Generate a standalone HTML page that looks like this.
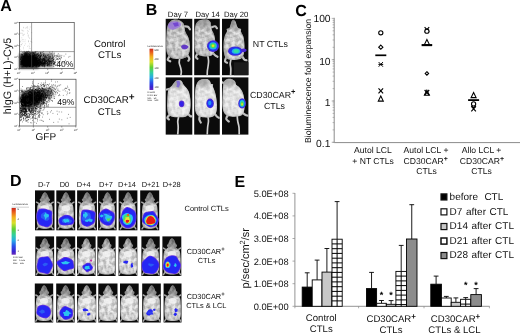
<!DOCTYPE html>
<html><head><meta charset="utf-8"><title>Figure</title>
<style>
html,body{margin:0;padding:0;background:#fff;}
body{width:520px;height:333px;overflow:hidden;}
svg{display:block;will-change:transform;}
text{font-family:"Liberation Sans", Arial, sans-serif;fill:#111;text-rendering:geometricPrecision;}
.b{font-weight:bold;fill:#000;}
</style></head><body>
<svg width="520" height="333" viewBox="0 0 520 333">
<defs>
<filter id="bl" x="-10%" y="-10%" width="120%" height="120%"><feGaussianBlur stdDeviation="0.55"/></filter>
<filter id="bl2" x="-20%" y="-20%" width="140%" height="140%"><feGaussianBlur stdDeviation="0.9"/></filter>
<filter id="tb" x="-5%" y="-5%" width="110%" height="110%"><feGaussianBlur stdDeviation="0.25"/></filter>
<linearGradient id="cbar" x1="0" y1="0" x2="0" y2="1">
<stop offset="0" stop-color="#c8281e"/><stop offset="0.08" stop-color="#e85a1c"/><stop offset="0.2" stop-color="#f2b01e"/>
<stop offset="0.32" stop-color="#d8e02a"/><stop offset="0.45" stop-color="#5fd035"/><stop offset="0.58" stop-color="#2fd0a0"/>
<stop offset="0.7" stop-color="#28a8e8"/><stop offset="0.82" stop-color="#2a50e8"/><stop offset="0.93" stop-color="#3a22d0"/><stop offset="1" stop-color="#6a2ab8"/>
</linearGradient>
<radialGradient id="body" cx="0.5" cy="0.5" r="0.6"><stop offset="0" stop-color="#f4f4f4"/><stop offset="0.7" stop-color="#d8d8d8"/><stop offset="1" stop-color="#a8a8a8"/></radialGradient>
<radialGradient id="hot" cx="0.5" cy="0.5" r="0.5"><stop offset="0" stop-color="#e8e020"/><stop offset="0.3" stop-color="#40d850"/><stop offset="0.55" stop-color="#20b8e8"/><stop offset="0.8" stop-color="#2030f0"/><stop offset="1" stop-color="#3a20c8"/></radialGradient>
<radialGradient id="hot2" cx="0.5" cy="0.5" r="0.5"><stop offset="0" stop-color="#40e0c0"/><stop offset="0.45" stop-color="#20a0f0"/><stop offset="0.8" stop-color="#2030f0"/><stop offset="1" stop-color="#5028d0"/></radialGradient>
<radialGradient id="hotr" cx="0.5" cy="0.5" r="0.5"><stop offset="0" stop-color="#e01010"/><stop offset="0.5" stop-color="#e81818"/><stop offset="0.62" stop-color="#f0d020"/><stop offset="0.72" stop-color="#40d850"/><stop offset="0.82" stop-color="#20b0f0"/><stop offset="0.92" stop-color="#2030f0"/><stop offset="1" stop-color="#4020c8"/></radialGradient>
</defs>
<rect width="520" height="333" fill="#fff"/>

<text x="0.3" y="11.2" font-size="16" text-anchor="start" class="b" >A</text>
<text transform="translate(11.2,114.2) rotate(-90)" font-size="10.8">hIgG (H+L)-Cy5</text>
<text x="35.6" y="140.2" font-size="10" text-anchor="start"  >GFP</text>
<rect x="19.6" y="52.8" width="34" height="14.799999999999997" fill="#111" opacity=".45" filter="url(#bl2)"/>
<rect x="19.6" y="54.5" width="19" height="14.099999999999994" fill="#000" opacity=".75" filter="url(#bl2)"/>
<path d="M28.9 48.2h.7M24.2 45.4h.7M24.9 52.2h.7M29.0 38.4h.7M28.1 41.8h.7M27.0 26.8h.7M22.3 33.3h.7M28.0 50.4h.7M27.1 46.3h.7M27.2 30.4h.7M22.7 41.7h.7M28.6 37.5h.7M27.9 35.3h.7M23.4 31.0h.7M24.6 41.7h.7M20.9 50.8h.7M23.8 51.0h.7M23.0 27.3h.7M27.9 36.4h.7M29.4 43.9h.7M24.9 43.8h.7M27.8 35.1h.7M21.9 43.6h.7M26.4 27.8h.7M21.5 37.8h.7M20.7 40.2h.7M24.3 34.3h.7M28.6 45.8h.7M20.4 42.1h.7M31.5 42.4h.7M31.4 32.6h.7M22.3 35.1h.7M22.4 30.8h.7M22.7 39.6h.7M29.3 46.7h.7M20.1 46.5h.7M27.3 33.5h.7M21.2 33.2h.7M23.2 47.3h.7M30.9 50.4h.7M29.8 48.6h.7M25.3 28.1h.7M22.4 30.3h.7M21.0 30.1h.7M23.4 27.9h.7M23.1 48.8h.7M22.5 39.8h.7M29.8 27.0h.7M28.3 40.7h.7M20.0 49.8h.7M29.1 29.2h.7M31.1 41.6h.7M27.2 32.1h.7M20.0 44.9h.7M28.2 31.3h.7M20.0 41.5h.7M23.3 35.6h.7M30.0 41.3h.7M21.0 44.8h.7M28.2 41.4h.7M31.0 39.0h.7M27.4 28.1h.7M23.2 34.4h.7M24.8 39.9h.7M21.0 44.6h.7M20.3 33.2h.7M26.6 27.2h.7" stroke="#888" stroke-width=".7" fill="none" opacity="0.5"/>
<path d="M27.7 58.5h.7M29.8 63.0h.7M32.5 63.5h.7M38.3 55.9h.7M25.7 65.9h.7M29.4 61.5h.7M33.7 64.5h.7M36.2 64.0h.7M28.7 56.8h.7M47.0 62.6h.7M29.5 65.0h.7M28.8 62.9h.7M35.5 59.3h.7M53.9 63.6h.7M29.0 65.5h.7M27.1 63.1h.7M26.3 53.0h.7M32.8 62.2h.7M44.7 64.4h.7M29.0 65.4h.7M23.8 57.0h.7M33.5 61.1h.7M25.7 64.9h.7M24.8 64.2h.7M28.2 63.7h.7M25.1 55.5h.7M34.7 63.5h.7M26.7 62.7h.7M29.0 66.0h.7M46.3 61.7h.7M34.5 54.0h.7M28.2 66.4h.7M26.1 56.9h.7M28.1 56.6h.7M37.6 58.3h.7M55.1 65.0h.7M28.6 61.6h.7M35.2 52.0h.7M24.7 57.2h.7M42.9 62.3h.7M21.1 60.2h.7M29.2 64.3h.7M39.0 57.5h.7M30.5 64.0h.7M36.8 65.0h.7M40.3 57.0h.7M24.3 64.0h.7M30.2 64.6h.7M41.8 52.2h.7M35.3 63.0h.7M49.4 52.2h.7M27.9 64.3h.7M43.6 62.1h.7M30.0 59.5h.7M23.8 56.1h.7M23.8 63.9h.7M24.3 62.3h.7M28.8 60.1h.7M24.7 53.1h.7M29.8 58.0h.7M25.6 64.6h.7M50.9 61.4h.7M28.1 60.3h.7M29.2 62.7h.7M21.0 64.5h.7M33.9 61.8h.7M26.5 63.7h.7M30.2 61.4h.7M24.3 62.3h.7M53.7 59.0h.7M36.1 64.1h.7M29.4 65.8h.7M28.8 62.0h.7M34.9 51.9h.7M31.3 65.1h.7M22.1 66.7h.7M23.3 65.9h.7M45.8 58.8h.7M33.5 61.1h.7M25.5 63.2h.7M55.3 60.8h.7M49.8 59.2h.7M26.3 63.2h.7M45.4 60.7h.7M25.9 62.4h.7M34.1 55.4h.7M30.3 64.3h.7M34.5 62.3h.7M23.3 62.4h.7M25.3 56.2h.7M32.4 66.0h.7M32.9 64.3h.7M31.6 59.1h.7M33.0 52.8h.7M26.0 65.9h.7M22.5 64.8h.7M29.3 54.6h.7M25.3 63.2h.7M40.8 58.3h.7M21.3 61.3h.7M26.5 65.0h.7M28.9 52.9h.7M25.2 58.5h.7M40.0 61.4h.7M29.8 57.4h.7M34.8 63.8h.7M28.4 59.6h.7M33.2 66.3h.7M23.2 64.1h.7M24.8 64.1h.7M46.6 63.5h.7M26.8 51.9h.7M31.3 59.8h.7M28.2 54.5h.7M28.4 61.9h.7M54.9 62.6h.7M25.3 58.4h.7M42.4 61.6h.7M25.4 62.0h.7M33.6 65.3h.7M26.1 58.2h.7M35.8 57.5h.7M26.0 63.4h.7M47.6 61.9h.7M32.8 59.9h.7M36.2 59.2h.7M22.4 63.0h.7M28.2 63.5h.7M28.3 60.6h.7M25.6 58.4h.7M33.5 60.9h.7M26.3 63.6h.7M33.7 52.2h.7M34.9 57.4h.7M33.7 65.4h.7M23.8 63.0h.7M24.1 54.7h.7M51.0 61.3h.7M34.4 65.3h.7M47.6 63.4h.7M34.7 63.6h.7M36.5 60.9h.7M22.8 59.0h.7M36.4 66.1h.7M33.9 58.1h.7M28.9 63.7h.7M29.0 59.3h.7M30.4 60.7h.7M36.9 60.3h.7M34.7 59.0h.7M37.0 60.6h.7M53.0 61.2h.7M24.0 51.6h.7M30.5 63.7h.7M39.8 64.2h.7M24.0 63.1h.7M32.1 60.5h.7M25.7 61.0h.7M26.9 61.2h.7M35.4 53.4h.7M46.8 63.3h.7M25.5 55.8h.7M30.0 56.0h.7M27.4 62.0h.7M30.5 62.8h.7M47.3 65.4h.7M57.9 53.7h.7M42.2 59.8h.7M39.0 60.4h.7M30.7 62.7h.7M22.9 53.3h.7M25.3 59.4h.7M33.8 59.8h.7M27.5 62.0h.7M36.5 64.5h.7M38.0 63.1h.7M25.2 63.0h.7M24.2 65.7h.7M32.5 60.8h.7M55.3 65.4h.7M44.5 63.8h.7M44.3 59.6h.7M28.7 53.6h.7M22.4 60.4h.7M34.9 52.6h.7M23.8 61.9h.7M31.1 58.6h.7M34.6 63.6h.7M33.6 63.6h.7M26.5 55.7h.7M39.7 52.3h.7M22.9 64.6h.7M39.5 65.3h.7M23.7 64.1h.7M26.5 61.5h.7M23.6 62.7h.7M26.0 58.9h.7M31.0 61.4h.7M43.9 58.6h.7M25.0 64.5h.7M34.3 61.5h.7M27.1 59.4h.7M28.7 61.8h.7M36.0 60.9h.7M49.4 65.9h.7M30.9 59.3h.7M23.8 58.0h.7M33.3 61.9h.7M34.4 60.2h.7M44.2 61.8h.7M40.3 56.0h.7M27.1 65.9h.7M31.0 66.0h.7M28.3 56.9h.7M31.7 61.0h.7M26.5 55.3h.7M31.4 53.4h.7M21.8 61.7h.7M24.2 61.1h.7M35.1 63.2h.7M32.5 62.6h.7M37.3 62.3h.7M22.6 60.4h.7M37.1 56.6h.7M22.5 61.2h.7M27.0 64.6h.7M27.1 58.2h.7M43.1 59.1h.7M30.2 62.4h.7M39.6 63.0h.7M34.9 62.4h.7M34.1 58.5h.7M29.3 55.2h.7M28.0 63.3h.7M28.2 64.7h.7M25.9 62.6h.7M26.2 62.9h.7M26.0 54.4h.7M22.4 64.6h.7M23.1 56.5h.7M32.8 61.7h.7M25.2 59.9h.7M34.6 61.0h.7M34.2 59.3h.7M40.6 62.1h.7M30.3 59.5h.7M30.8 57.3h.7M25.0 58.2h.7M33.5 58.1h.7M28.5 62.3h.7M32.1 59.7h.7M29.3 64.8h.7M22.1 59.3h.7M25.8 61.9h.7M33.0 56.6h.7M35.2 57.6h.7M31.3 64.2h.7M39.2 65.1h.7M20.9 61.3h.7M31.1 63.4h.7M44.2 57.4h.7M26.1 58.5h.7M29.1 61.7h.7M41.3 63.7h.7M31.3 61.7h.7M31.1 57.0h.7M48.7 60.9h.7M28.1 63.3h.7M22.7 56.8h.7M24.8 57.5h.7M36.0 61.8h.7M28.1 58.7h.7M51.7 58.6h.7M25.1 60.1h.7M28.2 56.9h.7M24.6 56.2h.7M38.0 62.6h.7M37.3 64.5h.7M27.0 57.0h.7M26.1 55.6h.7M31.0 64.5h.7M59.3 58.8h.7M40.8 59.5h.7M21.0 64.4h.7M59.9 57.0h.7M33.7 61.1h.7M37.3 62.6h.7M35.1 56.6h.7M32.0 62.9h.7M39.3 59.9h.7M27.4 58.3h.7M27.5 66.3h.7M25.3 62.3h.7M26.9 55.6h.7M32.1 57.1h.7M33.6 65.1h.7M37.6 63.1h.7M31.0 57.4h.7M41.2 59.6h.7M44.5 57.8h.7M63.9 62.7h.7M36.4 61.3h.7M41.3 55.2h.7M23.9 58.1h.7M25.4 60.6h.7M41.4 60.5h.7M32.9 57.0h.7M48.1 61.4h.7M35.2 63.7h.7M35.1 62.9h.7M63.7 56.1h.7M28.2 62.0h.7M38.1 58.8h.7M28.9 64.5h.7M29.6 63.3h.7M34.6 60.6h.7M32.0 52.1h.7M49.8 61.0h.7M21.5 62.8h.7M44.7 63.0h.7M22.1 60.7h.7M48.2 63.3h.7M36.6 54.2h.7M26.7 54.7h.7M34.5 57.1h.7M33.0 60.8h.7M27.9 61.7h.7M24.5 65.5h.7M30.9 61.9h.7M28.4 53.4h.7M37.4 56.6h.7M24.4 64.7h.7M35.6 62.5h.7M26.4 63.8h.7M28.4 61.0h.7M27.5 63.3h.7M26.5 61.6h.7M40.7 60.9h.7M26.0 62.9h.7M30.9 52.4h.7M36.2 55.1h.7M26.9 59.2h.7M27.0 58.7h.7M27.3 57.3h.7M26.8 58.6h.7M25.0 63.9h.7M54.2 53.2h.7M22.6 63.9h.7M30.7 58.7h.7M20.6 61.4h.7M40.0 60.1h.7M57.4 58.8h.7M24.6 66.1h.7M30.1 61.9h.7M20.5 59.2h.7M28.2 60.0h.7M30.1 61.5h.7M27.2 62.0h.7M34.0 59.8h.7M36.5 61.9h.7M47.3 60.5h.7M47.8 57.3h.7M36.0 53.1h.7M36.9 65.3h.7M22.3 63.2h.7M34.3 55.4h.7M34.4 57.9h.7M29.5 59.9h.7M22.7 64.4h.7M29.0 54.6h.7M39.7 61.2h.7M34.3 63.6h.7M23.8 58.3h.7M31.8 56.1h.7M27.2 52.0h.7M30.4 59.6h.7M27.2 57.8h.7M25.4 60.3h.7M45.2 57.3h.7M43.9 63.4h.7M23.8 53.0h.7M33.5 62.3h.7M43.0 58.4h.7M24.9 60.7h.7M30.3 61.1h.7M37.8 59.0h.7M44.4 63.1h.7M25.3 62.1h.7M33.8 63.5h.7M39.8 59.4h.7M26.7 59.1h.7M36.1 64.5h.7M53.3 63.6h.7M28.7 63.3h.7M40.2 61.3h.7M34.9 59.2h.7M28.9 54.5h.7M32.6 64.4h.7M22.6 60.6h.7M36.1 61.2h.7M36.9 64.0h.7M29.4 60.9h.7M24.0 57.6h.7M30.9 63.4h.7M37.8 62.2h.7M40.8 54.9h.7M32.0 60.3h.7M44.3 65.5h.7M31.0 64.9h.7M36.2 60.0h.7M24.9 61.8h.7M23.8 64.3h.7M22.3 61.4h.7M40.5 62.8h.7M26.9 61.0h.7M36.7 61.5h.7M26.4 61.6h.7M33.1 63.9h.7M31.1 64.4h.7M40.3 64.6h.7M36.4 65.2h.7M36.5 65.3h.7M23.5 64.6h.7M36.9 64.2h.7M28.6 56.5h.7M24.2 60.9h.7M32.9 63.1h.7M23.2 59.9h.7M26.5 58.2h.7M29.8 63.6h.7M27.4 63.5h.7M24.9 58.8h.7M36.8 58.1h.7M21.5 56.4h.7M43.0 60.5h.7M30.2 55.9h.7M41.0 63.1h.7M25.9 55.4h.7M47.1 65.7h.7M24.0 63.2h.7M29.9 62.3h.7M29.1 61.6h.7M32.0 63.0h.7M30.4 59.1h.7M26.9 62.1h.7M27.6 62.6h.7M28.5 62.5h.7M26.7 63.7h.7M28.1 51.6h.7M28.2 65.6h.7M48.7 58.7h.7M25.6 54.4h.7M23.4 56.5h.7M37.6 61.4h.7M37.5 62.6h.7M32.4 64.7h.7M57.1 61.9h.7M27.3 62.9h.7M29.2 64.6h.7M21.5 63.7h.7M49.9 65.6h.7M40.7 61.3h.7M44.2 60.9h.7M28.4 64.8h.7M48.3 60.0h.7M26.0 58.5h.7M24.7 65.4h.7M31.5 63.6h.7M30.9 62.1h.7M29.2 62.6h.7M24.6 61.8h.7M32.4 64.3h.7M32.0 64.9h.7M39.6 60.2h.7M29.0 63.3h.7M24.7 57.1h.7M27.1 61.8h.7M25.5 63.2h.7M32.3 56.8h.7M43.7 56.4h.7M25.7 58.3h.7M25.7 53.6h.7M27.3 62.5h.7M29.8 62.8h.7M35.0 61.3h.7M23.5 63.5h.7M38.1 55.7h.7M24.0 64.5h.7M31.1 59.3h.7M45.6 60.5h.7M25.6 64.1h.7M27.3 65.0h.7M23.8 60.9h.7M27.2 64.7h.7M24.6 63.4h.7M22.7 58.4h.7M68.4 57.1h.7M48.4 64.1h.7M30.4 53.7h.7M23.9 55.6h.7M28.7 64.0h.7M32.1 65.7h.7M22.5 61.2h.7M32.4 64.0h.7M26.4 60.4h.7M39.1 64.4h.7M54.3 62.9h.7M26.0 62.5h.7M24.9 65.3h.7M34.8 55.7h.7M34.8 59.5h.7M39.9 64.0h.7M25.7 64.9h.7M28.0 64.6h.7M50.0 57.1h.7M24.4 62.3h.7M28.6 58.7h.7M48.8 62.6h.7M34.2 65.1h.7M57.1 56.5h.7M24.5 56.1h.7M27.5 65.5h.7M35.4 58.8h.7M29.2 64.3h.7M44.5 64.6h.7M34.9 57.9h.7M37.4 63.4h.7M23.8 63.5h.7M25.8 52.9h.7M29.7 59.4h.7M24.9 60.8h.7M29.3 66.3h.7M47.7 65.9h.7M39.3 61.8h.7M40.7 61.5h.7M30.6 60.2h.7M40.6 53.5h.7M26.3 66.4h.7M25.9 64.8h.7M23.4 57.0h.7M23.6 62.0h.7M25.8 64.6h.7M26.4 56.6h.7M29.0 60.1h.7M30.0 52.3h.7M25.1 64.8h.7M26.4 61.9h.7M55.8 56.2h.7M29.3 60.3h.7M29.8 65.4h.7M48.8 62.0h.7M25.9 58.2h.7M36.9 61.3h.7M37.0 54.6h.7M23.2 60.6h.7M39.1 65.4h.7M48.2 61.5h.7M34.7 64.1h.7M41.8 54.2h.7M32.7 62.0h.7M29.2 61.9h.7M40.2 64.3h.7M30.1 60.8h.7M26.9 63.2h.7M40.3 58.7h.7M28.4 65.2h.7M29.0 66.5h.7M23.0 61.8h.7M27.2 63.1h.7M43.1 64.1h.7M30.9 59.0h.7M48.7 58.0h.7M33.2 63.2h.7M28.5 64.8h.7M33.8 64.7h.7M24.4 62.2h.7M39.2 60.2h.7M51.5 63.1h.7M39.0 65.3h.7M21.8 61.8h.7M25.8 65.4h.7M39.4 57.0h.7M42.6 63.7h.7M31.2 60.1h.7M29.9 60.0h.7M30.5 53.3h.7M23.7 63.9h.7M33.7 63.4h.7M29.9 62.4h.7M38.9 62.0h.7M30.3 62.9h.7M43.4 59.9h.7M26.6 65.5h.7M31.8 55.9h.7M43.1 62.6h.7M30.2 66.0h.7M38.9 59.0h.7M31.3 61.8h.7M29.9 64.6h.7M30.1 61.5h.7M24.6 65.6h.7M35.1 59.1h.7M29.2 59.6h.7M38.7 59.8h.7M26.9 56.2h.7M33.2 60.7h.7M33.9 63.6h.7M25.6 63.8h.7M25.7 62.6h.7M44.1 66.1h.7M31.0 60.2h.7M30.0 60.7h.7M38.2 62.1h.7M32.2 60.2h.7M29.5 61.6h.7M30.3 63.5h.7M28.3 55.5h.7M44.5 64.7h.7M33.2 64.5h.7M28.5 63.7h.7M32.5 52.8h.7M25.3 54.2h.7M53.6 56.6h.7M26.4 65.1h.7M29.7 62.2h.7M23.6 63.7h.7M54.9 62.3h.7M61.7 62.2h.7M28.4 61.3h.7M39.3 61.1h.7M58.5 57.3h.7M42.4 56.6h.7M29.3 63.4h.7M43.4 63.7h.7M27.1 53.8h.7M30.8 59.7h.7M59.4 58.5h.7M34.8 58.2h.7M24.9 60.4h.7M28.8 64.2h.7M39.9 55.9h.7M23.8 60.1h.7M26.3 52.1h.7M45.1 63.1h.7M25.4 64.2h.7M33.8 64.0h.7M34.0 60.9h.7M40.8 61.7h.7M44.1 59.3h.7M32.8 59.8h.7M43.0 54.6h.7M42.4 59.9h.7M32.8 61.9h.7M29.1 62.1h.7M35.1 60.3h.7M34.3 53.8h.7M37.3 63.9h.7M36.4 61.2h.7M36.9 61.8h.7M25.2 61.2h.7M46.7 64.3h.7M29.5 63.6h.7M23.5 62.1h.7M43.3 63.6h.7M30.6 64.6h.7M44.7 59.5h.7M38.7 61.1h.7M29.7 58.6h.7M24.5 57.8h.7M41.4 63.7h.7M37.9 53.0h.7M41.7 65.3h.7M32.0 58.6h.7M44.5 63.3h.7M24.9 53.7h.7M38.8 65.9h.7M58.1 59.3h.7M61.1 57.1h.7M29.0 63.8h.7M35.1 64.3h.7M26.6 57.2h.7M45.6 56.4h.7M30.9 64.0h.7M28.5 63.2h.7M23.3 62.3h.7M32.9 62.6h.7M53.2 57.6h.7M23.0 58.7h.7M33.2 60.3h.7M30.3 59.8h.7M25.2 63.0h.7M23.2 59.7h.7M29.0 55.3h.7M25.2 63.4h.7M31.8 59.1h.7M30.8 61.2h.7M32.2 62.1h.7M27.3 57.3h.7M44.3 63.0h.7M24.0 63.5h.7M26.9 57.3h.7M27.2 61.0h.7M29.8 61.6h.7M30.5 59.8h.7M27.9 62.2h.7M26.7 62.3h.7M49.6 62.3h.7M23.7 57.6h.7M31.4 64.3h.7M32.9 60.3h.7M31.0 62.1h.7M24.3 53.2h.7M24.1 65.5h.7M28.4 63.0h.7M28.3 55.9h.7M23.7 58.9h.7M43.1 58.6h.7M31.9 65.7h.7M24.6 58.5h.7M30.2 59.8h.7M32.9 65.7h.7M28.4 57.7h.7M22.3 62.4h.7M33.4 57.3h.7M59.7 58.6h.7M29.6 53.9h.7M32.9 64.0h.7M24.8 61.4h.7M53.5 62.3h.7M38.2 65.2h.7M51.3 63.4h.7M52.6 57.7h.7M33.1 61.8h.7M48.3 64.8h.7M27.2 61.9h.7M34.4 64.6h.7M48.1 60.2h.7M30.1 64.8h.7M20.9 54.1h.7M21.1 62.5h.7M32.7 55.2h.7M24.9 59.0h.7M47.0 65.6h.7M42.9 55.5h.7M27.1 55.9h.7M38.6 65.5h.7M31.5 63.5h.7M32.7 63.7h.7M24.1 62.0h.7M44.6 56.0h.7M23.9 62.7h.7M25.5 64.2h.7M21.5 60.9h.7M43.7 64.3h.7M25.2 56.2h.7M28.7 62.4h.7M27.3 65.4h.7M42.7 60.4h.7M28.0 61.4h.7M24.2 57.1h.7M23.3 65.8h.7M34.4 62.1h.7M35.9 59.4h.7M25.3 63.0h.7M24.0 57.1h.7M33.1 64.2h.7M35.4 60.8h.7M25.5 61.2h.7M23.6 65.3h.7M33.6 62.9h.7M25.4 64.2h.7M36.8 64.4h.7M27.5 57.5h.7M35.9 60.2h.7M23.3 64.6h.7M39.9 62.7h.7M30.0 60.0h.7M23.5 59.2h.7M23.1 56.7h.7M23.9 60.7h.7M38.1 64.5h.7M30.4 59.3h.7M33.3 58.9h.7M31.2 66.0h.7M28.9 62.8h.7M41.5 63.2h.7M24.4 58.8h.7M40.0 53.5h.7M49.5 60.5h.7M22.4 60.5h.7M38.1 60.3h.7M43.9 65.9h.7M23.7 65.8h.7M33.2 53.5h.7M35.4 60.6h.7M22.3 64.3h.7M24.6 62.5h.7M35.7 62.3h.7M31.6 60.8h.7M33.4 56.9h.7M28.9 62.0h.7M27.8 62.9h.7M33.0 60.1h.7M30.1 58.3h.7M29.9 62.7h.7M28.4 62.9h.7M47.0 55.6h.7M25.7 63.6h.7M26.7 61.9h.7M29.6 59.1h.7M38.5 66.1h.7M30.4 65.8h.7M38.3 64.4h.7M42.2 61.0h.7M24.6 59.8h.7M28.1 63.4h.7M49.6 63.6h.7M39.1 58.1h.7M26.2 62.0h.7M27.5 62.6h.7M23.5 60.8h.7M25.8 54.5h.7M33.1 63.2h.7M38.8 61.9h.7M32.7 53.1h.7M29.8 65.6h.7M21.0 60.4h.7M56.1 55.4h.7M38.0 63.2h.7M27.5 61.6h.7M24.9 52.6h.7M43.8 54.4h.7M25.4 63.3h.7M38.8 60.0h.7M42.4 58.9h.7M30.1 58.0h.7M25.3 65.1h.7M34.3 61.5h.7M28.7 51.7h.7M44.8 63.1h.7M27.6 59.1h.7M34.2 63.9h.7M30.9 60.3h.7M25.2 64.6h.7M31.4 53.9h.7M23.4 65.9h.7M57.0 55.7h.7M29.5 62.1h.7M43.6 58.7h.7M44.3 63.1h.7M31.0 61.7h.7M39.9 65.2h.7M29.6 65.2h.7M43.4 65.8h.7M30.5 59.6h.7M53.8 64.0h.7M26.0 56.9h.7M38.2 62.4h.7M41.7 52.4h.7M32.0 62.4h.7M26.6 63.2h.7M35.0 64.4h.7M35.2 63.8h.7M26.6 60.2h.7M23.6 64.5h.7M27.2 58.6h.7M37.4 60.5h.7M27.3 58.6h.7M34.3 58.9h.7M39.2 57.1h.7M26.8 61.4h.7M27.1 60.0h.7M36.4 58.1h.7M27.4 58.6h.7M31.9 57.0h.7M36.7 62.9h.7M25.6 57.2h.7M25.9 63.4h.7M34.2 65.4h.7M42.6 63.0h.7M32.1 63.4h.7M26.1 65.6h.7M54.8 55.6h.7M40.2 52.3h.7M26.4 64.8h.7M24.7 62.0h.7M43.8 61.5h.7M29.9 58.3h.7M26.6 62.7h.7M47.5 57.8h.7M59.5 63.9h.7M33.7 59.2h.7M40.0 53.1h.7M34.5 54.0h.7M33.9 58.6h.7M28.4 60.1h.7M31.0 63.6h.7M32.1 64.0h.7M44.5 59.0h.7M57.6 54.9h.7M25.2 64.4h.7M30.6 57.8h.7M33.7 61.5h.7M28.5 63.2h.7M33.8 62.8h.7M25.7 62.4h.7M25.8 60.5h.7M43.8 66.2h.7M52.1 51.9h.7M52.6 54.0h.7M31.6 56.8h.7M44.5 62.7h.7M30.9 59.7h.7M24.9 65.9h.7M40.6 55.9h.7M42.3 57.8h.7M26.3 65.3h.7M49.5 61.2h.7M47.7 59.6h.7M31.4 63.3h.7M24.1 61.5h.7M26.6 59.3h.7M30.7 66.1h.7M34.4 62.8h.7M27.5 54.0h.7M29.5 58.7h.7M25.7 61.2h.7M20.7 61.3h.7M40.8 63.2h.7M23.8 62.2h.7M29.3 59.2h.7M23.8 62.2h.7M24.8 62.0h.7M30.4 63.3h.7M30.5 55.9h.7M37.9 63.7h.7M25.1 60.9h.7M29.0 63.7h.7M34.1 61.8h.7M36.0 59.1h.7M25.7 62.8h.7M35.4 62.2h.7M27.1 65.0h.7M24.9 62.2h.7M32.9 63.6h.7M33.2 63.4h.7M45.0 62.1h.7M52.0 62.6h.7M50.5 62.0h.7M27.0 57.3h.7M27.7 60.2h.7M25.8 60.3h.7M38.7 64.1h.7M53.2 63.4h.7M39.7 62.3h.7M29.9 60.5h.7M32.3 61.0h.7M26.0 56.5h.7M31.5 63.0h.7M26.8 54.4h.7M29.5 64.1h.7M42.0 63.5h.7M49.4 56.4h.7M26.9 63.9h.7M39.0 61.1h.7M29.2 52.3h.7M32.3 64.1h.7M28.6 53.6h.7M37.9 55.9h.7M30.8 66.4h.7M24.2 59.7h.7M36.6 64.9h.7M33.1 55.3h.7M27.6 61.1h.7M31.9 64.3h.7M32.6 54.1h.7M32.9 54.9h.7M25.9 54.4h.7M24.9 66.0h.7M26.8 52.4h.7M30.5 60.9h.7M26.0 61.2h.7M33.0 58.4h.7M25.2 61.5h.7M28.6 59.4h.7M32.7 60.5h.7M26.7 59.1h.7M27.9 62.6h.7M29.8 63.0h.7M39.2 59.4h.7M47.6 64.5h.7M29.8 59.1h.7M28.9 62.7h.7M28.3 58.8h.7M27.8 56.9h.7M38.3 55.1h.7M36.0 59.6h.7M36.1 62.3h.7M43.8 62.8h.7M24.8 57.7h.7M29.4 56.3h.7M26.3 62.8h.7M31.6 63.1h.7M28.7 51.5h.7M27.2 59.6h.7M27.7 58.4h.7M29.4 62.1h.7M34.8 59.8h.7M33.7 64.3h.7M26.4 51.7h.7M38.9 62.1h.7M26.1 59.5h.7M30.3 64.7h.7M25.3 62.1h.7M26.2 61.4h.7M31.0 62.3h.7M34.7 57.5h.7M28.2 61.1h.7M51.1 53.8h.7M30.1 63.2h.7M26.5 62.3h.7M30.2 59.3h.7M24.4 64.9h.7M24.1 59.1h.7M36.3 63.5h.7M34.1 57.1h.7M28.1 63.5h.7M25.0 64.2h.7M30.0 62.6h.7M34.9 59.6h.7M28.3 64.1h.7M48.6 56.4h.7M35.2 64.7h.7M40.9 55.1h.7M26.6 55.8h.7M42.9 58.4h.7M36.9 61.7h.7M31.8 58.3h.7M29.5 61.5h.7M37.0 62.6h.7M32.5 62.5h.7M35.9 63.0h.7M39.6 63.1h.7M27.3 63.2h.7M26.3 61.1h.7M36.5 61.5h.7M36.3 61.4h.7M28.1 57.8h.7M24.8 66.1h.7M29.4 55.3h.7M28.7 60.9h.7M35.1 62.9h.7M24.6 65.4h.7M24.2 63.1h.7M20.7 64.3h.7M34.9 59.9h.7M25.6 54.6h.7M39.8 59.2h.7M47.8 65.2h.7M31.7 62.0h.7M27.3 62.7h.7M30.7 59.9h.7M37.4 57.1h.7M28.4 62.6h.7M27.4 64.3h.7M28.0 59.6h.7M36.6 58.2h.7M38.7 59.0h.7M46.4 58.7h.7M27.6 60.8h.7M40.1 58.6h.7M35.0 62.3h.7M23.1 62.9h.7M31.0 64.1h.7M28.9 63.0h.7M20.6 62.2h.7M21.8 63.3h.7M32.8 57.9h.7M29.1 66.0h.7M56.5 56.9h.7M27.1 61.7h.7M47.7 55.4h.7M40.6 61.9h.7M27.6 57.3h.7M50.1 61.9h.7M34.1 61.2h.7M42.0 61.5h.7M57.5 59.1h.7M25.5 64.7h.7M34.5 64.8h.7M53.2 64.8h.7M38.7 60.0h.7M29.8 64.4h.7M24.9 59.1h.7M28.3 52.0h.7M25.3 64.2h.7M27.4 62.5h.7M28.0 52.9h.7M44.0 61.2h.7M47.7 61.0h.7M27.6 56.8h.7M28.9 62.5h.7M46.8 54.9h.7M24.5 62.6h.7M25.7 64.3h.7M30.1 58.4h.7M30.7 63.1h.7M38.3 62.9h.7M22.9 63.1h.7M35.4 64.4h.7M44.5 57.1h.7M24.3 59.8h.7M53.9 56.2h.7M31.7 53.7h.7M47.3 60.2h.7M28.8 66.2h.7M31.9 56.6h.7M25.1 64.4h.7M27.3 64.5h.7M31.5 55.7h.7M27.9 60.8h.7M45.3 62.1h.7M30.4 64.9h.7M46.0 60.8h.7M29.9 65.0h.7M39.0 60.6h.7M31.3 57.5h.7M34.7 59.1h.7M44.5 61.0h.7M29.9 63.9h.7M43.0 53.3h.7M27.3 63.1h.7M35.4 64.0h.7M30.6 57.0h.7M29.5 53.1h.7M33.6 59.6h.7M27.6 57.2h.7M26.6 66.2h.7M24.8 52.7h.7M30.7 65.3h.7M45.6 57.0h.7M31.0 64.7h.7M25.1 65.3h.7M33.6 62.5h.7M29.1 59.0h.7M38.3 58.2h.7M48.2 64.1h.7M27.8 57.7h.7M44.5 65.7h.7M35.9 59.3h.7M24.7 58.6h.7M34.3 56.4h.7M28.9 65.9h.7M33.6 64.6h.7M40.3 57.2h.7M41.5 64.8h.7M31.6 61.2h.7M26.7 64.6h.7M24.5 56.3h.7M49.5 57.4h.7M31.5 64.0h.7M31.9 55.5h.7M27.6 66.1h.7M26.5 63.0h.7M27.6 54.8h.7M27.6 63.4h.7M31.6 61.0h.7M34.3 59.3h.7M38.3 62.8h.7M31.1 52.4h.7M24.8 59.5h.7M29.9 66.1h.7M41.3 63.3h.7M34.6 54.1h.7M39.3 62.5h.7M28.8 63.3h.7M40.1 56.5h.7M33.2 59.2h.7M40.2 60.3h.7M34.7 60.5h.7M46.2 62.2h.7M40.2 62.2h.7M39.1 57.0h.7M24.3 63.1h.7M28.9 66.3h.7M48.8 62.8h.7M22.8 66.7h.7M28.4 62.1h.7M41.0 59.0h.7M26.4 62.7h.7M24.2 58.7h.7M42.0 63.2h.7M21.9 62.9h.7M45.2 60.3h.7M45.7 64.4h.7M41.4 62.0h.7M51.2 62.5h.7M49.3 58.6h.7M27.9 62.0h.7M29.9 63.4h.7M23.6 63.8h.7M33.2 63.8h.7M36.3 56.0h.7M42.4 62.0h.7M27.6 56.2h.7M30.1 56.2h.7M25.7 60.4h.7M35.1 59.4h.7M24.0 54.0h.7M28.0 59.3h.7M31.1 56.9h.7M42.2 60.3h.7M27.8 63.0h.7M28.6 56.3h.7M36.2 64.9h.7M37.7 63.6h.7M23.8 61.3h.7M30.3 55.9h.7M34.5 64.9h.7M34.2 52.9h.7M40.4 64.8h.7M25.9 60.9h.7M27.2 62.0h.7M32.4 64.6h.7M55.7 59.2h.7M26.3 64.1h.7M43.2 63.3h.7M45.3 59.5h.7M24.3 58.8h.7M35.6 59.3h.7M31.5 52.4h.7M25.3 63.3h.7M29.3 61.7h.7M35.7 64.5h.7M25.8 57.3h.7M29.8 62.7h.7M25.3 61.2h.7M28.6 56.3h.7M49.7 61.3h.7M31.5 63.2h.7M41.7 62.3h.7M34.9 52.2h.7M46.5 63.6h.7M26.8 62.5h.7M32.1 60.8h.7M35.9 65.0h.7M34.3 60.8h.7M30.2 54.5h.7M25.0 55.1h.7M33.7 57.3h.7M28.9 62.1h.7M43.2 51.6h.7M28.8 65.8h.7M30.5 57.4h.7M24.0 65.7h.7M40.8 55.5h.7M47.9 58.9h.7M43.5 63.6h.7M27.4 59.4h.7M37.8 59.4h.7M33.9 58.5h.7M32.0 58.2h.7M32.4 63.3h.7M23.7 61.4h.7M42.6 65.1h.7M39.7 55.3h.7M24.3 63.8h.7M23.2 64.0h.7M45.1 61.6h.7M39.9 57.4h.7M32.9 62.0h.7M24.3 65.4h.7M28.3 64.2h.7M33.2 58.3h.7M25.9 51.4h.7M26.9 56.5h.7M25.4 54.3h.7M30.9 61.7h.7M33.3 63.0h.7M26.8 64.7h.7M52.1 56.2h.7M51.3 58.3h.7M24.1 63.8h.7M29.3 62.7h.7M25.6 59.3h.7M32.2 59.1h.7M38.3 62.8h.7M26.0 53.1h.7M37.0 62.3h.7M33.2 62.8h.7M33.0 59.0h.7M32.5 58.8h.7M22.1 58.4h.7M50.0 56.4h.7M24.7 52.0h.7M32.1 61.0h.7M33.6 57.9h.7M23.6 63.2h.7M25.5 62.4h.7M20.2 58.6h.7M42.7 64.4h.7M38.5 66.0h.7M25.7 64.4h.7M39.3 64.0h.7M31.5 62.3h.7M61.8 66.0h.7M32.3 60.5h.7M24.2 62.0h.7M27.9 63.8h.7M26.8 54.0h.7M28.6 63.6h.7M22.0 55.0h.7M33.5 63.3h.7M65.5 54.1h.7M31.8 57.9h.7M42.9 57.9h.7M46.9 65.3h.7M39.3 63.7h.7M21.8 62.8h.7M38.2 62.7h.7M34.6 59.7h.7M29.1 52.8h.7M48.6 64.3h.7M36.2 65.5h.7M22.3 62.7h.7M21.3 61.7h.7M22.4 60.8h.7M41.1 63.9h.7M24.4 54.5h.7M41.7 59.6h.7M23.4 61.0h.7M31.2 53.2h.7M26.8 65.4h.7M30.0 53.4h.7M29.5 62.7h.7M27.4 64.7h.7M25.7 57.3h.7M42.5 62.9h.7M21.2 57.7h.7M36.1 61.3h.7M29.0 62.2h.7M25.3 58.4h.7M23.7 53.0h.7M45.8 61.9h.7M32.7 58.2h.7M29.4 54.6h.7M34.2 52.3h.7M20.4 59.2h.7M24.6 62.3h.7M25.0 61.2h.7M24.6 61.3h.7M25.4 57.3h.7M21.5 61.8h.7M40.2 59.2h.7M49.5 62.5h.7M32.9 62.8h.7M29.7 62.1h.7M26.2 62.7h.7M26.5 64.8h.7M54.1 64.5h.7M28.9 59.5h.7M26.1 61.2h.7M49.0 61.6h.7M29.5 57.3h.7M28.0 60.5h.7M30.6 59.4h.7M35.7 51.6h.7M29.5 60.1h.7M28.6 61.9h.7M32.2 57.6h.7M24.2 63.8h.7M24.2 55.1h.7M26.8 61.0h.7M40.1 54.8h.7M31.3 64.1h.7M31.7 57.5h.7M30.1 61.8h.7M41.3 62.8h.7M35.6 57.2h.7M34.4 62.1h.7M28.1 62.9h.7M28.1 53.4h.7M34.0 60.3h.7M22.3 58.8h.7M25.0 56.6h.7M32.5 62.1h.7M33.7 63.6h.7M36.0 58.6h.7M23.2 59.6h.7M39.1 63.3h.7M27.7 54.1h.7M30.0 58.8h.7M28.6 62.9h.7M34.1 64.5h.7M27.2 59.1h.7M27.0 62.2h.7M33.8 62.9h.7M47.2 63.8h.7M31.7 66.6h.7M36.0 60.3h.7M37.9 53.2h.7M31.0 61.4h.7M33.4 56.3h.7M26.6 64.4h.7M27.2 59.1h.7M27.0 58.3h.7M32.1 62.2h.7M36.5 58.5h.7M29.3 64.9h.7M34.9 64.2h.7M42.4 65.9h.7M45.4 63.0h.7M27.4 57.9h.7M44.5 59.5h.7M22.1 52.3h.7M35.8 60.0h.7M44.2 60.6h.7M32.0 59.7h.7M32.3 59.0h.7M25.8 62.5h.7M31.2 60.9h.7M34.8 61.1h.7M23.3 52.0h.7M44.4 58.3h.7M50.5 63.7h.7M34.5 55.2h.7M34.3 64.2h.7M40.2 56.7h.7M58.9 56.6h.7M48.8 63.5h.7M32.4 56.3h.7M24.5 62.3h.7M25.1 60.4h.7M31.1 60.7h.7M22.4 59.9h.7M28.5 60.8h.7M25.4 62.8h.7M38.0 62.1h.7M36.5 63.8h.7M28.4 57.6h.7M33.7 63.8h.7M34.8 58.6h.7M30.4 63.8h.7M33.1 64.2h.7M39.0 63.4h.7M25.7 62.0h.7M27.2 57.0h.7M31.6 56.8h.7M27.3 53.6h.7M28.6 61.5h.7M29.5 57.2h.7M65.0 60.3h.7M38.2 66.1h.7M29.2 58.7h.7M31.6 64.5h.7M40.2 56.6h.7M37.3 64.9h.7M25.5 63.2h.7M23.0 59.0h.7M38.1 61.2h.7M41.4 62.8h.7M37.7 60.4h.7M26.0 64.5h.7M25.1 60.5h.7M47.5 60.2h.7M45.2 55.1h.7M26.5 59.8h.7M30.6 61.3h.7M51.0 61.3h.7M40.1 58.4h.7M52.5 60.1h.7M34.2 62.7h.7M23.9 57.5h.7M27.0 64.2h.7M22.4 56.4h.7M26.2 56.5h.7M26.8 57.9h.7M31.3 60.1h.7M25.3 62.3h.7M36.7 61.7h.7M29.2 63.0h.7M27.9 60.5h.7M26.8 65.2h.7M26.3 60.7h.7M28.6 61.1h.7M26.3 63.0h.7M31.5 63.2h.7M38.1 60.5h.7M35.0 62.3h.7M34.5 65.3h.7M28.4 56.3h.7M25.3 53.3h.7M24.5 63.8h.7M24.8 63.9h.7M46.4 61.6h.7M44.2 63.6h.7M24.4 62.2h.7M48.6 56.0h.7M33.3 59.9h.7M36.1 64.2h.7M46.0 57.1h.7M34.8 63.7h.7M26.7 63.9h.7M39.8 64.5h.7M32.3 63.2h.7M26.8 61.7h.7M43.7 60.7h.7M37.9 60.6h.7M26.8 55.6h.7M69.6 56.4h.7M29.2 62.8h.7M51.8 60.9h.7M23.8 61.6h.7M22.3 63.3h.7M47.3 62.1h.7M43.9 60.2h.7M27.3 63.7h.7M33.8 62.1h.7M28.1 63.6h.7M44.7 60.8h.7M27.2 61.7h.7M29.9 61.9h.7M21.6 55.1h.7M43.4 59.1h.7M23.2 60.4h.7M32.1 56.9h.7M25.7 61.8h.7M34.0 60.4h.7M23.3 56.4h.7M24.1 62.6h.7M27.5 61.0h.7M24.3 58.3h.7M23.9 64.3h.7M35.3 62.4h.7M42.5 65.9h.7M33.6 62.0h.7M31.2 60.0h.7M31.7 61.9h.7M33.1 52.7h.7M43.2 55.7h.7M23.4 64.9h.7M41.7 64.5h.7M43.6 55.2h.7M25.1 64.9h.7M25.8 58.5h.7M38.7 63.1h.7M37.5 53.5h.7M30.5 63.7h.7M32.7 54.4h.7M34.2 62.1h.7M22.7 60.0h.7M33.4 63.2h.7M48.9 65.0h.7M30.4 62.9h.7M31.5 61.7h.7M26.0 63.9h.7M37.5 60.0h.7M23.4 57.4h.7M27.0 60.9h.7M27.8 56.3h.7M24.6 62.9h.7M31.8 61.7h.7M41.0 60.1h.7M28.6 59.5h.7M39.8 57.9h.7M29.5 61.3h.7M25.5 61.1h.7M54.0 63.4h.7M32.5 60.9h.7M43.7 60.1h.7M51.5 60.2h.7M35.0 66.2h.7M27.6 57.6h.7M26.5 58.9h.7M24.1 63.3h.7M38.2 64.6h.7M28.8 61.6h.7M24.0 55.8h.7M29.2 66.2h.7M30.6 65.6h.7M30.9 57.8h.7M21.8 57.0h.7M27.7 62.5h.7M50.8 64.8h.7M26.6 57.3h.7M39.5 63.8h.7M24.7 63.5h.7M27.8 62.5h.7M27.8 56.5h.7M43.4 64.6h.7M51.1 63.7h.7M30.3 61.4h.7M33.4 52.7h.7M24.6 65.4h.7M31.7 61.8h.7M25.3 64.4h.7M50.2 61.6h.7M43.3 62.0h.7M59.5 55.1h.7M23.8 62.7h.7M26.3 60.3h.7M27.8 59.4h.7M44.1 65.0h.7M39.3 65.3h.7M20.2 57.2h.7M38.0 66.4h.7M35.5 65.2h.7M27.4 61.1h.7M30.6 61.8h.7M27.7 63.1h.7M35.1 62.8h.7M24.7 63.4h.7M27.3 63.1h.7M29.2 60.1h.7M45.1 64.8h.7M37.0 58.5h.7M24.8 58.6h.7M45.7 56.0h.7M27.7 51.9h.7M60.1 59.3h.7M35.4 62.3h.7M30.9 58.7h.7M38.5 60.0h.7M24.7 53.0h.7M37.9 65.4h.7M45.1 65.9h.7M35.8 55.0h.7M38.8 57.0h.7M41.1 64.2h.7M34.1 65.4h.7M23.6 55.7h.7M42.2 61.1h.7M35.4 57.3h.7M26.1 63.9h.7M37.0 59.8h.7M31.3 60.2h.7M44.5 60.5h.7M29.0 58.5h.7M28.8 64.4h.7M30.7 63.4h.7M35.6 62.8h.7M26.8 59.0h.7M26.7 55.1h.7M23.2 61.6h.7M25.1 60.5h.7M25.0 56.4h.7M26.9 63.1h.7M38.1 61.7h.7M24.0 62.9h.7M42.6 62.7h.7M53.0 60.0h.7M25.1 61.0h.7M43.1 58.4h.7M35.4 59.5h.7M24.2 57.5h.7M23.2 59.4h.7M24.3 58.7h.7M22.1 62.7h.7M33.3 60.6h.7M52.1 57.1h.7M45.9 63.5h.7M33.6 56.7h.7M27.9 63.8h.7M26.5 63.9h.7M53.4 66.5h.7M42.0 59.4h.7M29.2 58.4h.7M45.1 55.9h.7M25.6 56.8h.7M41.9 64.2h.7M52.2 58.7h.7M22.8 62.1h.7M26.4 60.2h.7M42.2 64.5h.7M39.2 64.5h.7M41.0 65.5h.7M30.4 65.4h.7M24.6 58.9h.7M39.9 62.7h.7M48.4 54.5h.7M28.0 63.8h.7M35.6 59.1h.7M20.3 64.5h.7M45.4 63.2h.7M32.1 63.8h.7M25.5 63.1h.7M32.9 61.7h.7M32.0 60.8h.7M47.8 57.1h.7M25.5 62.6h.7M35.2 60.2h.7M30.4 57.5h.7M34.0 60.7h.7M29.1 59.6h.7M33.8 53.7h.7M28.2 62.3h.7M29.3 63.7h.7M35.7 61.2h.7M44.1 66.9h.7M49.1 58.2h.7M34.9 63.5h.7M43.7 53.4h.7M43.1 56.0h.7M32.6 60.0h.7M33.7 61.7h.7M37.3 66.3h.7M25.0 61.1h.7M28.2 65.2h.7M26.8 64.5h.7M49.8 53.9h.7M64.4 61.6h.7M27.6 62.5h.7M26.5 57.0h.7M24.0 62.0h.7M27.4 54.2h.7M36.0 54.6h.7M34.9 65.9h.7M42.2 58.8h.7M28.8 64.7h.7M48.2 62.3h.7M50.3 61.7h.7M35.8 59.3h.7M37.6 63.9h.7M37.2 58.0h.7M28.2 58.8h.7M31.7 55.9h.7M25.8 61.3h.7M39.3 55.1h.7M44.2 63.3h.7M26.2 64.9h.7M28.7 61.7h.7M25.9 58.5h.7M31.3 59.1h.7M28.4 62.7h.7M25.5 62.3h.7M28.9 65.2h.7M22.9 63.2h.7M29.5 60.8h.7M45.9 60.9h.7M24.5 62.1h.7M24.1 59.3h.7M27.2 65.5h.7M32.4 63.1h.7M22.8 63.4h.7M27.5 65.2h.7M49.8 58.6h.7M33.5 62.0h.7M32.0 52.9h.7M35.1 61.6h.7M31.5 63.9h.7M27.4 59.9h.7M35.6 62.0h.7M29.8 55.7h.7M33.1 53.4h.7M42.2 65.4h.7M39.4 59.1h.7M43.1 60.1h.7M30.1 65.4h.7M32.0 63.8h.7M32.7 66.4h.7M28.4 55.0h.7M33.5 61.4h.7M24.9 59.3h.7M27.8 59.7h.7M32.3 62.0h.7M25.3 59.2h.7M28.5 64.7h.7M48.7 60.6h.7M44.3 62.6h.7M30.7 63.4h.7M40.2 65.9h.7M25.0 57.8h.7M27.8 61.4h.7M29.3 62.1h.7M27.9 63.5h.7M27.4 62.9h.7M26.5 62.7h.7M31.6 63.9h.7M50.8 59.1h.7M27.0 56.7h.7M25.4 62.3h.7M28.4 59.5h.7M53.9 62.0h.7M38.4 63.0h.7M40.5 58.7h.7M43.5 59.8h.7M36.8 60.6h.7M35.4 58.4h.7M53.4 63.5h.7M59.9 61.0h.7M43.7 64.4h.7M21.8 57.1h.7M31.7 54.8h.7M21.2 63.4h.7M21.7 59.1h.7M21.3 60.2h.7M24.9 56.9h.7M56.9 59.2h.7M28.3 60.9h.7M28.5 64.8h.7M28.3 63.0h.7M34.0 61.3h.7M28.8 57.7h.7M31.2 58.1h.7M34.9 58.5h.7M28.8 60.8h.7M39.5 66.0h.7M26.9 51.6h.7M49.7 57.4h.7M21.2 54.6h.7M33.3 62.3h.7M33.1 56.9h.7M24.6 54.1h.7M29.6 60.5h.7M44.4 58.3h.7M32.4 63.6h.7M42.1 63.8h.7M24.3 55.4h.7M33.7 60.3h.7M36.7 64.8h.7M46.6 57.9h.7M28.0 63.6h.7M43.2 66.0h.7M25.3 63.5h.7M51.8 60.8h.7M33.4 60.4h.7M34.2 54.5h.7M34.1 60.9h.7M32.8 62.5h.7M32.2 66.6h.7M29.0 56.5h.7M31.9 59.9h.7M33.4 55.4h.7M40.6 52.9h.7M39.0 65.7h.7M54.2 55.1h.7M25.0 62.7h.7M23.5 64.4h.7M32.7 63.4h.7M22.9 60.1h.7M25.5 56.6h.7M26.9 59.3h.7M40.8 63.8h.7M26.6 63.3h.7M38.6 62.8h.7M25.8 60.6h.7M30.1 58.5h.7M27.6 60.1h.7M34.8 62.4h.7M36.4 65.1h.7M61.5 55.4h.7M31.9 58.2h.7M22.6 61.7h.7M32.3 62.3h.7M34.1 60.7h.7M25.0 52.7h.7M33.0 63.1h.7M24.5 62.2h.7M51.6 63.1h.7M37.6 54.7h.7M33.4 55.3h.7M47.4 64.6h.7M34.3 63.1h.7M25.7 61.3h.7M36.3 62.0h.7M30.9 58.8h.7M26.4 60.5h.7M26.8 63.0h.7M38.5 66.2h.7M45.4 62.0h.7M36.1 66.8h.7M39.0 66.0h.7M29.2 62.6h.7M25.8 54.8h.7M27.9 60.4h.7M30.5 61.5h.7M54.5 62.8h.7M26.7 63.6h.7M31.4 56.7h.7M45.3 58.6h.7M42.9 64.7h.7M23.5 62.3h.7M25.8 63.4h.7M24.7 58.5h.7M33.1 62.2h.7M29.3 56.6h.7M23.0 58.1h.7M35.1 62.1h.7M32.4 63.8h.7M28.5 58.3h.7M24.6 62.4h.7M30.8 65.4h.7M25.9 61.6h.7M25.3 55.5h.7M29.7 64.8h.7M34.7 63.3h.7M25.3 65.1h.7M26.8 64.0h.7M42.7 65.3h.7M22.5 57.6h.7M23.7 57.7h.7M36.8 60.7h.7M33.1 61.5h.7M36.5 62.7h.7M48.9 64.4h.7M26.2 60.2h.7M31.9 63.6h.7M28.9 58.4h.7M25.6 65.6h.7M26.8 64.4h.7M32.9 66.3h.7M32.8 62.8h.7M28.8 61.0h.7M39.5 62.0h.7M38.3 63.1h.7M37.3 63.5h.7M42.9 63.3h.7M29.2 62.6h.7M37.3 54.0h.7M48.4 59.3h.7M32.7 53.3h.7M32.5 64.9h.7M25.3 54.0h.7M39.6 56.2h.7M28.3 61.8h.7M36.3 57.2h.7M41.4 65.4h.7M22.2 63.7h.7M40.4 61.8h.7M49.6 63.1h.7M53.4 61.8h.7M37.3 64.4h.7M22.8 61.0h.7M42.2 63.7h.7M53.3 59.6h.7M31.1 62.0h.7M23.8 61.2h.7M29.9 61.4h.7M39.7 59.9h.7M32.3 59.3h.7M27.3 59.3h.7M24.4 62.5h.7M42.9 63.4h.7M29.5 63.0h.7M30.9 62.8h.7M38.5 64.7h.7M27.3 63.3h.7M37.4 64.4h.7M29.8 59.3h.7M52.3 58.0h.7M32.1 58.8h.7M27.6 64.1h.7M42.3 61.2h.7M25.9 64.4h.7M36.0 61.7h.7M34.0 61.8h.7M26.7 56.7h.7M28.7 63.4h.7M27.8 61.4h.7M23.6 56.7h.7M36.9 64.2h.7M23.1 59.5h.7M38.9 62.7h.7M38.7 54.7h.7M31.1 56.9h.7M22.5 56.9h.7M26.7 66.1h.7M36.2 64.6h.7M49.6 60.0h.7M31.4 64.4h.7M23.4 63.9h.7M26.2 58.9h.7M26.1 58.3h.7M28.4 64.6h.7M25.4 55.9h.7M40.4 62.4h.7M25.9 62.2h.7M34.5 60.6h.7M20.4 63.6h.7M25.3 65.0h.7M40.1 63.2h.7M26.8 66.6h.7M29.7 56.9h.7M48.7 64.6h.7M24.3 56.1h.7M26.3 53.2h.7M24.4 63.1h.7M27.0 65.7h.7M47.1 63.0h.7M33.6 61.1h.7M31.8 62.8h.7M25.8 60.0h.7M51.4 65.4h.7M23.9 60.3h.7M40.1 62.7h.7M28.8 57.1h.7M35.0 55.6h.7M47.7 65.9h.7M33.3 63.2h.7M34.6 60.4h.7M34.1 56.1h.7M45.8 57.3h.7M26.8 63.0h.7M33.6 60.3h.7M26.8 62.8h.7M33.1 62.1h.7M23.0 59.6h.7M21.0 62.0h.7M40.6 63.9h.7M35.2 64.3h.7M27.3 60.8h.7M34.4 58.6h.7M53.0 59.7h.7M27.5 61.9h.7M31.3 57.4h.7M29.2 64.3h.7M33.1 56.7h.7M52.6 58.8h.7M38.8 64.2h.7M40.2 62.8h.7M25.0 54.8h.7M23.7 58.2h.7M27.4 63.5h.7M52.2 55.3h.7M44.6 56.1h.7M31.7 63.5h.7M31.7 53.2h.7M53.5 59.1h.7M36.2 64.4h.7M25.5 62.4h.7M39.4 60.9h.7M26.3 60.9h.7M36.8 51.8h.7M35.0 61.8h.7M29.4 54.7h.7M22.9 65.4h.7M25.6 61.6h.7M52.6 61.4h.7M26.9 64.2h.7M32.6 62.5h.7M27.1 63.3h.7M42.9 59.4h.7M40.3 61.3h.7M30.7 64.8h.7M35.6 61.4h.7M26.7 53.8h.7M36.8 59.3h.7M34.2 54.7h.7M23.3 56.2h.7M25.4 55.7h.7M22.6 64.7h.7M24.0 60.7h.7M24.6 61.9h.7M56.7 58.7h.7M35.6 60.0h.7M28.2 61.3h.7M35.7 62.9h.7M25.1 66.4h.7M30.4 59.5h.7M38.2 60.7h.7M30.8 63.1h.7M35.1 64.9h.7M33.4 65.2h.7M28.7 61.1h.7M39.4 62.2h.7M52.3 60.8h.7M31.0 59.9h.7M43.3 55.4h.7M31.3 64.9h.7M26.5 54.1h.7M25.2 60.1h.7M22.4 55.1h.7M36.1 58.0h.7M29.8 59.9h.7M26.1 55.4h.7M24.0 58.8h.7M49.5 65.8h.7M30.0 61.2h.7M34.0 63.4h.7M28.6 59.6h.7M28.3 59.8h.7M21.5 58.2h.7M46.6 60.1h.7M41.9 62.8h.7M33.2 60.7h.7M30.0 59.2h.7M30.4 60.6h.7M34.4 58.0h.7M56.4 59.3h.7M30.1 52.7h.7M39.5 59.5h.7M24.9 59.9h.7M25.8 59.7h.7M49.1 61.6h.7M42.3 59.9h.7M38.7 58.8h.7M31.6 62.8h.7M24.7 66.4h.7M20.7 63.4h.7M28.3 64.0h.7M48.6 59.2h.7M28.6 63.3h.7M40.5 64.4h.7M29.8 65.1h.7M27.0 63.9h.7M23.0 60.1h.7M30.1 65.7h.7M23.5 63.4h.7M26.3 61.9h.7M34.9 60.9h.7M34.1 60.5h.7M27.5 63.9h.7M32.7 59.9h.7M44.9 57.1h.7M26.7 52.6h.7M48.9 61.5h.7M28.7 59.4h.7M41.1 62.4h.7M26.4 58.1h.7M30.6 57.7h.7M41.5 60.8h.7M41.2 61.9h.7M29.8 59.9h.7M24.5 57.2h.7M31.8 60.0h.7M32.9 62.1h.7M23.7 54.2h.7M30.1 58.2h.7M36.9 62.7h.7M24.8 59.3h.7M33.3 61.1h.7M23.6 62.3h.7M24.2 64.6h.7M42.9 60.9h.7M38.8 60.0h.7M59.7 55.8h.7M31.4 62.5h.7M47.0 58.8h.7M24.1 61.6h.7M43.3 63.2h.7M23.8 61.8h.7M40.9 56.7h.7M26.9 56.5h.7M25.7 59.4h.7M46.5 59.5h.7M25.2 63.7h.7M35.9 66.4h.7M30.9 62.7h.7M49.6 61.5h.7M27.5 63.4h.7M30.5 57.4h.7M28.6 60.7h.7M24.7 60.1h.7M37.8 60.2h.7M32.1 52.6h.7M21.5 63.9h.7M36.6 61.3h.7M36.8 66.0h.7M24.6 53.3h.7M33.3 60.7h.7M31.4 65.5h.7M32.3 66.6h.7M31.6 66.9h.7M25.6 64.1h.7M29.7 55.7h.7M57.0 66.1h.7M27.6 64.9h.7M41.9 66.0h.7M30.9 66.6h.7M46.0 65.3h.7M24.0 56.4h.7M46.3 57.6h.7M29.8 58.9h.7M30.2 62.0h.7M29.3 64.8h.7M29.5 65.6h.7M24.1 66.1h.7M43.9 63.2h.7M30.1 62.1h.7M20.0 59.5h.7M32.6 60.3h.7M46.8 62.8h.7M31.0 56.4h.7M47.3 64.5h.7M25.5 61.7h.7M32.4 54.5h.7M23.4 63.0h.7M29.4 62.5h.7M38.4 59.2h.7M24.8 60.3h.7M24.5 61.6h.7M38.1 60.6h.7M32.5 57.9h.7M26.0 53.4h.7M36.5 64.2h.7M32.2 64.2h.7M38.4 55.5h.7M33.4 55.7h.7M32.3 58.0h.7M48.0 59.1h.7M31.2 63.7h.7M31.7 54.8h.7M26.6 60.1h.7M30.4 54.8h.7M30.2 63.0h.7M47.1 62.4h.7M25.3 63.3h.7M34.4 60.0h.7M32.7 63.2h.7M25.9 63.5h.7M29.4 60.4h.7M35.0 54.5h.7M32.3 64.0h.7M47.3 61.9h.7M28.6 61.9h.7M62.7 63.1h.7M37.9 65.1h.7M21.5 61.9h.7M54.0 62.9h.7M38.4 62.2h.7M35.5 61.0h.7M39.9 60.4h.7M23.7 60.3h.7M27.9 62.3h.7M25.4 58.3h.7M30.1 59.9h.7M58.1 56.2h.7M24.9 63.9h.7M33.6 62.0h.7M29.4 58.4h.7M44.5 56.4h.7M31.3 64.2h.7M49.7 60.8h.7M40.4 56.4h.7M43.7 59.4h.7M30.3 61.1h.7M22.5 54.2h.7M38.7 55.3h.7M49.4 63.6h.7M32.8 63.2h.7M30.5 60.9h.7M41.6 66.4h.7M28.1 64.8h.7M21.5 62.8h.7M30.6 65.6h.7M24.1 59.9h.7M46.1 61.5h.7M22.4 59.5h.7M37.4 62.2h.7M22.5 64.9h.7M25.1 62.3h.7M28.4 58.8h.7M27.0 52.3h.7M30.7 57.6h.7M23.8 65.1h.7M24.7 64.0h.7M61.0 57.9h.7M37.9 63.1h.7M32.8 62.9h.7M55.6 57.4h.7M45.2 63.3h.7M30.2 56.7h.7M47.7 59.5h.7M23.5 61.0h.7M26.2 66.9h.7M31.8 62.8h.7M25.2 62.7h.7M41.2 63.8h.7M21.2 57.2h.7M25.3 65.9h.7M30.6 60.5h.7M44.6 62.2h.7M24.4 63.5h.7M36.4 62.8h.7M23.4 61.2h.7M30.3 57.6h.7M44.0 59.6h.7M45.5 61.3h.7M35.6 58.0h.7M54.5 61.6h.7M25.2 60.9h.7M45.5 61.0h.7M22.5 58.3h.7M45.9 60.7h.7M30.3 61.5h.7M26.0 64.6h.7M34.7 55.2h.7M33.1 57.7h.7M24.4 58.4h.7M36.3 59.5h.7M23.9 59.9h.7M27.2 61.3h.7M32.4 61.9h.7M48.2 60.5h.7M41.9 62.2h.7M26.6 59.1h.7M34.1 58.4h.7M30.6 63.0h.7M29.4 60.0h.7M34.2 62.8h.7M49.7 64.1h.7M22.4 59.4h.7M40.1 64.0h.7M30.5 60.9h.7M35.8 60.6h.7M25.5 63.4h.7M32.6 57.8h.7M27.1 62.0h.7M28.2 57.8h.7M30.8 64.4h.7M24.0 60.6h.7M25.8 54.1h.7M22.0 54.6h.7M27.4 61.2h.7M26.9 64.3h.7M29.4 64.2h.7M34.5 60.7h.7M36.4 58.5h.7M44.3 62.9h.7M29.5 60.5h.7M20.1 62.3h.7M52.9 64.4h.7M29.0 57.2h.7M34.6 62.6h.7M34.8 64.8h.7M28.3 60.3h.7M43.1 64.0h.7M26.4 64.3h.7M28.4 64.9h.7M27.4 57.9h.7M42.3 63.3h.7M25.0 63.7h.7M42.1 60.5h.7M31.2 60.1h.7M39.0 61.5h.7M32.6 62.3h.7M33.1 55.6h.7M21.4 57.9h.7M40.1 63.0h.7M52.8 61.1h.7M27.9 61.1h.7M28.5 59.9h.7M28.1 64.9h.7M23.8 61.0h.7M44.7 61.4h.7M25.6 58.1h.7M44.1 62.3h.7M25.6 62.1h.7M30.7 56.2h.7M26.4 59.1h.7M30.4 65.6h.7M21.7 66.0h.7M41.5 62.4h.7M33.1 64.9h.7M39.6 63.0h.7M32.5 55.6h.7" stroke="#000" stroke-width=".7" fill="none" opacity="0.8"/>
<rect x="19.6" y="22.6" width="54.6" height="45.99999999999999" fill="none" stroke="#333" stroke-width=".65"/>
<path d="M31.6 22.6V68.6M19.6 51.6H74.2" stroke="#555" stroke-width=".55"/>
<text x="56.3" y="67" font-size="8.6" text-anchor="start"  >40%</text>
<ellipse cx="31" cy="98.5" rx="11.5" ry="8.5" fill="#000" opacity=".7" filter="url(#bl2)" transform="rotate(-12 31 98.5)"/>
<ellipse cx="45" cy="93.5" rx="9" ry="5.5" fill="#000" opacity=".45" filter="url(#bl2)" transform="rotate(-15 45 93.5)"/>
<path d="M21.7 109.9h.7M27.7 103.8h.7M45.3 93.6h.7M24.8 100.6h.7M28.7 94.0h.7M30.1 93.8h.7M21.8 106.7h.7M31.9 95.6h.7M40.4 91.9h.7M22.5 92.0h.7M52.1 87.5h.7M26.4 96.8h.7M38.4 93.9h.7M40.7 86.8h.7M38.7 98.8h.7M33.9 92.9h.7M39.9 96.8h.7M38.6 99.8h.7M27.0 107.0h.7M23.2 98.4h.7M45.4 97.6h.7M29.0 102.2h.7M43.4 100.0h.7M37.8 92.9h.7M36.2 106.2h.7M41.5 96.0h.7M33.8 103.7h.7M27.0 91.3h.7M42.0 90.8h.7M41.5 101.5h.7M31.3 95.6h.7M30.2 99.8h.7M40.2 106.7h.7M38.2 98.3h.7M23.2 99.4h.7M38.3 88.3h.7M23.9 100.6h.7M21.7 101.4h.7M38.2 111.8h.7M30.3 102.2h.7M31.9 94.7h.7M33.9 103.5h.7M21.9 92.6h.7M24.5 104.2h.7M23.2 111.2h.7M38.6 88.9h.7M20.8 94.2h.7M36.6 94.8h.7M48.3 97.2h.7M37.6 96.6h.7M40.9 83.0h.7M34.0 103.4h.7M28.0 97.5h.7M39.9 98.4h.7M39.6 106.7h.7M35.0 111.5h.7M26.6 106.3h.7M43.2 90.0h.7M41.4 91.3h.7M28.6 105.5h.7M42.6 103.0h.7M22.3 102.2h.7M34.2 94.3h.7M38.4 86.8h.7M31.2 93.4h.7M23.0 105.4h.7M30.6 89.6h.7M25.9 109.9h.7M29.5 105.0h.7M47.3 96.7h.7M46.4 85.1h.7M25.1 107.9h.7M38.8 98.8h.7M30.8 92.6h.7M37.5 100.7h.7M26.6 102.4h.7M43.8 93.0h.7M43.4 95.3h.7M33.1 106.5h.7M54.4 91.4h.7M41.5 95.7h.7M41.4 95.2h.7M31.4 90.3h.7M30.3 92.3h.7M42.8 96.1h.7M34.5 96.2h.7M35.3 89.6h.7M37.1 102.4h.7M23.8 100.5h.7M45.7 97.4h.7M50.2 89.1h.7M23.3 106.1h.7M21.1 107.7h.7M41.0 99.2h.7M32.1 93.5h.7M45.7 95.6h.7M40.0 96.1h.7M46.1 98.2h.7M34.0 94.1h.7M36.2 98.7h.7M39.5 102.6h.7M42.2 90.9h.7M48.2 98.2h.7M38.1 89.6h.7M37.6 106.4h.7M38.0 94.2h.7M29.6 96.8h.7M44.5 104.7h.7M32.8 94.5h.7M28.4 92.6h.7M49.8 93.8h.7M23.5 96.4h.7M23.7 112.5h.7M22.7 100.6h.7M21.0 101.2h.7M48.7 91.3h.7M24.9 99.6h.7M19.9 92.8h.7M28.4 106.7h.7M24.8 110.4h.7M46.4 101.6h.7M38.9 95.3h.7M27.3 103.6h.7M24.7 96.8h.7M34.1 105.3h.7M39.0 96.0h.7M34.2 86.5h.7M26.7 93.4h.7M55.4 93.1h.7M42.7 92.6h.7M24.0 103.4h.7M30.1 92.4h.7M35.6 102.0h.7M35.4 100.8h.7M40.6 99.2h.7M25.8 114.7h.7M41.6 97.4h.7M33.7 99.2h.7M26.8 106.4h.7M33.2 112.0h.7M24.5 101.1h.7M25.9 105.0h.7M42.3 104.9h.7M25.7 102.9h.7M22.3 107.5h.7M41.8 88.9h.7M38.4 92.4h.7M39.3 99.4h.7M32.0 97.6h.7M37.3 102.0h.7M34.5 100.1h.7M28.7 109.2h.7M30.6 97.4h.7M21.7 108.4h.7M39.0 100.4h.7M48.7 94.9h.7M30.1 99.3h.7M26.5 105.1h.7M27.5 98.9h.7M32.6 97.5h.7M37.7 92.0h.7M34.5 101.7h.7M40.4 98.6h.7M22.7 103.1h.7M33.4 99.5h.7M28.1 101.7h.7M33.8 90.9h.7M38.9 93.3h.7M45.3 98.0h.7M34.6 99.6h.7M37.3 98.9h.7M32.9 111.0h.7M32.7 97.6h.7M29.3 95.3h.7M26.7 102.2h.7M21.5 97.5h.7M33.7 91.1h.7M26.2 104.8h.7M49.4 95.3h.7M40.5 95.9h.7M24.7 99.2h.7M29.4 98.8h.7M24.0 102.9h.7M34.4 99.5h.7M25.3 105.4h.7M36.2 98.0h.7M31.2 100.0h.7M23.7 103.3h.7M36.3 97.9h.7M32.4 106.5h.7M25.0 91.8h.7M31.8 93.3h.7M45.0 94.9h.7M26.8 100.3h.7M38.3 92.4h.7M33.0 97.5h.7M37.3 86.8h.7M21.9 105.5h.7M35.3 98.4h.7M41.7 94.3h.7M37.2 102.5h.7M20.8 103.7h.7M24.6 108.4h.7M21.9 105.9h.7M24.5 93.9h.7M38.6 102.9h.7M32.6 94.2h.7M22.5 107.5h.7M36.3 94.8h.7M31.2 95.2h.7M38.7 90.2h.7M35.3 91.8h.7M33.4 103.9h.7M32.3 99.7h.7M40.4 89.4h.7M35.9 109.8h.7M19.9 115.8h.7M39.4 98.0h.7M28.4 87.8h.7M32.6 99.8h.7M43.8 93.6h.7M36.6 95.1h.7M28.9 111.0h.7M44.4 91.1h.7M41.4 90.9h.7M31.6 102.5h.7M24.0 103.3h.7M36.0 98.6h.7M29.3 109.7h.7M31.2 93.2h.7M27.9 94.7h.7M31.3 99.1h.7M23.8 97.2h.7M26.5 97.6h.7M41.9 99.2h.7M30.0 88.8h.7M32.9 95.6h.7M35.5 105.1h.7M22.0 90.1h.7M29.0 104.9h.7M36.8 95.3h.7M29.3 101.5h.7M37.6 85.3h.7M31.7 103.0h.7M34.2 98.4h.7M42.8 85.3h.7M35.5 97.7h.7M44.3 105.5h.7M30.5 104.5h.7M25.1 100.9h.7M43.9 99.4h.7M53.7 85.9h.7M41.3 98.8h.7M39.7 98.6h.7M22.5 108.2h.7M26.0 88.9h.7M28.2 102.4h.7M29.4 106.5h.7M23.5 102.2h.7M27.1 96.9h.7M25.3 105.9h.7M21.3 95.8h.7M21.3 98.9h.7M39.4 108.1h.7M21.7 101.6h.7M29.2 90.2h.7M33.8 98.4h.7M38.8 87.3h.7M22.5 105.0h.7M31.7 92.6h.7M39.2 97.8h.7M47.5 88.3h.7M28.9 90.8h.7M27.3 102.9h.7M31.0 93.6h.7M25.1 105.2h.7M28.9 101.5h.7M40.3 98.1h.7M33.3 99.8h.7M25.5 102.9h.7M21.1 106.5h.7M35.6 96.6h.7M23.8 99.4h.7M37.1 100.4h.7M20.8 101.5h.7M21.4 99.7h.7M43.7 103.1h.7M41.5 103.2h.7M41.0 103.7h.7M48.0 90.3h.7M51.2 95.5h.7M26.6 102.3h.7M22.6 108.9h.7M35.8 102.1h.7M35.5 101.2h.7M25.9 95.8h.7M24.0 94.1h.7M43.4 91.4h.7M22.0 91.6h.7M27.1 98.5h.7M34.0 105.3h.7M28.9 100.7h.7M22.8 95.0h.7M45.9 89.1h.7M26.8 95.4h.7M53.2 84.7h.7M45.3 94.4h.7M26.0 105.6h.7M33.6 102.5h.7M45.9 97.5h.7M27.5 100.8h.7M34.9 91.8h.7M22.2 93.9h.7M24.4 92.0h.7M40.3 104.2h.7M46.7 106.3h.7M31.0 98.7h.7M24.4 105.0h.7M22.0 96.2h.7M23.9 101.4h.7M24.9 95.8h.7M40.0 92.6h.7M32.6 101.8h.7M23.5 90.3h.7M24.7 103.2h.7M28.4 93.1h.7M25.1 109.0h.7M44.5 98.4h.7M24.3 101.6h.7M29.4 95.1h.7M38.9 96.6h.7M26.2 108.6h.7M21.7 100.2h.7M30.7 98.3h.7M35.3 96.5h.7M30.3 100.3h.7M30.8 107.6h.7M44.3 96.6h.7M36.6 101.3h.7M25.3 99.0h.7M22.6 97.6h.7M36.8 104.8h.7M33.0 91.2h.7M23.9 101.3h.7M40.6 100.7h.7M48.9 88.8h.7M30.1 96.0h.7M27.5 92.8h.7M38.6 89.3h.7M40.2 105.6h.7M33.3 97.5h.7M24.6 106.1h.7M29.3 92.2h.7M41.5 93.1h.7M35.6 89.9h.7M23.9 108.8h.7M40.8 90.7h.7M22.9 99.4h.7M45.9 95.4h.7M33.7 98.6h.7M27.6 97.8h.7M36.0 98.4h.7M22.8 101.0h.7M30.0 96.0h.7M41.7 92.9h.7M26.0 96.1h.7M32.5 97.4h.7M25.4 103.1h.7M29.5 97.9h.7M31.5 104.6h.7M40.3 104.3h.7M24.6 90.3h.7M24.9 93.2h.7M42.8 98.3h.7M44.9 103.5h.7M36.6 98.3h.7M33.3 102.2h.7M23.6 98.4h.7M29.3 94.9h.7M30.6 101.4h.7M34.3 98.0h.7M32.9 112.3h.7M28.6 105.7h.7M22.8 93.5h.7M33.2 103.8h.7M30.8 94.1h.7M35.5 102.3h.7M42.2 93.9h.7M44.2 97.3h.7M36.4 101.0h.7M32.7 95.5h.7M36.2 92.8h.7M32.4 94.9h.7M29.7 105.3h.7M41.3 95.4h.7M24.3 97.5h.7M37.0 111.3h.7M45.8 97.5h.7M20.1 113.3h.7M26.3 98.3h.7M28.9 99.7h.7M33.2 97.6h.7M38.6 96.9h.7M46.1 89.9h.7M32.9 96.6h.7M45.3 96.9h.7M30.7 104.9h.7M36.2 96.1h.7M34.0 98.2h.7M23.0 100.3h.7M24.7 112.1h.7M32.4 97.6h.7M31.1 97.5h.7M47.2 84.5h.7M30.5 106.2h.7M38.3 100.2h.7M46.3 104.2h.7M35.9 118.6h.7M22.6 104.7h.7M29.2 99.9h.7M39.4 92.1h.7M47.4 101.2h.7M28.7 100.0h.7M29.1 89.3h.7M39.1 101.7h.7M43.9 95.2h.7M36.6 98.9h.7M24.1 103.6h.7M23.4 102.3h.7M38.3 99.4h.7M26.8 101.3h.7M45.4 96.0h.7M42.4 102.3h.7M30.6 92.6h.7M25.2 100.6h.7M26.5 109.8h.7M23.0 107.5h.7M36.1 101.9h.7M33.0 99.3h.7M21.1 104.0h.7M22.9 92.2h.7M28.0 90.3h.7M24.8 106.3h.7M43.8 99.9h.7M38.7 99.6h.7M35.8 105.8h.7M24.9 96.9h.7M21.2 104.3h.7M42.8 99.5h.7M28.9 94.5h.7M35.5 102.5h.7M25.0 96.5h.7M28.9 97.1h.7M28.4 105.2h.7M30.6 94.9h.7M33.0 96.3h.7M38.9 100.0h.7M21.5 95.9h.7M48.2 88.9h.7M39.2 92.9h.7M36.5 95.5h.7M33.0 96.7h.7M34.5 99.3h.7M33.3 90.9h.7M35.7 100.9h.7M31.6 92.5h.7M22.7 100.2h.7M24.2 99.6h.7M20.5 97.5h.7M37.9 96.2h.7M30.1 102.2h.7M25.9 101.6h.7M25.6 106.9h.7M33.2 108.1h.7M23.0 99.0h.7M41.6 104.9h.7M36.8 101.1h.7M23.4 103.8h.7M34.5 93.3h.7M29.4 103.3h.7M30.0 96.6h.7M65.5 88.4h.7M33.4 101.4h.7M33.2 94.0h.7M22.3 100.0h.7M39.9 97.2h.7M37.1 98.9h.7M28.7 102.6h.7M31.2 91.3h.7M28.6 107.0h.7M35.5 97.5h.7M41.0 96.0h.7M37.9 90.1h.7M22.6 95.3h.7M25.7 98.1h.7M32.2 98.4h.7M43.9 89.3h.7M31.1 99.2h.7M29.7 96.9h.7M25.1 101.9h.7M28.4 106.3h.7M41.4 98.7h.7M31.1 106.3h.7M24.9 96.4h.7M28.0 101.4h.7M21.4 101.4h.7M28.3 98.6h.7M24.2 97.3h.7M39.3 92.5h.7M27.9 97.7h.7M36.6 89.8h.7M42.8 104.1h.7M22.8 106.2h.7M25.6 111.9h.7M24.2 111.5h.7M29.8 95.9h.7M29.3 114.7h.7M34.8 90.7h.7M43.2 90.4h.7M29.3 102.9h.7M25.0 111.0h.7M30.1 99.9h.7M21.5 102.9h.7M28.3 90.3h.7M32.7 100.8h.7M21.4 91.6h.7M22.3 107.2h.7M34.2 97.9h.7M42.7 88.6h.7M44.0 102.0h.7M32.7 91.1h.7M25.7 111.3h.7M28.9 107.7h.7M36.7 94.9h.7M22.0 91.5h.7M43.8 89.0h.7M51.1 95.6h.7M35.9 101.4h.7M31.6 100.9h.7M39.2 88.4h.7M45.4 100.2h.7M33.1 93.2h.7M27.3 99.4h.7M43.8 94.7h.7M44.2 91.3h.7M23.8 95.2h.7M28.9 96.4h.7M42.9 84.3h.7M33.2 86.2h.7M25.9 101.5h.7M36.9 100.7h.7M21.0 100.6h.7M22.1 102.1h.7M21.3 96.5h.7M31.9 103.2h.7M22.6 94.1h.7M32.9 99.6h.7M39.2 91.2h.7M21.2 103.0h.7M43.9 107.1h.7M35.8 97.5h.7M32.7 97.6h.7M37.2 100.1h.7M20.7 103.0h.7M33.1 98.3h.7M24.8 100.8h.7M26.4 102.3h.7M30.4 98.0h.7M20.9 101.8h.7M45.5 90.8h.7M42.8 101.0h.7M37.8 103.7h.7M24.4 99.6h.7M29.4 97.9h.7M42.8 101.1h.7M21.3 106.2h.7M31.5 104.8h.7M41.3 98.0h.7M34.5 107.8h.7M28.2 102.3h.7M24.5 99.5h.7M38.8 102.8h.7M36.4 106.4h.7M28.6 94.3h.7M29.4 98.6h.7M23.1 94.3h.7M28.7 106.7h.7M38.1 95.1h.7M23.7 105.6h.7M47.8 106.6h.7M35.8 92.5h.7M39.5 93.6h.7M27.7 102.2h.7M45.5 91.9h.7M24.8 108.4h.7M28.7 110.5h.7M27.9 103.6h.7M39.0 98.3h.7M25.1 101.0h.7M49.0 87.6h.7M28.3 109.8h.7M29.8 103.9h.7M29.9 97.1h.7M29.6 103.2h.7M35.4 104.0h.7M28.2 106.9h.7M23.2 100.4h.7M25.1 98.3h.7M31.1 103.8h.7M46.4 98.4h.7M42.9 103.3h.7M40.0 92.8h.7M24.6 97.5h.7M31.7 112.1h.7M29.7 98.9h.7M24.5 105.7h.7M33.5 99.1h.7M21.2 99.5h.7M37.0 104.5h.7M36.9 103.7h.7M29.9 94.7h.7M41.0 94.9h.7M47.3 102.1h.7M24.7 106.6h.7M37.0 100.6h.7M35.7 100.6h.7M31.5 99.7h.7M35.3 95.4h.7M37.1 103.1h.7M32.5 97.5h.7M29.8 106.6h.7M31.3 89.6h.7M34.4 92.4h.7M37.3 94.9h.7M38.7 93.8h.7M37.1 91.8h.7M42.8 101.9h.7M22.9 102.4h.7M45.1 92.9h.7M28.1 93.6h.7M23.3 106.2h.7M21.7 110.3h.7M26.1 105.1h.7M39.6 92.2h.7M21.9 105.5h.7M30.5 99.8h.7M43.8 96.0h.7M43.0 94.7h.7M27.3 103.6h.7M28.3 105.3h.7M31.9 98.6h.7M24.6 94.1h.7M32.9 94.9h.7M40.2 94.9h.7M24.0 103.8h.7M33.5 97.9h.7M32.0 99.8h.7M25.4 98.4h.7M37.3 101.3h.7M36.5 92.3h.7M34.4 97.5h.7M42.8 114.7h.7M32.0 95.2h.7M23.1 105.5h.7M23.1 110.9h.7M34.7 86.6h.7M26.6 106.7h.7M50.2 98.2h.7M26.2 91.7h.7M20.3 108.1h.7M36.7 90.5h.7M38.7 91.5h.7M27.3 102.7h.7M23.9 99.0h.7M31.4 90.5h.7M38.2 95.9h.7M36.3 98.5h.7M29.9 97.8h.7M43.4 102.7h.7M26.4 97.5h.7M24.1 100.9h.7M29.1 97.1h.7M29.7 104.7h.7M36.2 99.0h.7M25.9 98.7h.7M23.1 101.0h.7M39.9 108.9h.7M28.2 100.2h.7M26.7 91.2h.7M39.1 96.1h.7M25.0 96.8h.7M28.3 92.1h.7M47.0 93.0h.7M42.5 93.3h.7M24.3 105.6h.7M24.7 100.6h.7M37.5 94.3h.7M40.8 102.7h.7M36.9 108.3h.7M21.3 100.8h.7M37.0 88.1h.7M43.2 98.0h.7M23.3 100.8h.7M34.3 113.5h.7M26.7 90.5h.7M35.1 103.9h.7M43.5 96.7h.7M25.6 102.5h.7M39.8 102.4h.7M22.6 96.7h.7M23.1 100.6h.7M35.7 88.1h.7M24.1 104.3h.7M31.9 100.7h.7M20.4 101.8h.7M28.9 109.0h.7M46.2 106.2h.7M25.0 105.9h.7M24.2 105.1h.7M41.4 96.0h.7M44.9 97.0h.7M24.9 105.3h.7M32.0 103.0h.7M43.7 97.1h.7M43.0 101.6h.7M35.5 101.7h.7M29.9 104.2h.7M30.2 98.3h.7M32.4 100.4h.7M31.8 101.3h.7M26.6 93.0h.7M39.8 95.2h.7M31.4 95.6h.7M32.7 103.1h.7M33.2 100.7h.7M31.0 100.8h.7M42.0 94.9h.7M30.2 94.6h.7M40.2 89.4h.7M50.2 93.2h.7M31.5 92.8h.7M42.0 93.5h.7M21.3 110.8h.7M40.2 105.4h.7M43.2 95.4h.7M40.8 88.7h.7M33.3 98.6h.7M28.1 98.9h.7M28.8 95.8h.7M36.5 104.0h.7M20.3 107.7h.7M38.9 92.7h.7M29.1 94.7h.7M34.4 94.3h.7M39.3 90.6h.7M30.5 100.8h.7M52.1 100.8h.7M32.0 102.1h.7M31.9 96.9h.7M34.7 106.4h.7M24.2 107.6h.7M34.1 88.2h.7M25.8 109.3h.7M38.4 90.0h.7M22.3 95.6h.7M30.9 91.2h.7M30.3 98.2h.7M35.2 97.4h.7M33.2 102.7h.7M41.6 97.1h.7M25.3 101.9h.7M25.7 103.4h.7M24.2 101.0h.7M22.8 98.1h.7M38.0 107.4h.7M21.8 101.3h.7M21.3 103.4h.7M25.1 109.7h.7M43.2 97.9h.7M27.2 97.9h.7M30.9 96.1h.7M29.9 102.6h.7M21.6 105.6h.7M26.7 101.9h.7M35.2 92.4h.7M20.7 106.4h.7M30.7 101.9h.7M33.3 107.9h.7M35.1 103.7h.7M31.3 104.9h.7M38.4 91.5h.7M26.5 97.4h.7M20.7 107.9h.7M25.4 103.0h.7M36.2 93.3h.7M21.3 104.1h.7M37.8 90.8h.7M23.7 99.0h.7M38.3 98.9h.7M25.0 97.2h.7M33.0 104.1h.7M46.6 93.9h.7M22.4 105.9h.7M33.9 97.8h.7M37.8 100.3h.7M27.7 97.2h.7M24.1 103.5h.7M34.7 111.3h.7M32.9 108.8h.7M51.0 91.5h.7M41.8 94.1h.7M23.7 109.3h.7M35.4 96.1h.7M26.2 101.0h.7M21.4 102.5h.7M30.8 104.6h.7M33.0 100.4h.7M43.5 93.5h.7M42.9 104.2h.7M21.4 90.3h.7M40.8 95.6h.7M35.2 105.5h.7M35.9 103.8h.7M21.4 103.6h.7M42.6 98.9h.7M28.2 96.4h.7M25.8 99.2h.7M34.1 98.9h.7M33.3 102.3h.7M23.4 111.6h.7M29.5 94.5h.7M29.8 100.7h.7M34.0 100.9h.7M37.9 92.3h.7M27.5 107.7h.7M33.1 102.9h.7M49.8 93.8h.7M20.7 92.8h.7M37.2 89.9h.7M31.1 100.4h.7M24.6 96.7h.7M27.2 105.5h.7M31.0 94.8h.7M33.5 98.4h.7M26.7 101.9h.7M25.6 94.5h.7M36.2 102.2h.7M26.1 106.1h.7M37.4 92.7h.7M23.0 97.3h.7M26.5 100.7h.7M36.2 99.5h.7M29.4 96.6h.7M44.3 86.6h.7M23.3 114.4h.7M32.0 89.8h.7M41.1 93.8h.7M47.7 91.1h.7M37.2 101.9h.7M32.1 101.6h.7M51.9 92.5h.7M27.9 108.1h.7M39.5 101.2h.7M42.7 97.4h.7M24.6 96.1h.7M29.2 99.4h.7M27.7 102.5h.7M35.5 96.4h.7M41.9 95.2h.7M24.6 100.6h.7M21.7 104.6h.7M34.8 101.5h.7M31.7 95.5h.7M21.9 98.3h.7M40.6 90.3h.7M31.4 95.2h.7M24.7 107.8h.7M42.3 104.0h.7M31.4 100.6h.7M40.8 93.8h.7M28.3 99.1h.7M35.8 100.2h.7M38.6 98.7h.7M30.5 87.6h.7M21.3 91.8h.7M26.5 100.1h.7M30.4 97.9h.7M22.7 102.5h.7M38.2 100.3h.7M37.4 100.3h.7M25.5 113.0h.7M38.6 106.1h.7M42.3 95.8h.7M33.0 108.4h.7M28.9 99.2h.7M36.7 90.5h.7M29.2 96.8h.7M31.6 98.9h.7M23.2 103.2h.7M37.4 88.1h.7M30.4 95.1h.7M38.8 95.2h.7M34.8 92.7h.7M37.7 102.5h.7M35.7 104.7h.7M42.2 91.0h.7M24.3 99.9h.7M30.1 112.2h.7M31.3 96.3h.7M21.6 95.3h.7M22.4 101.8h.7M38.8 91.1h.7M41.6 98.7h.7M26.3 98.0h.7M22.3 101.7h.7M37.4 97.5h.7M32.3 90.3h.7M30.2 95.5h.7M38.0 98.4h.7M33.6 103.1h.7M20.7 102.0h.7M32.4 96.8h.7M30.2 97.6h.7M43.8 99.8h.7M26.8 87.6h.7M33.2 92.9h.7M32.4 87.2h.7M35.1 100.2h.7M32.3 83.3h.7M29.9 99.2h.7M32.8 99.4h.7M24.9 101.5h.7M35.9 96.2h.7M42.9 95.2h.7M32.9 95.6h.7M35.7 100.3h.7M23.6 98.2h.7M43.3 84.6h.7M29.2 102.1h.7M20.4 99.8h.7M35.6 95.3h.7M25.2 106.0h.7M33.8 87.9h.7M33.2 93.3h.7M34.0 96.2h.7M40.1 96.2h.7M37.8 104.7h.7M29.3 99.4h.7M24.6 103.0h.7M47.0 91.8h.7M30.0 89.2h.7M29.3 109.9h.7M35.0 94.1h.7M21.9 101.2h.7M24.6 105.1h.7M24.2 114.1h.7M23.9 100.6h.7M28.6 94.4h.7M28.2 95.8h.7M35.9 97.2h.7M36.3 103.3h.7M46.9 92.7h.7M37.6 95.7h.7M31.5 111.1h.7M46.4 101.7h.7M32.7 98.6h.7M28.8 92.3h.7M22.8 99.0h.7M21.8 111.3h.7M36.3 90.4h.7M22.2 97.9h.7M46.1 105.0h.7M30.4 93.9h.7M36.1 91.9h.7M24.7 110.8h.7M35.2 99.5h.7M34.3 85.5h.7M29.2 106.2h.7M50.7 97.8h.7M25.5 98.2h.7M31.5 97.2h.7M28.3 107.3h.7M33.4 95.2h.7M20.9 99.5h.7M44.0 92.9h.7M28.6 104.5h.7M26.8 95.7h.7M31.9 101.6h.7M51.0 90.9h.7M48.6 93.1h.7M28.9 107.5h.7M27.3 98.1h.7M32.0 97.1h.7M24.7 90.8h.7M36.4 102.8h.7M30.6 92.9h.7M43.3 92.0h.7M22.5 105.7h.7M45.8 94.5h.7M33.9 100.0h.7M29.0 101.1h.7M26.2 98.0h.7M34.2 93.5h.7M27.2 98.9h.7M29.3 92.4h.7M20.5 102.1h.7M27.6 100.4h.7M36.6 101.2h.7M24.2 105.0h.7M23.0 100.7h.7M33.9 92.4h.7M32.5 93.2h.7M28.9 96.1h.7M26.8 100.7h.7M33.8 90.7h.7M26.1 97.3h.7M54.8 89.0h.7M37.8 94.8h.7M43.3 100.1h.7M25.9 99.5h.7M38.9 90.6h.7M22.7 105.8h.7M27.9 102.9h.7M41.1 98.6h.7M50.9 90.2h.7M21.8 108.7h.7M28.7 103.9h.7M23.6 100.0h.7M37.9 100.8h.7M38.0 95.9h.7M27.0 97.7h.7M24.4 100.4h.7M41.5 97.0h.7M29.7 111.8h.7M42.2 96.7h.7M40.2 106.8h.7M48.6 100.4h.7M31.3 92.7h.7M37.8 101.8h.7M39.2 98.9h.7M36.9 100.6h.7M23.5 107.0h.7M24.4 107.0h.7M34.0 104.9h.7M29.8 91.4h.7M22.6 101.0h.7M33.1 97.2h.7M40.5 91.1h.7M33.7 96.8h.7M37.4 94.3h.7M21.1 101.2h.7M22.5 114.9h.7M41.3 94.9h.7M35.6 100.7h.7M27.1 96.9h.7M25.9 91.1h.7M32.3 104.0h.7M29.6 91.7h.7M40.0 100.0h.7M33.0 103.8h.7M34.1 94.2h.7M20.6 119.5h.7M29.8 103.1h.7M39.2 93.8h.7M33.4 85.2h.7M35.8 109.1h.7M33.4 101.9h.7M37.0 92.5h.7M37.3 97.0h.7M26.1 88.2h.7M44.5 96.6h.7M33.3 87.0h.7M37.5 92.2h.7M33.0 102.6h.7M25.4 105.2h.7M32.0 94.2h.7M22.0 96.1h.7M45.2 95.8h.7M44.1 89.8h.7M24.6 105.9h.7M21.7 113.2h.7M27.7 96.8h.7M31.1 102.1h.7M50.0 99.0h.7M23.4 102.3h.7M29.4 100.7h.7M35.9 104.8h.7M30.6 95.0h.7M22.1 99.0h.7M23.4 93.1h.7M25.0 104.7h.7M34.2 92.6h.7M30.3 102.6h.7M44.5 92.1h.7M25.3 97.6h.7M28.8 107.1h.7M29.6 87.9h.7M35.1 98.8h.7M38.3 102.5h.7M33.4 96.2h.7M28.6 97.0h.7M44.5 105.9h.7M23.9 98.7h.7M39.2 99.0h.7M34.5 92.2h.7M27.1 96.7h.7M49.4 97.3h.7M44.4 100.5h.7M29.0 99.5h.7M25.3 101.0h.7M44.0 102.0h.7M28.1 108.4h.7M22.6 105.6h.7M40.1 100.7h.7M38.2 102.3h.7M39.1 100.8h.7M22.9 100.8h.7M49.0 99.0h.7M36.5 101.4h.7M35.7 102.3h.7M27.9 96.5h.7M45.2 81.0h.7M29.6 88.0h.7M28.4 109.2h.7M43.0 95.3h.7M41.2 91.1h.7M46.1 87.1h.7M33.5 96.8h.7M34.6 96.5h.7M27.8 103.7h.7M35.8 93.6h.7M41.1 90.5h.7M29.6 89.1h.7M32.2 98.7h.7M37.3 96.7h.7M24.4 100.3h.7M48.7 95.6h.7M48.6 92.0h.7M47.2 91.7h.7M33.3 98.2h.7M25.3 103.9h.7M29.6 94.5h.7M22.8 96.9h.7M29.2 106.2h.7M28.5 102.7h.7M36.1 98.6h.7M44.9 92.9h.7M25.8 101.3h.7M22.3 110.9h.7M34.7 104.1h.7M21.7 101.8h.7M25.4 105.3h.7M36.8 101.5h.7M30.8 99.3h.7M30.5 98.3h.7M29.6 106.9h.7M56.9 92.4h.7M22.3 95.3h.7M39.0 100.8h.7M29.1 99.4h.7M24.5 94.6h.7M32.2 98.6h.7M31.1 103.7h.7M21.3 103.7h.7M41.6 95.2h.7M36.3 101.6h.7M45.5 85.2h.7M36.1 88.3h.7M35.8 97.2h.7M22.7 102.0h.7M22.9 102.3h.7M29.9 99.6h.7M32.3 95.1h.7M45.8 95.8h.7M42.3 88.5h.7M38.4 99.8h.7M23.1 107.3h.7M46.3 97.0h.7M25.2 113.3h.7M35.0 103.6h.7M24.8 97.1h.7M38.5 88.5h.7M28.7 97.2h.7M35.1 100.2h.7M42.9 96.1h.7M23.0 104.1h.7M51.3 97.7h.7M41.0 95.9h.7M38.8 93.2h.7M38.6 103.6h.7M39.7 88.5h.7M40.4 84.5h.7M36.2 101.9h.7M28.9 96.6h.7M29.8 99.0h.7M40.0 96.7h.7M37.1 100.3h.7M27.3 103.0h.7M55.5 94.7h.7M25.1 98.1h.7M37.8 91.9h.7M31.1 101.8h.7M42.8 102.8h.7M38.5 99.6h.7M25.6 107.3h.7M28.7 100.9h.7M36.5 95.6h.7M34.0 97.7h.7M26.3 110.9h.7M22.0 98.8h.7M41.6 91.2h.7M37.2 96.1h.7M25.0 100.2h.7M26.7 97.9h.7M44.2 98.4h.7M24.7 115.1h.7M41.8 98.2h.7M36.8 98.8h.7M30.2 95.8h.7M33.7 100.8h.7M20.9 104.3h.7M43.9 97.4h.7M29.0 103.1h.7M23.1 110.6h.7M25.8 104.9h.7M23.3 102.6h.7M29.8 95.3h.7M25.4 99.0h.7M51.7 85.7h.7M22.3 105.5h.7M31.2 96.4h.7M32.7 104.6h.7M35.0 95.2h.7M43.4 89.6h.7M24.4 103.3h.7M43.5 99.4h.7M29.9 98.6h.7M28.5 93.9h.7M33.7 110.4h.7M48.3 92.9h.7M31.4 87.4h.7M30.3 102.6h.7M22.7 97.5h.7M32.6 97.5h.7M23.2 100.7h.7M20.1 90.7h.7M27.7 103.4h.7M41.0 95.7h.7M38.6 104.4h.7M27.8 102.3h.7M22.3 101.6h.7M34.6 102.6h.7M24.8 111.5h.7M32.1 103.1h.7M24.0 97.3h.7M37.9 98.4h.7M23.0 94.8h.7M27.6 102.1h.7M41.7 93.2h.7M28.4 97.9h.7M32.3 107.3h.7M33.1 91.7h.7M27.9 93.4h.7M23.5 104.8h.7M27.4 100.7h.7M30.5 98.1h.7M27.8 103.9h.7M22.7 97.5h.7M40.8 90.7h.7M32.2 93.4h.7M20.8 106.0h.7M22.2 105.5h.7M24.1 96.9h.7M34.2 96.0h.7M27.8 113.3h.7M28.9 108.3h.7M27.9 102.1h.7M40.0 99.1h.7M28.9 102.4h.7M37.5 87.1h.7M27.6 107.7h.7M23.5 95.2h.7M33.2 90.8h.7M29.8 104.1h.7M44.4 93.3h.7M27.2 103.1h.7M48.8 94.7h.7M21.2 111.6h.7M21.5 97.6h.7M48.0 94.3h.7M42.8 93.8h.7M41.0 94.1h.7M38.6 99.0h.7M42.3 103.7h.7M29.6 102.5h.7M21.4 114.0h.7M43.9 92.3h.7M22.3 104.4h.7M41.0 91.4h.7M22.5 106.5h.7M43.4 99.6h.7M21.0 105.5h.7M21.0 110.6h.7M25.6 96.1h.7M20.6 115.5h.7M43.4 96.1h.7M23.7 103.2h.7M52.5 89.8h.7M30.7 98.2h.7M30.4 95.0h.7M29.5 94.0h.7M34.2 103.5h.7M34.1 103.1h.7M32.3 90.2h.7M24.4 107.9h.7M27.2 100.0h.7M36.6 106.1h.7M31.2 110.4h.7M46.5 103.9h.7M33.3 95.9h.7M22.1 104.4h.7M30.0 104.8h.7M51.2 81.1h.7M45.0 99.7h.7M23.5 99.9h.7M32.7 103.1h.7M23.9 101.8h.7M26.8 106.1h.7M35.4 89.5h.7M38.0 96.0h.7M40.1 100.4h.7M34.7 92.6h.7M32.4 109.2h.7M26.2 94.7h.7M23.5 118.9h.7M26.4 89.1h.7M37.2 94.3h.7M25.0 96.1h.7M38.6 90.7h.7M38.7 97.2h.7M50.5 99.9h.7M21.1 109.7h.7M41.7 89.1h.7M35.7 108.2h.7M24.5 114.3h.7M42.1 96.5h.7M30.3 100.7h.7M25.8 97.4h.7M31.7 97.7h.7M25.0 105.1h.7M30.2 98.6h.7M35.1 94.1h.7M30.8 98.2h.7M22.6 108.7h.7M53.9 98.5h.7M22.8 102.3h.7M20.3 111.8h.7M20.6 101.4h.7M24.5 101.9h.7M39.3 110.7h.7M36.9 101.0h.7M34.9 100.3h.7M23.3 99.7h.7M32.4 86.4h.7M22.6 104.7h.7M29.5 105.2h.7M48.2 98.2h.7M21.8 106.5h.7M35.5 99.4h.7M39.4 88.2h.7M27.8 99.1h.7M38.6 86.4h.7M21.1 100.3h.7M21.8 107.0h.7M41.9 93.5h.7M21.2 103.9h.7M52.3 101.2h.7M51.3 92.9h.7M42.3 88.1h.7M30.1 92.0h.7M35.3 92.4h.7M28.6 106.9h.7M33.5 102.0h.7M31.7 97.9h.7M25.9 101.9h.7M40.3 97.3h.7M30.9 96.2h.7M43.4 88.8h.7M31.7 99.5h.7M31.5 93.8h.7M34.4 94.2h.7M36.4 99.8h.7M23.8 97.9h.7M32.4 96.1h.7M24.8 105.1h.7M37.8 95.5h.7M23.6 109.3h.7M38.1 103.5h.7M31.3 94.4h.7M37.2 90.7h.7M22.5 102.5h.7M29.5 96.3h.7M32.7 92.4h.7M57.0 81.8h.7M36.8 95.2h.7M22.1 99.2h.7M38.0 99.1h.7M40.9 85.3h.7M27.3 103.8h.7M28.8 91.6h.7M25.7 96.6h.7M29.7 91.6h.7M20.7 108.2h.7M25.2 102.2h.7M34.4 89.8h.7M36.1 101.2h.7M48.5 100.3h.7M32.9 96.4h.7M27.8 95.9h.7M35.6 94.3h.7M24.2 97.5h.7M43.3 96.0h.7M44.4 98.2h.7M23.3 118.3h.7M30.3 94.9h.7M39.4 94.3h.7M24.1 104.5h.7M25.0 95.3h.7M35.2 89.9h.7M24.5 102.8h.7M33.8 96.0h.7M39.4 94.2h.7M36.7 106.6h.7M24.7 94.9h.7M32.8 85.0h.7M39.1 98.4h.7M22.1 100.1h.7M30.3 96.6h.7M23.9 99.7h.7M53.3 93.8h.7M28.3 106.1h.7M21.6 99.6h.7M36.3 102.8h.7M38.0 98.5h.7M48.9 88.5h.7M32.5 99.2h.7M25.2 101.2h.7M21.2 100.9h.7M48.8 98.0h.7M22.9 114.6h.7M25.9 99.6h.7M32.3 94.3h.7M33.1 101.3h.7M33.8 100.7h.7M39.2 90.7h.7M28.4 94.7h.7M57.1 86.0h.7M28.0 101.4h.7M39.6 93.8h.7M38.7 95.9h.7M40.8 100.8h.7M21.2 99.2h.7M33.7 93.8h.7M26.3 102.9h.7M33.9 90.8h.7M40.3 89.4h.7M24.7 108.1h.7M29.3 103.0h.7M55.9 91.7h.7M28.7 102.0h.7M27.6 97.6h.7M24.0 93.3h.7M22.0 102.9h.7M23.8 108.2h.7M38.2 104.7h.7M27.2 103.0h.7M48.5 90.8h.7M25.0 109.7h.7M35.2 91.1h.7M38.3 92.6h.7M28.0 105.6h.7M39.2 98.1h.7M41.7 93.9h.7M39.5 94.2h.7M25.7 100.0h.7M26.1 102.4h.7M42.7 102.6h.7M23.2 105.6h.7M41.2 99.0h.7M42.5 89.4h.7M30.0 97.5h.7M50.1 92.8h.7M37.6 95.2h.7M25.0 103.2h.7M29.2 99.5h.7M45.3 96.9h.7M29.2 100.3h.7M32.7 99.4h.7M49.8 96.2h.7M32.5 94.7h.7M27.9 102.9h.7M40.6 93.8h.7M20.7 89.1h.7M28.6 96.1h.7M25.6 105.7h.7M29.2 100.5h.7M22.4 105.0h.7M40.0 98.4h.7M30.3 90.3h.7M24.8 100.2h.7M45.9 103.4h.7M33.8 106.7h.7M45.4 99.9h.7M34.0 91.1h.7M27.7 94.9h.7M34.9 98.4h.7M33.6 93.0h.7M34.1 105.7h.7M37.4 98.9h.7M34.6 98.8h.7M41.9 94.7h.7M21.9 106.9h.7M45.9 92.1h.7M21.1 101.2h.7M36.1 99.5h.7M49.3 98.8h.7M47.6 90.5h.7M37.3 105.1h.7M22.7 95.9h.7M23.4 100.6h.7M40.7 103.0h.7M39.7 97.6h.7M43.7 100.2h.7M36.2 99.0h.7M42.3 88.7h.7M22.8 96.9h.7M34.9 100.4h.7M39.4 95.3h.7M27.1 96.9h.7M32.2 90.7h.7M41.1 87.6h.7M32.4 99.8h.7M25.2 101.3h.7M34.0 96.4h.7M36.1 95.8h.7M21.7 104.0h.7M40.9 100.3h.7M23.6 99.2h.7M45.2 82.6h.7M21.6 92.2h.7M23.5 97.2h.7M27.6 96.6h.7M41.0 96.6h.7M22.2 102.3h.7M34.3 92.2h.7M27.4 94.2h.7M27.0 96.7h.7M21.7 107.7h.7M34.5 99.4h.7M25.2 102.5h.7M33.0 104.1h.7M35.4 92.9h.7M39.7 101.6h.7M23.3 102.5h.7M22.1 99.2h.7M24.6 104.1h.7M39.3 98.0h.7M26.2 95.8h.7M23.4 105.2h.7M41.8 94.6h.7M24.3 101.9h.7M24.7 107.0h.7M26.2 94.4h.7M32.2 102.0h.7M21.7 104.3h.7M33.2 92.5h.7M22.0 90.7h.7M54.1 98.2h.7M33.0 98.1h.7M43.4 97.9h.7M22.1 102.7h.7M28.1 103.4h.7M25.2 112.3h.7M21.4 100.7h.7M45.2 95.6h.7M43.2 102.1h.7M22.5 94.1h.7M29.7 106.0h.7M24.3 100.3h.7M34.7 102.7h.7M23.1 99.9h.7M30.0 112.2h.7M37.1 92.3h.7M33.6 92.4h.7M22.0 86.5h.7M43.7 100.3h.7M27.9 106.8h.7M46.0 92.4h.7M47.1 97.0h.7M31.6 90.7h.7M29.7 99.8h.7M29.4 91.4h.7M28.7 97.2h.7M36.4 89.4h.7M27.7 96.4h.7M23.2 95.6h.7M44.7 102.8h.7M27.6 91.8h.7M25.6 99.2h.7M37.3 91.6h.7M37.9 105.0h.7M29.0 98.6h.7M42.8 101.7h.7M41.1 108.6h.7M29.5 104.7h.7M22.8 107.1h.7M25.2 93.6h.7M45.8 94.0h.7M32.2 96.1h.7M21.7 112.6h.7M33.1 90.7h.7M29.1 101.8h.7M29.8 91.8h.7M23.9 103.1h.7M35.2 107.6h.7M41.5 89.4h.7M25.1 107.1h.7M43.3 98.9h.7M43.3 97.1h.7M38.4 100.3h.7M36.4 93.3h.7M33.0 101.0h.7M24.4 111.3h.7M39.2 97.3h.7M24.5 115.1h.7M31.4 85.8h.7M44.6 95.6h.7M22.4 97.8h.7M25.0 105.1h.7M24.5 108.3h.7M28.6 113.7h.7M27.9 96.4h.7M33.5 94.2h.7M39.8 99.2h.7M37.0 94.5h.7M42.0 93.2h.7M27.8 96.9h.7M25.6 100.8h.7M31.7 106.4h.7M37.9 98.0h.7M29.5 92.9h.7M20.0 109.4h.7M24.8 104.3h.7M39.3 102.9h.7M25.3 96.6h.7M29.5 99.1h.7M26.3 97.7h.7M42.3 92.9h.7M33.1 88.9h.7M45.3 100.2h.7M35.6 100.8h.7M21.2 90.8h.7M33.5 102.3h.7M32.3 91.7h.7M43.3 91.3h.7M33.9 100.3h.7M37.9 95.9h.7M32.1 101.4h.7M44.3 97.7h.7M32.9 97.0h.7M29.6 95.1h.7M41.4 100.8h.7M20.1 98.2h.7M45.8 95.2h.7M31.0 104.1h.7M37.4 104.0h.7M40.7 93.5h.7M34.7 86.7h.7M24.3 108.7h.7M31.3 103.3h.7M25.3 98.1h.7M27.9 111.2h.7M27.8 99.5h.7M39.5 105.7h.7M33.2 105.8h.7M42.6 97.6h.7M22.3 99.1h.7M41.8 100.0h.7M22.8 102.2h.7M21.0 100.3h.7M21.7 101.0h.7M31.2 99.3h.7M35.5 96.6h.7M41.4 101.5h.7M20.3 110.9h.7M37.5 100.1h.7M20.8 94.1h.7M41.4 94.9h.7M47.3 95.3h.7M30.4 109.3h.7M26.4 111.4h.7M20.7 99.3h.7M47.7 90.6h.7M32.0 93.8h.7M45.3 90.1h.7M30.6 91.5h.7M30.1 107.9h.7M30.4 104.9h.7M35.1 86.1h.7M39.2 92.4h.7M31.6 93.9h.7M23.8 102.8h.7M22.2 109.4h.7M36.4 104.6h.7M40.1 95.7h.7M29.3 100.0h.7M23.1 92.2h.7M29.5 95.3h.7M47.6 90.9h.7M43.9 103.4h.7M30.3 102.7h.7M45.8 98.8h.7M27.8 101.9h.7M41.1 100.8h.7M32.3 100.8h.7M31.6 100.7h.7M22.8 101.1h.7M37.5 90.3h.7M24.2 105.7h.7M31.0 93.0h.7M31.7 97.5h.7M24.2 98.5h.7M28.4 90.3h.7M41.1 100.1h.7M25.8 102.3h.7M30.6 95.8h.7M41.6 101.9h.7M30.4 95.5h.7M40.0 90.8h.7M33.5 105.2h.7M27.1 106.1h.7M43.3 103.8h.7M34.3 100.6h.7M33.6 97.6h.7M52.9 96.1h.7M31.3 93.2h.7M20.3 106.0h.7M29.1 114.3h.7M36.5 93.3h.7M22.4 102.3h.7M31.5 98.4h.7M21.0 100.7h.7M33.6 95.5h.7M37.7 96.5h.7M25.5 108.7h.7M41.2 104.9h.7M24.3 99.5h.7M47.3 93.9h.7M36.3 97.7h.7M24.0 97.7h.7M29.9 108.1h.7M25.0 107.2h.7M24.2 102.2h.7M36.9 101.7h.7M29.3 103.9h.7M39.7 108.4h.7M29.2 97.1h.7M44.2 85.4h.7M58.1 95.6h.7M34.6 98.9h.7M23.3 91.7h.7M47.7 105.6h.7M26.6 95.5h.7M43.5 95.1h.7M40.4 95.4h.7M43.9 86.6h.7M31.7 110.5h.7M21.7 99.9h.7M30.5 104.9h.7M51.9 93.7h.7M36.5 100.8h.7M34.4 94.0h.7M33.4 95.3h.7M22.3 100.2h.7M25.3 103.8h.7M43.1 102.9h.7M39.9 98.6h.7M30.9 94.6h.7M20.3 100.3h.7M27.4 90.7h.7M37.3 89.1h.7M44.5 100.3h.7M32.7 105.0h.7M31.5 101.6h.7M34.8 100.0h.7M29.1 98.7h.7M21.2 90.9h.7M36.0 96.9h.7M30.6 96.4h.7M19.9 98.4h.7M31.8 91.2h.7M29.2 97.2h.7M38.7 99.4h.7M41.2 103.3h.7M22.0 106.0h.7M34.7 107.6h.7M44.3 108.1h.7M32.5 94.7h.7M50.2 88.6h.7M22.3 94.6h.7M47.3 95.5h.7M23.2 95.9h.7M48.7 88.1h.7M35.8 103.8h.7M32.7 107.4h.7M26.5 103.7h.7M23.3 99.5h.7M31.6 103.7h.7M32.8 96.8h.7M31.2 97.9h.7M23.1 101.2h.7M37.3 100.0h.7M26.5 98.0h.7M24.2 113.4h.7M20.9 104.4h.7M24.6 107.2h.7M29.9 99.0h.7M36.0 86.7h.7M21.8 97.5h.7M37.8 98.0h.7M24.8 99.0h.7M22.7 108.2h.7M46.9 111.8h.7M39.9 96.6h.7M55.1 82.0h.7M34.6 108.1h.7M46.2 97.5h.7M24.5 98.2h.7M40.4 94.1h.7M21.8 105.7h.7M22.5 102.4h.7M37.9 83.5h.7M54.5 91.6h.7M49.3 97.0h.7M25.0 105.0h.7M38.4 101.0h.7M42.0 87.9h.7M26.6 96.5h.7M39.5 94.7h.7M25.3 105.1h.7M29.5 107.3h.7M28.8 96.5h.7M40.8 95.7h.7M30.7 100.7h.7M37.2 100.2h.7M20.2 96.9h.7M51.1 79.6h.7M37.5 91.8h.7M31.5 106.2h.7M30.6 98.7h.7M26.3 92.0h.7M23.0 96.0h.7M30.7 101.0h.7M22.5 109.0h.7M23.3 114.7h.7M43.1 94.7h.7M35.1 89.8h.7M23.1 97.7h.7M32.4 96.2h.7M35.0 95.1h.7M25.9 98.1h.7M26.2 111.5h.7M21.2 101.4h.7M25.8 109.9h.7M26.0 103.4h.7M25.8 102.7h.7M42.4 100.5h.7M35.2 98.1h.7M35.2 89.4h.7M20.6 112.6h.7M26.8 100.0h.7M44.7 93.3h.7M30.2 91.3h.7M39.1 88.7h.7M39.8 98.9h.7M29.7 90.0h.7M28.5 100.4h.7M30.4 100.7h.7M29.4 91.3h.7M28.9 97.9h.7M33.5 96.8h.7M32.7 87.0h.7M31.0 96.6h.7M44.2 102.6h.7M39.5 97.7h.7M36.0 96.3h.7M33.9 91.4h.7M29.6 95.7h.7M40.7 97.8h.7M21.4 101.0h.7M20.7 102.4h.7M28.3 93.4h.7M34.8 97.9h.7M30.2 104.5h.7M23.0 106.9h.7M42.9 86.5h.7M35.1 107.0h.7M43.1 91.6h.7M32.8 98.3h.7M23.5 105.8h.7M30.6 106.5h.7M33.9 106.8h.7M23.9 102.2h.7M40.6 92.3h.7M31.8 98.6h.7M32.6 107.1h.7M24.9 98.3h.7M37.7 93.4h.7M39.3 106.8h.7M31.5 104.8h.7M28.0 103.5h.7M42.6 96.8h.7M43.3 92.0h.7M25.3 91.5h.7M43.5 107.8h.7M45.3 93.8h.7M37.0 102.2h.7M41.6 106.3h.7M34.2 95.1h.7M33.9 93.6h.7M27.2 95.9h.7M34.4 104.7h.7M27.1 99.3h.7M22.2 113.5h.7M38.6 102.2h.7M39.6 101.0h.7M48.5 102.1h.7M22.5 105.7h.7M37.6 97.9h.7M25.2 93.1h.7M41.9 102.0h.7M21.3 114.4h.7M35.1 100.3h.7M25.2 100.6h.7M40.3 90.9h.7M43.6 84.2h.7M43.3 99.2h.7M35.8 99.6h.7M31.6 100.1h.7M35.3 104.9h.7M24.7 105.9h.7M34.5 105.0h.7M52.7 98.0h.7M32.5 108.3h.7M38.7 97.4h.7M32.4 100.5h.7M30.2 102.1h.7M26.0 107.8h.7M28.8 95.6h.7M33.1 110.1h.7M41.9 100.4h.7M29.2 95.8h.7M32.3 108.6h.7M29.2 96.8h.7M32.9 96.1h.7M24.0 105.7h.7M30.8 96.5h.7M37.5 106.0h.7M40.0 97.2h.7M25.5 105.9h.7M21.9 96.3h.7M29.9 102.0h.7M35.8 86.4h.7M26.9 103.4h.7M43.5 109.6h.7M21.2 104.4h.7M23.4 109.3h.7M23.4 99.2h.7M23.7 100.4h.7M29.5 102.2h.7M25.9 103.2h.7M23.0 108.1h.7M29.1 93.7h.7M23.3 94.3h.7M30.7 97.2h.7M33.2 88.7h.7M26.8 106.1h.7M25.4 95.9h.7M22.6 103.8h.7M32.4 98.3h.7M25.8 104.2h.7M35.2 89.6h.7M39.0 104.8h.7M34.8 102.9h.7M23.8 112.3h.7M30.0 102.5h.7M20.0 101.1h.7M48.3 104.6h.7M33.7 94.8h.7M51.6 87.6h.7M28.6 96.0h.7M40.2 92.1h.7M20.6 94.9h.7M40.0 96.6h.7M22.5 95.3h.7M36.9 96.4h.7M43.8 106.3h.7M30.9 104.4h.7M42.0 99.5h.7M41.2 99.9h.7M37.7 97.1h.7M21.4 104.1h.7M22.1 97.0h.7M39.1 97.1h.7M27.3 93.7h.7M37.0 99.1h.7M32.8 105.1h.7M34.2 97.1h.7M33.7 89.7h.7M34.4 93.6h.7M31.2 98.4h.7M36.5 94.1h.7M30.3 96.3h.7M32.4 98.0h.7M42.7 90.6h.7M31.8 92.0h.7M20.0 105.4h.7M42.6 92.4h.7M22.6 104.7h.7M32.0 96.2h.7M28.2 100.3h.7M25.7 97.5h.7M33.2 103.0h.7M24.2 114.1h.7M51.1 96.7h.7M30.7 108.2h.7M29.7 111.2h.7M39.0 95.8h.7M26.1 103.7h.7M26.9 100.0h.7M46.6 94.9h.7M24.0 115.0h.7M38.1 91.1h.7M27.6 103.7h.7M24.6 91.5h.7M27.0 117.5h.7M36.6 93.7h.7M24.7 103.4h.7M28.3 105.0h.7M24.7 93.9h.7M42.9 103.1h.7M30.8 111.2h.7M40.9 104.0h.7M36.1 98.8h.7M26.7 111.4h.7M35.1 93.3h.7M34.9 98.7h.7M34.3 101.8h.7M33.0 99.7h.7M21.9 114.7h.7M23.6 108.6h.7M32.8 96.1h.7M25.6 104.8h.7M36.0 106.0h.7M36.4 97.7h.7M24.9 100.9h.7M38.8 103.0h.7M37.2 101.6h.7M22.2 104.7h.7M39.1 93.9h.7M37.6 103.6h.7M27.6 100.2h.7M46.5 102.3h.7M40.1 99.4h.7M20.9 103.4h.7M37.6 98.7h.7M24.1 100.7h.7M35.0 108.7h.7M26.1 110.2h.7M27.6 105.6h.7M38.2 96.7h.7M36.5 93.4h.7M28.7 96.7h.7M31.3 102.2h.7M32.3 89.4h.7M38.0 87.8h.7M23.6 115.0h.7M44.6 98.9h.7M30.7 108.0h.7M34.4 93.5h.7M29.8 101.6h.7M30.4 105.4h.7M31.8 90.3h.7M26.7 96.0h.7M41.3 96.1h.7M37.8 97.3h.7M43.0 100.7h.7M21.1 110.2h.7M30.4 87.3h.7M39.1 91.4h.7M47.9 99.8h.7M30.7 103.4h.7M37.5 102.8h.7M42.5 94.7h.7M32.3 81.9h.7M31.6 100.2h.7M36.8 98.7h.7M24.8 109.7h.7M25.1 99.1h.7M45.1 95.5h.7M41.8 88.8h.7M24.5 99.7h.7M24.0 92.6h.7M24.2 103.0h.7M37.1 107.3h.7M38.4 107.4h.7M24.0 101.7h.7M28.4 95.2h.7M30.6 103.8h.7M40.7 99.5h.7M43.9 94.4h.7M26.0 106.8h.7M47.6 95.9h.7M26.8 106.1h.7M25.7 110.8h.7M34.0 94.7h.7M36.9 101.2h.7M40.1 97.3h.7M31.0 109.3h.7M32.3 95.8h.7M33.5 93.0h.7M39.6 103.9h.7M23.1 106.0h.7M25.7 106.8h.7M21.4 99.6h.7M40.6 105.8h.7M24.5 106.5h.7M24.5 105.6h.7M24.1 102.2h.7M27.7 87.9h.7M30.8 104.2h.7M35.4 89.3h.7M28.3 92.3h.7M30.6 106.3h.7M42.7 90.8h.7M26.3 111.2h.7M42.2 84.6h.7M23.5 115.8h.7M40.1 103.9h.7M41.3 85.4h.7M41.8 98.2h.7M25.7 106.4h.7M34.2 98.0h.7M29.9 95.0h.7M36.8 90.3h.7M41.5 101.4h.7M23.2 99.1h.7M21.2 106.5h.7M29.1 98.5h.7M35.2 97.0h.7M21.1 101.9h.7M34.0 104.0h.7M38.4 101.7h.7M51.4 89.2h.7M24.3 108.1h.7M51.1 100.5h.7M23.0 106.5h.7M34.4 102.3h.7M31.5 97.9h.7M29.8 96.8h.7M38.8 92.2h.7M38.6 100.1h.7M32.3 88.8h.7M26.6 106.1h.7M35.2 111.9h.7M50.0 91.3h.7M24.3 93.1h.7M24.7 98.1h.7M31.2 97.7h.7M49.0 98.9h.7M48.0 95.7h.7M44.8 89.3h.7M44.9 84.1h.7M49.4 101.3h.7M22.9 98.3h.7M26.3 93.6h.7M34.2 95.1h.7M25.2 106.5h.7M38.0 94.5h.7M46.4 97.3h.7M33.5 101.7h.7M38.1 98.7h.7M22.9 111.1h.7M32.2 95.5h.7M23.2 107.5h.7M24.5 99.7h.7M24.9 110.3h.7M22.7 98.4h.7M35.9 89.8h.7M24.6 105.2h.7M25.2 100.2h.7M26.4 100.9h.7M25.9 99.4h.7M24.3 100.1h.7M22.6 108.1h.7M24.6 112.1h.7M22.5 101.3h.7M31.3 92.3h.7M24.1 96.2h.7M38.5 86.1h.7M33.6 95.3h.7M35.2 95.8h.7M37.3 92.8h.7M40.3 95.7h.7M27.5 105.1h.7M26.7 101.6h.7M40.0 96.0h.7M36.1 90.7h.7M23.9 100.1h.7M28.2 105.6h.7M44.8 101.6h.7M27.7 113.4h.7M25.5 103.0h.7M25.7 102.2h.7M24.3 100.6h.7M32.4 98.6h.7M30.0 101.0h.7M23.6 98.7h.7M40.9 96.8h.7M23.4 96.6h.7M51.9 94.6h.7M34.7 101.4h.7M38.5 97.3h.7M40.6 86.0h.7M36.9 89.8h.7M23.2 108.9h.7M42.0 91.1h.7M20.5 101.9h.7M35.7 94.6h.7M39.8 100.5h.7M32.5 99.3h.7M22.8 111.3h.7M25.8 95.5h.7M31.0 97.4h.7M33.7 96.7h.7M29.2 101.1h.7M29.7 102.3h.7M22.8 99.1h.7M42.7 96.6h.7M54.4 96.6h.7M42.7 93.7h.7M27.7 98.6h.7M32.8 103.3h.7M43.7 102.9h.7M35.3 100.8h.7M24.5 99.9h.7M37.3 92.4h.7M30.5 98.2h.7M50.3 95.3h.7M33.9 100.2h.7M37.0 85.8h.7M41.7 96.2h.7M32.4 102.2h.7M31.6 100.5h.7M43.5 82.9h.7M34.1 103.9h.7M36.3 96.8h.7M21.6 99.2h.7M26.8 89.0h.7M23.6 98.7h.7M20.2 98.6h.7M29.5 103.6h.7M36.4 106.3h.7M48.9 92.0h.7M29.5 94.2h.7M24.5 103.6h.7M29.7 88.8h.7M23.3 100.5h.7M24.8 104.5h.7M36.8 95.2h.7M41.1 97.8h.7M45.2 95.9h.7M20.9 101.8h.7M32.6 91.9h.7M39.3 97.7h.7M33.9 98.2h.7M20.4 120.6h.7M29.4 109.2h.7M25.8 108.6h.7M24.2 111.1h.7M24.2 109.2h.7M27.7 109.1h.7M31.5 111.1h.7M37.8 116.8h.7M21.4 111.9h.7M25.5 113.7h.7M28.3 116.9h.7M31.9 108.2h.7M20.4 116.6h.7M20.7 115.0h.7M23.4 120.5h.7M26.1 111.2h.7M25.9 117.7h.7M20.9 119.4h.7M20.9 108.7h.7M32.0 117.7h.7M28.0 117.5h.7M21.3 108.3h.7M20.1 108.7h.7M31.6 112.7h.7M25.5 118.8h.7M35.2 110.0h.7M29.6 108.2h.7M28.1 119.6h.7M27.5 115.9h.7M21.7 110.0h.7M33.3 110.8h.7M26.1 114.5h.7M21.4 110.8h.7M25.3 120.0h.7M37.5 113.1h.7M19.9 115.1h.7M23.5 108.3h.7M20.5 108.2h.7M29.9 110.2h.7M33.3 109.2h.7M36.9 118.1h.7M27.2 111.3h.7M21.0 117.8h.7M23.7 109.1h.7M26.6 117.7h.7M35.3 118.0h.7M32.0 116.5h.7M29.9 112.5h.7M35.7 108.5h.7M29.5 110.6h.7M22.3 121.9h.7M22.4 111.7h.7M22.3 115.5h.7M31.1 108.1h.7M22.3 112.1h.7M25.9 114.1h.7M39.4 109.3h.7M33.7 110.1h.7M38.9 114.4h.7M23.5 119.4h.7M20.1 117.0h.7M32.9 114.5h.7M33.5 117.4h.7M30.9 115.1h.7M20.3 113.4h.7M26.2 115.3h.7M37.4 109.2h.7M20.3 108.5h.7M33.3 111.4h.7M33.1 115.2h.7M20.1 120.7h.7M35.6 110.6h.7M23.5 109.7h.7M28.9 115.3h.7M21.8 109.9h.7M24.0 112.5h.7M26.7 112.0h.7M41.0 113.0h.7M34.5 108.4h.7M24.9 109.6h.7M31.4 112.6h.7M34.9 109.8h.7M40.4 110.9h.7M24.3 112.1h.7M25.4 111.7h.7M35.1 113.9h.7M35.6 113.1h.7M27.3 114.2h.7M24.2 111.2h.7M27.4 115.7h.7M27.2 120.1h.7M22.4 109.8h.7M25.0 109.5h.7M31.2 110.2h.7M26.6 117.3h.7M42.0 117.1h.7M33.9 113.3h.7M22.1 108.2h.7M29.9 118.9h.7M23.5 109.1h.7M20.0 110.3h.7M29.9 116.8h.7M24.8 112.6h.7M32.3 117.2h.7M25.0 115.8h.7M20.8 108.1h.7M26.3 114.2h.7M32.3 109.9h.7M20.5 114.4h.7M31.9 114.1h.7M41.9 113.0h.7M34.6 110.2h.7M26.0 116.2h.7M36.4 114.5h.7M34.2 111.2h.7M24.2 113.7h.7M31.2 111.2h.7M32.8 115.0h.7M26.3 114.3h.7M20.4 110.4h.7M34.7 118.1h.7M37.5 111.5h.7M21.3 111.1h.7M30.4 114.5h.7M32.1 110.9h.7M29.2 111.7h.7M29.2 117.3h.7M20.0 112.5h.7M24.5 108.8h.7M30.3 122.7h.7M30.5 110.8h.7M38.1 115.5h.7M32.4 112.7h.7M21.9 111.5h.7M29.8 111.7h.7M36.2 108.8h.7M34.3 114.9h.7M20.7 114.2h.7M29.0 109.7h.7M27.4 116.5h.7M29.6 113.9h.7M28.2 117.1h.7M35.1 116.2h.7M20.9 116.6h.7M28.9 116.4h.7M32.4 109.3h.7M33.2 112.3h.7M29.5 110.4h.7M38.1 110.2h.7M25.5 109.2h.7M32.0 110.8h.7M23.0 112.2h.7M22.1 110.2h.7M20.0 109.1h.7M24.0 115.8h.7M37.5 113.9h.7M22.7 115.4h.7M20.8 110.5h.7M27.3 108.9h.7M34.9 118.8h.7M25.3 115.5h.7M20.9 116.3h.7M34.1 109.8h.7M25.3 110.7h.7M28.3 110.7h.7M31.3 108.8h.7M38.5 116.0h.7M20.3 111.1h.7M20.4 108.0h.7M39.6 115.3h.7M22.6 114.2h.7M32.9 108.7h.7M22.7 111.4h.7M26.4 110.9h.7M25.9 120.4h.7M30.7 113.7h.7M26.7 121.0h.7M31.8 114.4h.7M24.1 113.2h.7M25.7 121.5h.7M31.7 109.9h.7M35.7 111.0h.7M24.9 108.9h.7M29.1 110.9h.7M35.3 108.2h.7M21.7 114.7h.7M34.8 115.2h.7M41.6 113.3h.7M20.6 110.2h.7M24.3 115.8h.7M39.3 117.2h.7M22.8 118.1h.7M19.9 117.7h.7M21.0 112.3h.7M30.5 113.3h.7M40.5 108.4h.7M30.1 112.3h.7M31.6 109.7h.7M25.1 115.7h.7M39.0 115.2h.7M31.0 111.8h.7M20.8 117.2h.7M26.6 116.2h.7M23.7 108.6h.7M25.4 113.7h.7M24.9 109.6h.7M39.9 108.3h.7M24.6 108.2h.7M25.9 110.0h.7M27.7 108.6h.7M26.3 114.0h.7M34.5 114.1h.7M26.3 117.0h.7M32.2 112.2h.7M20.2 112.7h.7M25.2 108.9h.7M23.3 118.3h.7M31.2 113.8h.7M32.4 118.0h.7M22.6 113.8h.7M35.1 113.5h.7M21.6 110.9h.7M25.9 112.4h.7M37.2 121.0h.7M23.1 109.8h.7M24.5 113.5h.7M22.1 116.2h.7M25.2 116.6h.7M21.7 109.7h.7M39.6 111.3h.7M21.5 112.1h.7M37.8 112.3h.7M25.6 117.4h.7M21.5 115.5h.7M35.3 108.2h.7M30.2 111.3h.7M29.2 115.8h.7M25.6 109.4h.7M28.3 119.6h.7M32.2 114.6h.7M22.0 113.3h.7M28.1 109.8h.7M28.6 108.7h.7M26.9 108.7h.7M35.7 112.0h.7M26.7 114.2h.7M35.2 108.3h.7M25.6 111.8h.7M21.1 120.0h.7M31.4 122.9h.7M25.3 118.5h.7M31.1 109.0h.7M34.5 122.2h.7M20.7 112.7h.7M29.1 108.8h.7M40.5 110.2h.7M20.4 117.3h.7M27.4 116.4h.7M29.1 109.6h.7M33.0 116.6h.7M27.1 117.7h.7M39.2 112.4h.7M36.2 108.5h.7M28.6 115.0h.7M31.5 118.3h.7M24.9 110.6h.7M26.5 120.7h.7M31.4 108.5h.7M39.1 114.0h.7M29.0 117.3h.7M23.4 117.6h.7M36.0 123.3h.7M29.2 110.2h.7M25.5 113.1h.7M20.7 111.3h.7M32.1 120.4h.7M37.1 119.6h.7M22.4 116.0h.7M24.4 109.0h.7M24.8 111.5h.7M32.8 108.0h.7M25.7 111.8h.7M39.7 120.2h.7M28.2 109.9h.7M20.7 112.8h.7M39.7 112.5h.7M42.6 110.3h.7M23.4 112.0h.7M39.2 111.5h.7M27.7 122.3h.7M47.7 84.5h.7M46.1 90.6h.7M62.7 90.1h.7M66.2 88.4h.7M55.4 89.7h.7M64.9 90.9h.7M53.9 88.4h.7M68.8 89.4h.7M40.9 94.8h.7M69.6 92.8h.7M50.7 91.9h.7M43.6 85.8h.7M50.2 86.9h.7M55.1 92.5h.7M57.6 89.1h.7M65.4 88.2h.7M44.9 94.3h.7M54.8 85.0h.7M60.4 84.8h.7M64.3 89.1h.7M57.2 93.2h.7M59.5 95.5h.7M50.5 86.5h.7M62.9 95.4h.7M58.7 85.8h.7M56.7 86.7h.7M53.6 94.8h.7M47.2 95.7h.7M59.5 91.3h.7M45.2 89.0h.7M66.8 91.9h.7M67.4 93.3h.7M67.5 87.7h.7M48.2 85.6h.7M43.7 92.4h.7M51.8 86.3h.7M48.9 87.1h.7M51.4 90.7h.7M69.0 90.3h.7M69.2 93.2h.7M56.9 90.3h.7M44.4 90.5h.7M49.3 84.0h.7M51.5 84.8h.7M54.6 89.7h.7M44.0 95.0h.7M53.5 87.9h.7M58.8 85.2h.7M53.1 90.6h.7M44.4 85.5h.7M44.6 94.3h.7M59.0 94.4h.7M58.0 90.9h.7M53.5 87.9h.7M55.1 86.0h.7M68.5 89.6h.7M46.8 94.3h.7M67.3 86.2h.7M66.5 94.8h.7M56.1 88.0h.7M34.6 118.5h.7M53.4 122.4h.7M57.7 122.0h.7M58.9 119.1h.7M68.1 114.4h.7M69.8 117.4h.7M43.0 121.4h.7M61.4 112.0h.7M51.2 110.7h.7M61.5 119.8h.7M58.8 111.9h.7M38.8 116.7h.7M50.2 112.0h.7M66.9 118.2h.7M49.0 119.3h.7M41.2 120.3h.7M38.6 117.3h.7M57.3 114.2h.7M68.7 123.8h.7M56.7 111.2h.7M42.4 120.9h.7M47.2 114.1h.7M52.6 113.4h.7M38.3 113.1h.7M47.6 113.4h.7" stroke="#000" stroke-width=".7" fill="none" opacity="0.8"/>
<rect x="19.6" y="79.2" width="56.4" height="46.8" fill="none" stroke="#333" stroke-width=".65"/>
<path d="M33.4 79.2V126M19.6 107.3H76" stroke="#555" stroke-width=".55"/>
<text x="57.2" y="104.6" font-size="8.6" text-anchor="start"  >49%</text>
<text x="17.2" y="131.3" font-size="2.4" fill="#8a8a8a">10<tspan dy="-1" font-size="1.8">0</tspan></text>
<text x="16.8" y="73.6" font-size="2.4" fill="#8a8a8a">10<tspan dy="-1" font-size="1.8">0</tspan></text>
<path d="M19.2 126v1.5M19.2 68.6v1.5" stroke="#444" stroke-width=".5"/>
<text x="31.4" y="131.3" font-size="2.4" fill="#8a8a8a">10<tspan dy="-1" font-size="1.8">1</tspan></text>
<text x="31.0" y="73.6" font-size="2.4" fill="#8a8a8a">10<tspan dy="-1" font-size="1.8">1</tspan></text>
<path d="M33.4 126v1.5M33.4 68.6v1.5" stroke="#444" stroke-width=".5"/>
<text x="45.7" y="131.3" font-size="2.4" fill="#8a8a8a">10<tspan dy="-1" font-size="1.8">2</tspan></text>
<text x="45.300000000000004" y="73.6" font-size="2.4" fill="#8a8a8a">10<tspan dy="-1" font-size="1.8">2</tspan></text>
<path d="M47.7 126v1.5M47.7 68.6v1.5" stroke="#444" stroke-width=".5"/>
<text x="59.8" y="131.3" font-size="2.4" fill="#8a8a8a">10<tspan dy="-1" font-size="1.8">3</tspan></text>
<text x="59.4" y="73.6" font-size="2.4" fill="#8a8a8a">10<tspan dy="-1" font-size="1.8">3</tspan></text>
<path d="M61.8 126v1.5M61.8 68.6v1.5" stroke="#444" stroke-width=".5"/>
<text x="73.8" y="131.3" font-size="2.4" fill="#8a8a8a">10<tspan dy="-1" font-size="1.8">4</tspan></text>
<text x="73.39999999999999" y="73.6" font-size="2.4" fill="#8a8a8a">10<tspan dy="-1" font-size="1.8">4</tspan></text>
<path d="M75.8 126v1.5M74.2 68.6v1.5" stroke="#444" stroke-width=".5"/>
<text x="14.2" y="69.6" font-size="2.4" fill="#8a8a8a">10<tspan dy="-1" font-size="1.8">0</tspan></text>
<path d="M18.2 68.6h1.4" stroke="#444" stroke-width=".5"/>
<text x="14.2" y="127.0" font-size="2.4" fill="#8a8a8a">10<tspan dy="-1" font-size="1.8">0</tspan></text>
<path d="M18.2 126.0h1.4" stroke="#444" stroke-width=".5"/>
<text x="14.2" y="58.099999999999994" font-size="2.4" fill="#8a8a8a">10<tspan dy="-1" font-size="1.8">1</tspan></text>
<path d="M18.2 57.099999999999994h1.4" stroke="#444" stroke-width=".5"/>
<text x="14.2" y="115.3" font-size="2.4" fill="#8a8a8a">10<tspan dy="-1" font-size="1.8">1</tspan></text>
<path d="M18.2 114.3h1.4" stroke="#444" stroke-width=".5"/>
<text x="14.2" y="46.599999999999994" font-size="2.4" fill="#8a8a8a">10<tspan dy="-1" font-size="1.8">2</tspan></text>
<path d="M18.2 45.599999999999994h1.4" stroke="#444" stroke-width=".5"/>
<text x="14.2" y="103.6" font-size="2.4" fill="#8a8a8a">10<tspan dy="-1" font-size="1.8">2</tspan></text>
<path d="M18.2 102.6h1.4" stroke="#444" stroke-width=".5"/>
<text x="14.2" y="35.099999999999994" font-size="2.4" fill="#8a8a8a">10<tspan dy="-1" font-size="1.8">3</tspan></text>
<path d="M18.2 34.099999999999994h1.4" stroke="#444" stroke-width=".5"/>
<text x="14.2" y="91.9" font-size="2.4" fill="#8a8a8a">10<tspan dy="-1" font-size="1.8">3</tspan></text>
<path d="M18.2 90.9h1.4" stroke="#444" stroke-width=".5"/>
<text x="14.2" y="23.599999999999994" font-size="2.4" fill="#8a8a8a">10<tspan dy="-1" font-size="1.8">4</tspan></text>
<path d="M18.2 22.599999999999994h1.4" stroke="#444" stroke-width=".5"/>
<text x="14.2" y="80.2" font-size="2.4" fill="#8a8a8a">10<tspan dy="-1" font-size="1.8">4</tspan></text>
<path d="M18.2 79.2h1.4" stroke="#444" stroke-width=".5"/>
<text x="109.7" y="46.7" font-size="9.7" text-anchor="middle"  >Control</text>
<text x="109.7" y="58.4" font-size="9.7" text-anchor="middle"  >CTLs</text>
<text x="83.6" y="103.4" font-size="9.7">CD30CAR<tspan dy="-3.2" font-size="10" font-weight="bold">+</tspan></text>
<text x="109.3" y="115" font-size="9.7" text-anchor="middle"  >CTLs</text>
<text x="145.8" y="14.7" font-size="16" text-anchor="start" class="b" >B</text>
<text x="177.9" y="16.8" font-size="7.7" text-anchor="middle"  >Day 7</text>
<text x="207.6" y="16.8" font-size="7.7" text-anchor="middle"  >Day 14</text>
<text x="236.1" y="16.8" font-size="7.7" text-anchor="middle"  >Day 20</text>
<text x="252.8" y="46.7" font-size="8.8" text-anchor="start"  >NT CTLs</text>
<text x="250" y="97.6" font-size="8.8">CD30CAR<tspan dy="-3.2" font-size="7.5" font-weight="bold">+</tspan></text>
<text x="274.5" y="108.7" font-size="8.8" text-anchor="middle"  >CTLs</text>
<rect x="149.5" y="48.7" width="3.8" height="41.3" fill="url(#cbar)"/>
<text x="147.5" y="46.6" font-size="2.4" fill="#666">Luminescence</text>
<text x="154.6" y="50.5" font-size="2.4" fill="#666">500</text>
<text x="154.6" y="59.9" font-size="2.4" fill="#666">400</text>
<text x="154.6" y="69.3" font-size="2.4" fill="#666">300</text>
<text x="154.6" y="78.7" font-size="2.4" fill="#666">200</text>
<text x="154.6" y="88.1" font-size="2.4" fill="#666">100</text>
<text x="147.5" y="93.4" font-size="2.3" fill="#666">Counts</text>
<text x="147.5" y="96" font-size="2.3" fill="#5a3a9a">Color Bar</text>
<text x="147.5" y="98.6" font-size="2.3" fill="#666">Min = 50</text>
<text x="147.5" y="101.2" font-size="2.3" fill="#666">Max = 500</text>
<filter id="blB" x="-10%" y="-10%" width="120%" height="120%"><feGaussianBlur stdDeviation="0.55"/></filter>
<filter id="blS" x="-30%" y="-30%" width="160%" height="160%"><feGaussianBlur stdDeviation="0.5"/></filter>
<linearGradient id="bodyB" x1="0" y1="0" x2="1" y2="0.3"><stop offset="0" stop-color="#bdbdbd"/><stop offset="0.35" stop-color="#e4e4e4"/><stop offset="0.8" stop-color="#efefef"/><stop offset="1" stop-color="#cfcfcf"/></linearGradient>
<linearGradient id="bodyB2" x1="0" y1="0" x2="1" y2="0.2"><stop offset="0" stop-color="#d8d8d8"/><stop offset="0.4" stop-color="#f4f4f4"/><stop offset="1" stop-color="#e2e2e2"/></linearGradient>
<filter id="blI" x="-20%" y="-20%" width="140%" height="140%"><feGaussianBlur stdDeviation="1.5"/></filter>
<filter id="blI2" x="-20%" y="-20%" width="140%" height="140%"><feGaussianBlur stdDeviation="1.1"/></filter>
<filter id="fur" x="0" y="0" width="100%" height="100%" color-interpolation-filters="sRGB"><feTurbulence type="fractalNoise" baseFrequency="0.3" numOctaves="2" seed="4"/><feColorMatrix type="matrix" values="0 0 0 0 0 0 0 0 0 0 0 0 0 0 0 1.8 0 0 0 -0.55"/><feGaussianBlur stdDeviation="0.5"/></filter>
<clipPath id="c1"><rect x="165.7" y="18.8" width="26.6" height="56.4"/></clipPath>
<rect x="165.7" y="18.8" width="26.6" height="56.4" fill="#0b0b0b"/>
<g clip-path="url(#c1)"><g transform="translate(165.7,18.8) scale(1.0076,0.9982)"><clipPath id="bm1"><path d="M9.00 0.80C10.58 0.63 12.58 0.98 14.00 1.60C15.42 2.22 16.73 3.43 17.50 4.50C18.27 5.57 18.27 6.58 18.60 8.00C18.93 9.42 18.83 11.17 19.50 13.00C20.17 14.83 21.85 16.83 22.60 19.00C23.35 21.17 23.80 23.83 24.00 26.00C24.20 28.17 24.22 30.08 23.80 32.00C23.38 33.92 22.72 36.17 21.50 37.50C20.28 38.83 18.42 39.55 16.50 40.00C14.58 40.45 12.00 40.45 10.00 40.20C8.00 39.95 5.97 39.53 4.50 38.50C3.03 37.47 1.88 36.08 1.20 34.00C0.52 31.92 0.47 29.00 0.40 26.00C0.33 23.00 0.60 19.00 0.80 16.00C1.00 13.00 0.98 10.23 1.60 8.00C2.22 5.77 3.27 3.80 4.50 2.60C5.73 1.40 7.42 0.97 9.00 0.80Z"/></clipPath><g filter="url(#blB)"><path d="M14.00 39.50C13.90 40.25 13.27 42.42 13.40 44.00C13.53 45.58 14.45 47.50 14.80 49.00C15.15 50.50 15.47 51.67 15.50 53.00C15.53 54.33 15.08 56.33 15.00 57.00" stroke="#cfcfcf" stroke-width="1.7" fill="none" stroke-linecap="round"/><path d="M3.50 38.00C3.25 38.50 1.83 40.25 2.00 41.00C2.17 41.75 4.08 42.25 4.50 42.50" stroke="#c0c0c0" stroke-width="2.2" fill="none" stroke-linecap="round"/><path d="M21.50 36.50C21.83 37.08 23.33 39.08 23.50 40.00C23.67 40.92 22.67 41.67 22.50 42.00" stroke="#c0c0c0" stroke-width="2.2" fill="none" stroke-linecap="round"/><path d="M19.00 7.50C19.50 7.58 21.17 7.50 22.00 8.00C22.83 8.50 23.67 10.08 24.00 10.50" stroke="#c0c0c0" stroke-width="2.2" fill="none" stroke-linecap="round"/><path d="M9.00 0.80C10.58 0.63 12.58 0.98 14.00 1.60C15.42 2.22 16.73 3.43 17.50 4.50C18.27 5.57 18.27 6.58 18.60 8.00C18.93 9.42 18.83 11.17 19.50 13.00C20.17 14.83 21.85 16.83 22.60 19.00C23.35 21.17 23.80 23.83 24.00 26.00C24.20 28.17 24.22 30.08 23.80 32.00C23.38 33.92 22.72 36.17 21.50 37.50C20.28 38.83 18.42 39.55 16.50 40.00C14.58 40.45 12.00 40.45 10.00 40.20C8.00 39.95 5.97 39.53 4.50 38.50C3.03 37.47 1.88 36.08 1.20 34.00C0.52 31.92 0.47 29.00 0.40 26.00C0.33 23.00 0.60 19.00 0.80 16.00C1.00 13.00 0.98 10.23 1.60 8.00C2.22 5.77 3.27 3.80 4.50 2.60C5.73 1.40 7.42 0.97 9.00 0.80Z" fill="#868686"/><g clip-path="url(#bm1)"><path d="M9.00 0.80C10.58 0.63 12.58 0.98 14.00 1.60C15.42 2.22 16.73 3.43 17.50 4.50C18.27 5.57 18.27 6.58 18.60 8.00C18.93 9.42 18.83 11.17 19.50 13.00C20.17 14.83 21.85 16.83 22.60 19.00C23.35 21.17 23.80 23.83 24.00 26.00C24.20 28.17 24.22 30.08 23.80 32.00C23.38 33.92 22.72 36.17 21.50 37.50C20.28 38.83 18.42 39.55 16.50 40.00C14.58 40.45 12.00 40.45 10.00 40.20C8.00 39.95 5.97 39.53 4.50 38.50C3.03 37.47 1.88 36.08 1.20 34.00C0.52 31.92 0.47 29.00 0.40 26.00C0.33 23.00 0.60 19.00 0.80 16.00C1.00 13.00 0.98 10.23 1.60 8.00C2.22 5.77 3.27 3.80 4.50 2.60C5.73 1.40 7.42 0.97 9.00 0.80Z" fill="#dedede" filter="url(#blI)" transform="translate(0.6,0)"/><rect x="0" y="0" width="27" height="58" filter="url(#fur)" opacity="0.3"/><ellipse cx="8" cy="6" rx="7" ry="5" fill="#808080" opacity=".55" filter="url(#blI)"/></g></g><g filter="url(#blS)"><path d="M2.2 6.5C3 3.5 7 2.2 11 2.6C13.5 3 15.5 4 15.2 6C14.5 8.5 11 10 8 10.8C5 11.4 2 9.5 2.2 6.5Z" fill="#9a74e0" opacity=".8"/><path d="M7 4.5L12 3.5L13 7L9 8Z" fill="#6a3ad0" opacity=".8"/><path d="M15.5 27C17 25.5 21 25.4 22.5 27.5C22.8 29.5 20 31 17.5 30.6C16 30 15 28.5 15.5 27Z" fill="#5a2cc8" opacity=".9"/></g></g></g>
<clipPath id="c2"><rect x="194.2" y="18.8" width="25.6" height="56.4"/></clipPath>
<rect x="194.2" y="18.8" width="25.6" height="56.4" fill="#0b0b0b"/>
<g clip-path="url(#c2)"><g transform="translate(194.2,18.8) scale(0.9697,0.9982)"><clipPath id="bm2"><path d="M8.00 1.00C9.50 0.73 11.58 0.47 13.00 0.80C14.42 1.13 15.75 1.97 16.50 3.00C17.25 4.03 17.22 5.67 17.50 7.00C17.78 8.33 17.70 9.50 18.20 11.00C18.70 12.50 19.90 14.00 20.50 16.00C21.10 18.00 21.63 20.67 21.80 23.00C21.97 25.33 21.88 27.92 21.50 30.00C21.12 32.08 20.58 34.23 19.50 35.50C18.42 36.77 16.75 37.28 15.00 37.60C13.25 37.92 10.83 37.67 9.00 37.40C7.17 37.13 5.37 36.90 4.00 36.00C2.63 35.10 1.47 34.00 0.80 32.00C0.13 30.00 0.10 27.00 0.00 24.00C-0.10 21.00 -0.05 17.00 0.20 14.00C0.45 11.00 0.87 7.93 1.50 6.00C2.13 4.07 2.92 3.23 4.00 2.40C5.08 1.57 6.50 1.27 8.00 1.00Z"/></clipPath><g filter="url(#blB)"><path d="M14.00 37.00C14.13 37.83 14.73 40.33 14.80 42.00C14.87 43.67 14.60 45.33 14.40 47.00C14.20 48.67 13.77 50.33 13.60 52.00C13.43 53.67 13.43 56.17 13.40 57.00" stroke="#cfcfcf" stroke-width="1.7" fill="none" stroke-linecap="round"/><path d="M3.00 35.50C2.77 36.00 1.53 37.75 1.60 38.50C1.67 39.25 3.10 39.75 3.40 40.00" stroke="#c0c0c0" stroke-width="2.2" fill="none" stroke-linecap="round"/><path d="M19.50 34.50C19.92 34.92 21.25 36.42 22.00 37.00C22.75 37.58 23.67 37.83 24.00 38.00" stroke="#c0c0c0" stroke-width="2.2" fill="none" stroke-linecap="round"/><path d="M18.00 8.50C18.58 8.33 20.58 7.33 21.50 7.50C22.42 7.67 23.17 9.17 23.50 9.50" stroke="#c0c0c0" stroke-width="2.2" fill="none" stroke-linecap="round"/><path d="M8.00 1.00C9.50 0.73 11.58 0.47 13.00 0.80C14.42 1.13 15.75 1.97 16.50 3.00C17.25 4.03 17.22 5.67 17.50 7.00C17.78 8.33 17.70 9.50 18.20 11.00C18.70 12.50 19.90 14.00 20.50 16.00C21.10 18.00 21.63 20.67 21.80 23.00C21.97 25.33 21.88 27.92 21.50 30.00C21.12 32.08 20.58 34.23 19.50 35.50C18.42 36.77 16.75 37.28 15.00 37.60C13.25 37.92 10.83 37.67 9.00 37.40C7.17 37.13 5.37 36.90 4.00 36.00C2.63 35.10 1.47 34.00 0.80 32.00C0.13 30.00 0.10 27.00 0.00 24.00C-0.10 21.00 -0.05 17.00 0.20 14.00C0.45 11.00 0.87 7.93 1.50 6.00C2.13 4.07 2.92 3.23 4.00 2.40C5.08 1.57 6.50 1.27 8.00 1.00Z" fill="#868686"/><g clip-path="url(#bm2)"><path d="M8.00 1.00C9.50 0.73 11.58 0.47 13.00 0.80C14.42 1.13 15.75 1.97 16.50 3.00C17.25 4.03 17.22 5.67 17.50 7.00C17.78 8.33 17.70 9.50 18.20 11.00C18.70 12.50 19.90 14.00 20.50 16.00C21.10 18.00 21.63 20.67 21.80 23.00C21.97 25.33 21.88 27.92 21.50 30.00C21.12 32.08 20.58 34.23 19.50 35.50C18.42 36.77 16.75 37.28 15.00 37.60C13.25 37.92 10.83 37.67 9.00 37.40C7.17 37.13 5.37 36.90 4.00 36.00C2.63 35.10 1.47 34.00 0.80 32.00C0.13 30.00 0.10 27.00 0.00 24.00C-0.10 21.00 -0.05 17.00 0.20 14.00C0.45 11.00 0.87 7.93 1.50 6.00C2.13 4.07 2.92 3.23 4.00 2.40C5.08 1.57 6.50 1.27 8.00 1.00Z" fill="#e0e0e0" filter="url(#blI)" transform="translate(0.6,0)"/><rect x="0" y="0" width="27" height="58" filter="url(#fur)" opacity="0.3"/><ellipse cx="10" cy="5" rx="7" ry="4.5" fill="#808080" opacity=".55" filter="url(#blI)"/></g></g><g filter="url(#blS)"><ellipse cx="19.4" cy="27.4" rx="6.2" ry="5.8" fill="#4a28d0" opacity="1"/><ellipse cx="19.4" cy="27.4" rx="5.3" ry="4.9" fill="#2038f0" opacity="1"/><ellipse cx="19.4" cy="27.2" rx="4" ry="3.6" fill="#20b0f0" opacity="1"/><ellipse cx="19.4" cy="27" rx="2.8" ry="2.4" fill="#40e060" opacity="1"/><ellipse cx="19.4" cy="27" rx="1.4" ry="1.2" fill="#e8e020" opacity="1"/></g></g></g>
<clipPath id="c3"><rect x="222" y="18.8" width="26.4" height="56.4"/></clipPath>
<rect x="222" y="18.8" width="26.4" height="56.4" fill="#0b0b0b"/>
<g clip-path="url(#c3)"><g transform="translate(222,18.8) scale(1.0000,0.9982)"><clipPath id="bm3"><path d="M11.40 1.00C12.07 1.07 13.03 2.00 13.60 3.00C14.17 4.00 14.33 5.93 14.80 7.00C15.27 8.07 15.70 8.87 16.40 9.40C17.10 9.93 18.57 9.60 19.00 10.20C19.43 10.80 18.60 11.70 19.00 13.00C19.40 14.30 20.83 15.83 21.40 18.00C21.97 20.17 22.30 23.33 22.40 26.00C22.50 28.67 22.48 31.75 22.00 34.00C21.52 36.25 20.83 38.33 19.50 39.50C18.17 40.67 15.92 40.75 14.00 41.00C12.08 41.25 9.73 41.33 8.00 41.00C6.27 40.67 4.63 40.33 3.60 39.00C2.57 37.67 2.13 35.50 1.80 33.00C1.47 30.50 1.43 26.67 1.60 24.00C1.77 21.33 2.23 18.92 2.80 17.00C3.37 15.08 4.70 13.63 5.00 12.50C5.30 11.37 4.20 10.75 4.60 10.20C5.00 9.65 6.73 9.90 7.40 9.20C8.07 8.50 8.23 7.10 8.60 6.00C8.97 4.90 9.13 3.43 9.60 2.60C10.07 1.77 10.73 0.93 11.40 1.00Z"/></clipPath><g filter="url(#blB)"><rect x="12" y="43.5" width="15" height="13.5" fill="#1d1d1d"/><path d="M9.00 40.50C8.87 41.25 8.23 43.42 8.20 45.00C8.17 46.58 8.73 48.00 8.80 50.00C8.87 52.00 8.63 55.83 8.60 57.00" stroke="#cfcfcf" stroke-width="1.7" fill="none" stroke-linecap="round"/><path d="M4.00 39.00C3.83 39.58 2.83 41.67 3.00 42.50C3.17 43.33 4.67 43.75 5.00 44.00" stroke="#c0c0c0" stroke-width="2.2" fill="none" stroke-linecap="round"/><path d="M20.50 38.00C20.83 38.50 21.83 40.42 22.50 41.00C23.17 41.58 24.17 41.42 24.50 41.50" stroke="#c0c0c0" stroke-width="2.2" fill="none" stroke-linecap="round"/><path d="M11.40 1.00C12.07 1.07 13.03 2.00 13.60 3.00C14.17 4.00 14.33 5.93 14.80 7.00C15.27 8.07 15.70 8.87 16.40 9.40C17.10 9.93 18.57 9.60 19.00 10.20C19.43 10.80 18.60 11.70 19.00 13.00C19.40 14.30 20.83 15.83 21.40 18.00C21.97 20.17 22.30 23.33 22.40 26.00C22.50 28.67 22.48 31.75 22.00 34.00C21.52 36.25 20.83 38.33 19.50 39.50C18.17 40.67 15.92 40.75 14.00 41.00C12.08 41.25 9.73 41.33 8.00 41.00C6.27 40.67 4.63 40.33 3.60 39.00C2.57 37.67 2.13 35.50 1.80 33.00C1.47 30.50 1.43 26.67 1.60 24.00C1.77 21.33 2.23 18.92 2.80 17.00C3.37 15.08 4.70 13.63 5.00 12.50C5.30 11.37 4.20 10.75 4.60 10.20C5.00 9.65 6.73 9.90 7.40 9.20C8.07 8.50 8.23 7.10 8.60 6.00C8.97 4.90 9.13 3.43 9.60 2.60C10.07 1.77 10.73 0.93 11.40 1.00Z" fill="#8c8c8c"/><g clip-path="url(#bm3)"><path d="M11.40 1.00C12.07 1.07 13.03 2.00 13.60 3.00C14.17 4.00 14.33 5.93 14.80 7.00C15.27 8.07 15.70 8.87 16.40 9.40C17.10 9.93 18.57 9.60 19.00 10.20C19.43 10.80 18.60 11.70 19.00 13.00C19.40 14.30 20.83 15.83 21.40 18.00C21.97 20.17 22.30 23.33 22.40 26.00C22.50 28.67 22.48 31.75 22.00 34.00C21.52 36.25 20.83 38.33 19.50 39.50C18.17 40.67 15.92 40.75 14.00 41.00C12.08 41.25 9.73 41.33 8.00 41.00C6.27 40.67 4.63 40.33 3.60 39.00C2.57 37.67 2.13 35.50 1.80 33.00C1.47 30.50 1.43 26.67 1.60 24.00C1.77 21.33 2.23 18.92 2.80 17.00C3.37 15.08 4.70 13.63 5.00 12.50C5.30 11.37 4.20 10.75 4.60 10.20C5.00 9.65 6.73 9.90 7.40 9.20C8.07 8.50 8.23 7.10 8.60 6.00C8.97 4.90 9.13 3.43 9.60 2.60C10.07 1.77 10.73 0.93 11.40 1.00Z" fill="#e6e6e6" filter="url(#blI)" transform="translate(0.6,0)"/><rect x="0" y="0" width="27" height="58" filter="url(#fur)" opacity="0.3"/><ellipse cx="11.5" cy="6" rx="4" ry="5" fill="#808080" opacity=".55" filter="url(#blI)"/></g></g><g filter="url(#blS)"><ellipse cx="13.2" cy="32.4" rx="7.2" ry="4.7" fill="#4a28d0" opacity="1"/><ellipse cx="21.4" cy="31.6" rx="3.2" ry="1.8" fill="#4a28d0" opacity="1"/><ellipse cx="13.2" cy="32.4" rx="6.2" ry="3.9" fill="#2038f0" opacity="1"/><ellipse cx="14" cy="32.4" rx="4.2" ry="2.7" fill="#20b0f0" opacity="1"/><ellipse cx="14.2" cy="32.4" rx="2.8" ry="1.8" fill="#30e0a0" opacity="1"/></g></g></g>
<clipPath id="c4"><rect x="165.7" y="77.4" width="26.6" height="57.2"/></clipPath>
<rect x="165.7" y="77.4" width="26.6" height="57.2" fill="#0b0b0b"/>
<g clip-path="url(#c4)"><g transform="translate(165.7,77.4) scale(1.0076,1.0000)"><clipPath id="bm4"><path d="M12.60 2.52C13.48 2.59 14.95 2.85 15.75 3.57C16.55 4.29 16.82 5.84 17.43 6.83C18.04 7.81 18.57 8.31 19.43 9.45C20.28 10.59 21.75 11.73 22.57 13.65C23.40 15.57 24.03 18.38 24.36 21.00C24.69 23.62 24.78 26.86 24.57 29.40C24.36 31.94 24.05 34.55 23.10 36.23C22.16 37.91 20.65 38.87 18.90 39.48C17.15 40.09 14.70 39.94 12.60 39.90C10.50 39.86 7.98 39.88 6.30 39.27C4.62 38.66 3.33 37.87 2.52 36.23C1.71 34.58 1.61 31.94 1.47 29.40C1.33 26.86 1.54 23.62 1.68 21.00C1.82 18.38 2.03 15.33 2.31 13.65C2.59 11.97 2.80 11.73 3.36 10.92C3.92 10.12 4.83 9.77 5.67 8.82C6.51 7.88 7.60 6.20 8.40 5.25C9.21 4.30 9.80 3.61 10.50 3.15C11.20 2.70 11.73 2.45 12.60 2.52Z"/></clipPath><g filter="url(#blB)"><path d="M12.81 39.50C12.67 40.25 12.04 42.25 11.97 44.00C11.90 45.75 12.43 47.42 12.39 50.00C12.36 52.58 11.87 57.92 11.76 59.50" stroke="#cfcfcf" stroke-width="1.7" fill="none" stroke-linecap="round"/><path d="M3.36 37.80C3.08 38.24 1.72 39.73 1.68 40.43C1.65 41.12 2.91 41.74 3.15 42.00" stroke="#c0c0c0" stroke-width="2.2" fill="none" stroke-linecap="round"/><path d="M22.57 36.75C22.93 37.10 24.06 38.50 24.68 38.85C25.29 39.20 25.99 38.85 26.25 38.85" stroke="#c0c0c0" stroke-width="2.2" fill="none" stroke-linecap="round"/><path d="M3.15 11.55C2.80 11.64 1.40 11.99 1.05 12.08" stroke="#c0c0c0" stroke-width="2.2" fill="none" stroke-linecap="round"/><path d="M12.60 2.52C13.48 2.59 14.95 2.85 15.75 3.57C16.55 4.29 16.82 5.84 17.43 6.83C18.04 7.81 18.57 8.31 19.43 9.45C20.28 10.59 21.75 11.73 22.57 13.65C23.40 15.57 24.03 18.38 24.36 21.00C24.69 23.62 24.78 26.86 24.57 29.40C24.36 31.94 24.05 34.55 23.10 36.23C22.16 37.91 20.65 38.87 18.90 39.48C17.15 40.09 14.70 39.94 12.60 39.90C10.50 39.86 7.98 39.88 6.30 39.27C4.62 38.66 3.33 37.87 2.52 36.23C1.71 34.58 1.61 31.94 1.47 29.40C1.33 26.86 1.54 23.62 1.68 21.00C1.82 18.38 2.03 15.33 2.31 13.65C2.59 11.97 2.80 11.73 3.36 10.92C3.92 10.12 4.83 9.77 5.67 8.82C6.51 7.88 7.60 6.20 8.40 5.25C9.21 4.30 9.80 3.61 10.50 3.15C11.20 2.70 11.73 2.45 12.60 2.52Z" fill="#a4a4a4"/><g clip-path="url(#bm4)"><path d="M12.60 2.52C13.48 2.59 14.95 2.85 15.75 3.57C16.55 4.29 16.82 5.84 17.43 6.83C18.04 7.81 18.57 8.31 19.43 9.45C20.28 10.59 21.75 11.73 22.57 13.65C23.40 15.57 24.03 18.38 24.36 21.00C24.69 23.62 24.78 26.86 24.57 29.40C24.36 31.94 24.05 34.55 23.10 36.23C22.16 37.91 20.65 38.87 18.90 39.48C17.15 40.09 14.70 39.94 12.60 39.90C10.50 39.86 7.98 39.88 6.30 39.27C4.62 38.66 3.33 37.87 2.52 36.23C1.71 34.58 1.61 31.94 1.47 29.40C1.33 26.86 1.54 23.62 1.68 21.00C1.82 18.38 2.03 15.33 2.31 13.65C2.59 11.97 2.80 11.73 3.36 10.92C3.92 10.12 4.83 9.77 5.67 8.82C6.51 7.88 7.60 6.20 8.40 5.25C9.21 4.30 9.80 3.61 10.50 3.15C11.20 2.70 11.73 2.45 12.60 2.52Z" fill="#f2f2f2" filter="url(#blI)" transform="translate(0.6,0)"/><rect x="0" y="0" width="27" height="58" filter="url(#fur)" opacity="0.16"/><ellipse cx="11.5" cy="7" rx="5" ry="4.5" fill="#808080" opacity=".55" filter="url(#blI)"/></g></g><g filter="url(#blS)"><path d="M10.6 3.6L13.6 3L14.6 6.5L13 10L10.6 9.6L11.2 6.5Z" fill="#7a62d8" opacity=".85"/><ellipse cx="15.8" cy="26.4" rx="2.7" ry="3.4" fill="#5a30d0" opacity="1"/><ellipse cx="15.8" cy="26.4" rx="1.8" ry="2.4" fill="#3020e8" opacity="1"/></g></g></g>
<clipPath id="c5"><rect x="194.2" y="77.4" width="25.6" height="57.2"/></clipPath>
<rect x="194.2" y="77.4" width="25.6" height="57.2" fill="#0b0b0b"/>
<g clip-path="url(#c5)"><g transform="translate(194.2,77.4) scale(0.9697,1.0000)"><clipPath id="bm5"><path d="M8.40 1.89C9.89 1.54 11.81 1.37 13.12 1.68C14.44 2.00 15.59 3.01 16.28 3.78C16.96 4.55 16.70 5.78 17.22 6.30C17.74 6.83 19.07 6.40 19.43 6.93C19.78 7.46 18.99 8.16 19.32 9.45C19.65 10.75 20.79 12.43 21.42 14.70C22.05 16.98 22.79 20.30 23.10 23.10C23.42 25.90 23.57 29.14 23.31 31.50C23.05 33.86 22.61 35.88 21.53 37.27C20.44 38.67 18.64 39.46 16.80 39.90C14.96 40.34 12.51 40.07 10.50 39.90C8.49 39.73 6.23 39.73 4.73 38.85C3.22 37.98 2.15 36.75 1.47 34.65C0.79 32.55 0.73 29.40 0.63 26.25C0.53 23.10 0.63 18.73 0.84 15.75C1.05 12.78 1.33 10.39 1.89 8.40C2.45 6.41 3.12 4.87 4.20 3.78C5.29 2.70 6.91 2.24 8.40 1.89Z"/></clipPath><g filter="url(#blB)"><path d="M14.28 39.50C14.35 40.25 14.77 42.25 14.70 44.00C14.63 45.75 14.09 47.42 13.86 50.00C13.63 52.58 13.42 57.92 13.33 59.50" stroke="#cfcfcf" stroke-width="1.7" fill="none" stroke-linecap="round"/><path d="M5.78 38.33C5.69 38.94 5.08 40.86 5.25 42.00C5.42 43.14 6.56 44.62 6.83 45.15" stroke="#c0c0c0" stroke-width="2.2" fill="none" stroke-linecap="round"/><path d="M21.53 36.75C21.88 37.19 22.93 38.76 23.62 39.38C24.32 39.99 25.38 40.25 25.73 40.43" stroke="#c0c0c0" stroke-width="2.2" fill="none" stroke-linecap="round"/><path d="M8.40 1.89C9.89 1.54 11.81 1.37 13.12 1.68C14.44 2.00 15.59 3.01 16.28 3.78C16.96 4.55 16.70 5.78 17.22 6.30C17.74 6.83 19.07 6.40 19.43 6.93C19.78 7.46 18.99 8.16 19.32 9.45C19.65 10.75 20.79 12.43 21.42 14.70C22.05 16.98 22.79 20.30 23.10 23.10C23.42 25.90 23.57 29.14 23.31 31.50C23.05 33.86 22.61 35.88 21.53 37.27C20.44 38.67 18.64 39.46 16.80 39.90C14.96 40.34 12.51 40.07 10.50 39.90C8.49 39.73 6.23 39.73 4.73 38.85C3.22 37.98 2.15 36.75 1.47 34.65C0.79 32.55 0.73 29.40 0.63 26.25C0.53 23.10 0.63 18.73 0.84 15.75C1.05 12.78 1.33 10.39 1.89 8.40C2.45 6.41 3.12 4.87 4.20 3.78C5.29 2.70 6.91 2.24 8.40 1.89Z" fill="#a4a4a4"/><g clip-path="url(#bm5)"><path d="M8.40 1.89C9.89 1.54 11.81 1.37 13.12 1.68C14.44 2.00 15.59 3.01 16.28 3.78C16.96 4.55 16.70 5.78 17.22 6.30C17.74 6.83 19.07 6.40 19.43 6.93C19.78 7.46 18.99 8.16 19.32 9.45C19.65 10.75 20.79 12.43 21.42 14.70C22.05 16.98 22.79 20.30 23.10 23.10C23.42 25.90 23.57 29.14 23.31 31.50C23.05 33.86 22.61 35.88 21.53 37.27C20.44 38.67 18.64 39.46 16.80 39.90C14.96 40.34 12.51 40.07 10.50 39.90C8.49 39.73 6.23 39.73 4.73 38.85C3.22 37.98 2.15 36.75 1.47 34.65C0.79 32.55 0.73 29.40 0.63 26.25C0.53 23.10 0.63 18.73 0.84 15.75C1.05 12.78 1.33 10.39 1.89 8.40C2.45 6.41 3.12 4.87 4.20 3.78C5.29 2.70 6.91 2.24 8.40 1.89Z" fill="#f0f0f0" filter="url(#blI)" transform="translate(0.6,0)"/><rect x="0" y="0" width="27" height="58" filter="url(#fur)" opacity="0.16"/><ellipse cx="10" cy="5.5" rx="6" ry="4.5" fill="#808080" opacity=".55" filter="url(#blI)"/></g></g><g filter="url(#blS)"><ellipse cx="16.4" cy="26" rx="3.9" ry="4.8" fill="#5a30d0" opacity="1"/><ellipse cx="16.4" cy="26" rx="3.1" ry="4" fill="#2030f0" opacity="1"/><ellipse cx="16" cy="25.6" rx="1.7" ry="2.2" fill="#2090f0" opacity="1"/></g></g></g>
<clipPath id="c6"><rect x="222" y="77.4" width="26.4" height="57.2"/></clipPath>
<rect x="222" y="77.4" width="26.4" height="57.2" fill="#0b0b0b"/>
<g clip-path="url(#c6)"><g transform="translate(222,77.4) scale(1.0000,1.0000)"><clipPath id="bm6"><path d="M5.25 1.68C6.56 1.30 8.68 1.47 9.97 1.89C11.27 2.31 12.34 3.29 13.02 4.20C13.70 5.11 13.44 6.48 14.07 7.35C14.70 8.23 15.73 8.23 16.80 9.45C17.87 10.68 19.57 12.60 20.48 14.70C21.39 16.80 21.93 19.43 22.26 22.05C22.59 24.68 22.68 28.09 22.47 30.45C22.26 32.81 21.95 34.83 21.00 36.23C20.05 37.62 18.55 38.34 16.80 38.85C15.05 39.36 12.43 39.36 10.50 39.27C8.57 39.18 6.72 39.10 5.25 38.33C3.78 37.55 2.49 36.49 1.68 34.65C0.88 32.81 0.60 30.10 0.42 27.30C0.24 24.50 0.53 20.83 0.63 17.85C0.73 14.88 0.81 11.73 1.05 9.45C1.30 7.18 1.40 5.50 2.10 4.20C2.80 2.91 3.94 2.07 5.25 1.68Z"/></clipPath><g filter="url(#blB)"><path d="M15.23 39.00C15.31 39.83 15.45 42.17 15.75 44.00C16.05 45.83 16.77 47.42 17.01 50.00C17.26 52.58 17.18 57.92 17.22 59.50" stroke="#cfcfcf" stroke-width="1.7" fill="none" stroke-linecap="round"/><path d="M5.78 37.80C5.51 38.41 4.03 40.43 4.20 41.48C4.38 42.52 6.39 43.66 6.83 44.10" stroke="#c0c0c0" stroke-width="2.2" fill="none" stroke-linecap="round"/><path d="M21.00 35.70C21.52 36.05 23.19 37.36 24.15 37.80C25.11 38.24 26.34 38.24 26.78 38.33" stroke="#c0c0c0" stroke-width="2.2" fill="none" stroke-linecap="round"/><path d="M2.10 5.78C1.75 5.60 0.35 4.90 0.00 4.73" stroke="#c0c0c0" stroke-width="2.2" fill="none" stroke-linecap="round"/><path d="M5.25 1.68C6.56 1.30 8.68 1.47 9.97 1.89C11.27 2.31 12.34 3.29 13.02 4.20C13.70 5.11 13.44 6.48 14.07 7.35C14.70 8.23 15.73 8.23 16.80 9.45C17.87 10.68 19.57 12.60 20.48 14.70C21.39 16.80 21.93 19.43 22.26 22.05C22.59 24.68 22.68 28.09 22.47 30.45C22.26 32.81 21.95 34.83 21.00 36.23C20.05 37.62 18.55 38.34 16.80 38.85C15.05 39.36 12.43 39.36 10.50 39.27C8.57 39.18 6.72 39.10 5.25 38.33C3.78 37.55 2.49 36.49 1.68 34.65C0.88 32.81 0.60 30.10 0.42 27.30C0.24 24.50 0.53 20.83 0.63 17.85C0.73 14.88 0.81 11.73 1.05 9.45C1.30 7.18 1.40 5.50 2.10 4.20C2.80 2.91 3.94 2.07 5.25 1.68Z" fill="#a4a4a4"/><g clip-path="url(#bm6)"><path d="M5.25 1.68C6.56 1.30 8.68 1.47 9.97 1.89C11.27 2.31 12.34 3.29 13.02 4.20C13.70 5.11 13.44 6.48 14.07 7.35C14.70 8.23 15.73 8.23 16.80 9.45C17.87 10.68 19.57 12.60 20.48 14.70C21.39 16.80 21.93 19.43 22.26 22.05C22.59 24.68 22.68 28.09 22.47 30.45C22.26 32.81 21.95 34.83 21.00 36.23C20.05 37.62 18.55 38.34 16.80 38.85C15.05 39.36 12.43 39.36 10.50 39.27C8.57 39.18 6.72 39.10 5.25 38.33C3.78 37.55 2.49 36.49 1.68 34.65C0.88 32.81 0.60 30.10 0.42 27.30C0.24 24.50 0.53 20.83 0.63 17.85C0.73 14.88 0.81 11.73 1.05 9.45C1.30 7.18 1.40 5.50 2.10 4.20C2.80 2.91 3.94 2.07 5.25 1.68Z" fill="#f0f0f0" filter="url(#blI)" transform="translate(0.6,0)"/><rect x="0" y="0" width="27" height="58" filter="url(#fur)" opacity="0.16"/><ellipse cx="7" cy="5" rx="6" ry="4.5" fill="#808080" opacity=".55" filter="url(#blI)"/></g></g><g filter="url(#blS)"><ellipse cx="20.1" cy="26" rx="3.9" ry="5.2" fill="#5a30d0" opacity="1"/><ellipse cx="20.1" cy="26" rx="3.2" ry="4.4" fill="#2040f0" opacity="1"/><ellipse cx="20.1" cy="26" rx="2.4" ry="3.4" fill="#20c0e0" opacity="1"/><ellipse cx="20.1" cy="26.4" rx="1.6" ry="2.4" fill="#50e050" opacity="1"/><ellipse cx="20.1" cy="26.8" rx="0.8" ry="1.2" fill="#e0e030" opacity="1"/></g></g></g>
<text x="295.3" y="16.1" font-size="16" text-anchor="start" class="b" >C</text>
<text transform="translate(310.6,143) rotate(-90)" font-size="8.7">Bioluminescence fold expansion</text>
<path d="M334.2 17.8V142.6H520" stroke="#8c8c8c" stroke-width="1" fill="none"/>
<path d="M332.59999999999997 59.7h1.6M332.59999999999997 47.3h1.6M332.59999999999997 40.0h1.6M332.59999999999997 34.8h1.6M332.59999999999997 30.8h1.6M332.59999999999997 27.6h1.6M332.59999999999997 24.8h1.6M332.59999999999997 22.4h1.6M332.59999999999997 20.3h1.6M332.59999999999997 101.0h1.6M332.59999999999997 88.6h1.6M332.59999999999997 81.3h1.6M332.59999999999997 76.1h1.6M332.59999999999997 72.1h1.6M332.59999999999997 68.9h1.6M332.59999999999997 66.1h1.6M332.59999999999997 63.7h1.6M332.59999999999997 61.6h1.6M332.59999999999997 142.3h1.6M332.59999999999997 129.9h1.6M332.59999999999997 122.6h1.6M332.59999999999997 117.4h1.6M332.59999999999997 113.4h1.6M332.59999999999997 110.2h1.6M332.59999999999997 107.4h1.6M332.59999999999997 105.0h1.6M332.59999999999997 102.9h1.6M331.7 18.4h2.5M331.7 59.7h2.5M331.7 101h2.5M331.7 142.3h2.5" stroke="#888" stroke-width=".6"/>
<text x="330.6" y="21.9" font-size="10.3" text-anchor="end"  >100</text>
<text x="330.6" y="64.9" font-size="10.3" text-anchor="end"  >10</text>
<text x="330.6" y="105.6" font-size="10.3" text-anchor="end"  >1</text>
<text x="330.4" y="146.8" font-size="10.3" text-anchor="end"  >0.1</text>
<circle cx="380.8" cy="32.8" r="2.1" fill="#fff" stroke="#000" stroke-width="1.1"/>
<path d="M380.8 45.1L382.90000000000003 47.2L380.8 49.300000000000004L378.7 47.2Z" fill="#fff" stroke="#000" stroke-width="1.1"/>
<path d="M375.3 55.3H386.3" stroke="#000" stroke-width="1.7"/>
<path d="M378.7 62.10000000000001L382.90000000000003 66.7M382.90000000000003 62.10000000000001L378.7 66.7M378.40000000000003 64.4H383.2" stroke="#000" stroke-width="1" fill="none"/>
<path d="M378.5 88.3L383.1 93.3M383.1 88.3L378.5 93.3" stroke="#000" stroke-width="1.15" fill="none"/>
<path d="M380.8 96.0L383.3 101.10000000000001H378.3Z" fill="none" stroke="#000" stroke-width="1.1" stroke-linejoin="miter"/>
<path d="M424.59999999999997 27.1L429.2 32.1M429.2 27.1L424.59999999999997 32.1" stroke="#000" stroke-width="1.15" fill="none"/>
<circle cx="426.9" cy="31.2" r="2.1" fill="#fff" stroke="#000" stroke-width="1.1"/>
<path d="M426.9 39.5L429.4 44.6H424.4Z" fill="none" stroke="#000" stroke-width="1.1" stroke-linejoin="miter"/>
<path d="M421.59999999999997 45.1H432.2" stroke="#000" stroke-width="2.1"/>
<path d="M426.9 71.7L428.59999999999997 73.4L426.9 75.10000000000001L425.2 73.4Z" fill="#fff" stroke="#000" stroke-width="1.1"/>
<path d="M424.59999999999997 90.0L429.2 95.0M429.2 90.0L424.59999999999997 95.0" stroke="#000" stroke-width="1.15" fill="none"/>
<path d="M426.9 90.19999999999999L429.4 95.3H424.4Z" fill="none" stroke="#000" stroke-width="1.1" stroke-linejoin="miter"/>
<path d="M473.6 104.4L475.40000000000003 106.2L473.6 108.0L471.8 106.2Z" fill="#fff" stroke="#000" stroke-width="1.1"/>
<path d="M471.3 106.3L475.90000000000003 111.3M475.90000000000003 106.3L471.3 111.3" stroke="#000" stroke-width="1.15" fill="none"/>
<path d="M473.6 92.5L476.1 97.60000000000001H471.1Z" fill="none" stroke="#000" stroke-width="1.1" stroke-linejoin="miter"/>
<path d="M468.1 100.1H479.1" stroke="#000" stroke-width="1.8"/>
<circle cx="473.6" cy="103.9" r="2.1" fill="#fff" stroke="#000" stroke-width="1.1"/>
<text x="372.9" y="153.3" font-size="8.6" text-anchor="middle"  >Autol LCL</text>
<text x="373.1" y="163.7" font-size="8.6" text-anchor="middle"  >+ NT CTLs</text>
<text x="426" y="153.3" font-size="8.6" text-anchor="middle"  >Autol LCL +</text>
<text x="403.6" y="163.7" font-size="8.6">CD30CAR<tspan dy="-3" font-size="7" font-weight="bold">+</tspan></text>
<text x="426.6" y="174" font-size="8.6" text-anchor="middle"  >CTLs</text>
<text x="481.6" y="153.3" font-size="8.6" text-anchor="middle"  >Allo LCL +</text>
<text x="459.8" y="163.7" font-size="8.6">CD30CAR<tspan dy="-3" font-size="7" font-weight="bold">+</tspan></text>
<text x="481.5" y="174" font-size="8.6" text-anchor="middle"  >CTLs</text>
<text x="9.9" y="185.7" font-size="16" text-anchor="start" class="b" >D</text>
<text x="44" y="186.6" font-size="7.4" text-anchor="middle"  >D-7</text>
<text x="64.5" y="186.6" font-size="7.4" text-anchor="middle"  >D0</text>
<text x="83.7" y="186.6" font-size="7.4" text-anchor="middle"  >D+4</text>
<text x="106" y="186.6" font-size="7.4" text-anchor="middle"  >D+7</text>
<text x="127" y="186.6" font-size="7.4" text-anchor="middle"  >D+14</text>
<text x="150.6" y="186.6" font-size="7.4" text-anchor="middle"  >D+21</text>
<text x="171.7" y="186.6" font-size="7.4" text-anchor="middle"  >D+28</text>
<text x="184.5" y="211.3" font-size="7.5" text-anchor="start"  >Control CTLs</text>
<text x="186.7" y="254" font-size="7.4">CD30CAR<tspan dy="-2.8" font-size="6" font-weight="bold">+</tspan></text>
<text x="206.6" y="263.2" font-size="7.4" text-anchor="middle"  >CTLs</text>
<text x="186.7" y="298.5" font-size="7.4">CD30CAR<tspan dy="-2.8" font-size="6" font-weight="bold">+</tspan></text>
<text x="206.3" y="308" font-size="7.4" text-anchor="middle"  >CTLs &amp; LCL</text>
<rect x="11.6" y="208" width="4.2" height="46.7" fill="url(#cbar)"/>
<text x="12.5" y="205.4" font-size="2.4" fill="#666">Luminescence</text>
<path d="M11.6 207.2H29" stroke="#888" stroke-width=".4"/>
<text x="17.4" y="209.5" font-size="2.4" fill="#666">5</text>
<text x="17.4" y="220.1" font-size="2.4" fill="#666">4</text>
<text x="17.4" y="230.7" font-size="2.4" fill="#666">3</text>
<text x="17.4" y="241.3" font-size="2.4" fill="#666">2</text>
<text x="17.4" y="251.9" font-size="2.4" fill="#666">1</text>
<text x="13" y="258" font-size="2.3" fill="#666">Color Bar</text>
<text x="13" y="260.8" font-size="2.3" fill="#666">Min = 1.5e5</text>
<text x="13" y="263.6" font-size="2.3" fill="#666">Max = 5e6</text>
<filter id="blD" x="-10%" y="-10%" width="120%" height="120%"><feGaussianBlur stdDeviation="0.5"/></filter>
<filter id="blT" x="-30%" y="-30%" width="160%" height="160%"><feGaussianBlur stdDeviation="0.55"/></filter>
<linearGradient id="bodyD" x1="0" y1="0" x2="0" y2="1"><stop offset="0" stop-color="#848484"/><stop offset="0.24" stop-color="#a2a2a2"/><stop offset="0.36" stop-color="#e4e4e4"/><stop offset="1" stop-color="#e4e4e4"/></linearGradient>
<linearGradient id="bodyD2" x1="0" y1="0" x2="0" y2="1"><stop offset="0" stop-color="#adadad"/><stop offset="0.22" stop-color="#c8c8c8"/><stop offset="0.36" stop-color="#ececec"/><stop offset="1" stop-color="#f0f0f0"/></linearGradient>
<clipPath id="c7"><rect x="35" y="190.4" width="19.5" height="39.9"/></clipPath>
<rect x="35" y="190.4" width="19.5" height="39.9" fill="#0b0b0b"/>
<g clip-path="url(#c7)"><g transform="translate(35,190.4) scale(1.0000,0.9975)"><clipPath id="dm1"><path d="M9.90 1.80C10.47 1.80 11.12 2.43 11.60 3.00C12.08 3.57 12.45 4.43 12.80 5.20C13.15 5.97 13.45 6.88 13.70 7.60C13.95 8.32 14.23 8.88 14.30 9.50C14.37 10.12 13.87 10.72 14.10 11.30C14.33 11.88 15.18 12.35 15.70 13.00C16.22 13.65 16.85 14.07 17.20 15.20C17.55 16.33 17.65 18.20 17.80 19.80C17.95 21.40 18.07 23.13 18.10 24.80C18.13 26.47 18.10 28.20 18.00 29.80C17.90 31.40 17.95 33.13 17.50 34.40C17.05 35.67 16.57 36.73 15.30 37.40C14.03 38.07 11.70 38.40 9.90 38.40C8.10 38.40 5.77 38.07 4.50 37.40C3.23 36.73 2.75 35.67 2.30 34.40C1.85 33.13 1.90 31.40 1.80 29.80C1.70 28.20 1.67 26.47 1.70 24.80C1.73 23.13 1.85 21.40 2.00 19.80C2.15 18.20 2.25 16.33 2.60 15.20C2.95 14.07 3.58 13.65 4.10 13.00C4.62 12.35 5.47 11.88 5.70 11.30C5.93 10.72 5.43 10.12 5.50 9.50C5.57 8.88 5.85 8.32 6.10 7.60C6.35 6.88 6.65 5.97 7.00 5.20C7.35 4.43 7.72 3.57 8.20 3.00C8.68 2.43 9.33 1.80 9.90 1.80Z"/></clipPath><g filter="url(#blD)"><path d="M4.4 34.8L1.9000000000000004 38.599999999999994M15.4 34.8L17.9 38.599999999999994M4.9 13.8L1.5 11.8M14.9 13.8L18.3 11.8" stroke="#a8a8a8" stroke-width="1.5" fill="none" stroke-linecap="round"/><path d="M9.90 1.80C10.47 1.80 11.12 2.43 11.60 3.00C12.08 3.57 12.45 4.43 12.80 5.20C13.15 5.97 13.45 6.88 13.70 7.60C13.95 8.32 14.23 8.88 14.30 9.50C14.37 10.12 13.87 10.72 14.10 11.30C14.33 11.88 15.18 12.35 15.70 13.00C16.22 13.65 16.85 14.07 17.20 15.20C17.55 16.33 17.65 18.20 17.80 19.80C17.95 21.40 18.07 23.13 18.10 24.80C18.13 26.47 18.10 28.20 18.00 29.80C17.90 31.40 17.95 33.13 17.50 34.40C17.05 35.67 16.57 36.73 15.30 37.40C14.03 38.07 11.70 38.40 9.90 38.40C8.10 38.40 5.77 38.07 4.50 37.40C3.23 36.73 2.75 35.67 2.30 34.40C1.85 33.13 1.90 31.40 1.80 29.80C1.70 28.20 1.67 26.47 1.70 24.80C1.73 23.13 1.85 21.40 2.00 19.80C2.15 18.20 2.25 16.33 2.60 15.20C2.95 14.07 3.58 13.65 4.10 13.00C4.62 12.35 5.47 11.88 5.70 11.30C5.93 10.72 5.43 10.12 5.50 9.50C5.57 8.88 5.85 8.32 6.10 7.60C6.35 6.88 6.65 5.97 7.00 5.20C7.35 4.43 7.72 3.57 8.20 3.00C8.68 2.43 9.33 1.80 9.90 1.80Z" fill="#8a8a8a"/><g clip-path="url(#dm1)"><path d="M9.90 1.80C10.47 1.80 11.12 2.43 11.60 3.00C12.08 3.57 12.45 4.43 12.80 5.20C13.15 5.97 13.45 6.88 13.70 7.60C13.95 8.32 14.23 8.88 14.30 9.50C14.37 10.12 13.87 10.72 14.10 11.30C14.33 11.88 15.18 12.35 15.70 13.00C16.22 13.65 16.85 14.07 17.20 15.20C17.55 16.33 17.65 18.20 17.80 19.80C17.95 21.40 18.07 23.13 18.10 24.80C18.13 26.47 18.10 28.20 18.00 29.80C17.90 31.40 17.95 33.13 17.50 34.40C17.05 35.67 16.57 36.73 15.30 37.40C14.03 38.07 11.70 38.40 9.90 38.40C8.10 38.40 5.77 38.07 4.50 37.40C3.23 36.73 2.75 35.67 2.30 34.40C1.85 33.13 1.90 31.40 1.80 29.80C1.70 28.20 1.67 26.47 1.70 24.80C1.73 23.13 1.85 21.40 2.00 19.80C2.15 18.20 2.25 16.33 2.60 15.20C2.95 14.07 3.58 13.65 4.10 13.00C4.62 12.35 5.47 11.88 5.70 11.30C5.93 10.72 5.43 10.12 5.50 9.50C5.57 8.88 5.85 8.32 6.10 7.60C6.35 6.88 6.65 5.97 7.00 5.20C7.35 4.43 7.72 3.57 8.20 3.00C8.68 2.43 9.33 1.80 9.90 1.80Z" fill="url(#bodyD)" filter="url(#blI2)"/><rect x="0" y="0" width="20" height="40" filter="url(#fur)" opacity=".3"/></g><ellipse cx="6.0" cy="9.4" rx="1.3" ry="1.4" fill="#8c8c8c"/><ellipse cx="13.8" cy="9.4" rx="1.3" ry="1.4" fill="#8c8c8c"/><ellipse cx="9.9" cy="17.8" rx="4.5" ry="3" fill="#f6f6f6" opacity=".8"/></g><g filter="url(#blT)"><path d="M17.03 27.00C17.03 28.95 17.76 31.25 17.13 32.86C16.50 34.47 14.68 36.10 13.24 36.66C11.81 37.22 10.01 36.57 8.51 36.21C7.00 35.85 5.34 35.57 4.23 34.50C3.12 33.43 2.30 31.50 1.83 29.76C1.36 28.03 1.08 25.90 1.41 24.09C1.75 22.28 2.63 19.91 3.82 18.93C5.01 17.95 7.09 18.18 8.56 18.20C10.02 18.23 11.17 18.58 12.59 19.07C14.02 19.56 16.37 19.84 17.11 21.16C17.85 22.48 17.02 25.05 17.03 27.00Z" fill="#6a34dc" opacity="1"/><path d="M16.30 27.00C16.31 28.79 16.96 30.91 16.39 32.39C15.83 33.87 14.19 35.37 12.89 35.88C11.59 36.39 9.97 35.80 8.61 35.47C7.26 35.14 5.76 34.88 4.75 33.90C3.75 32.91 3.01 31.14 2.59 29.54C2.16 27.94 1.91 25.99 2.21 24.32C2.51 22.66 3.31 20.48 4.38 19.58C5.46 18.68 7.34 18.89 8.66 18.91C9.98 18.93 11.01 19.26 12.30 19.71C13.59 20.16 15.71 20.41 16.38 21.63C17.04 22.84 16.30 25.21 16.30 27.00Z" fill="#2626f4" opacity="1"/><path d="M13.80 26.00C14.03 26.72 14.58 27.93 14.35 28.65C14.11 29.37 13.11 30.05 12.40 30.33C11.68 30.60 10.70 30.56 10.04 30.30C9.38 30.04 9.09 29.23 8.43 28.76C7.77 28.28 6.48 28.16 6.09 27.46C5.69 26.75 5.74 25.33 6.05 24.53C6.37 23.73 7.30 23.13 7.96 22.65C8.62 22.17 9.36 21.63 10.03 21.63C10.70 21.63 11.51 22.18 12.00 22.63C12.49 23.08 12.66 23.77 12.96 24.33C13.26 24.89 13.56 25.28 13.80 26.00Z" fill="#2c5cf4" opacity="1"/><path d="M13.91 25.80C13.73 26.32 12.77 26.65 12.38 26.93C12.00 27.22 11.91 27.06 11.61 27.50C11.31 27.93 10.87 29.55 10.58 29.54C10.29 29.53 10.07 27.97 9.88 27.45C9.69 26.92 9.65 26.80 9.45 26.38C9.25 25.96 8.62 25.34 8.67 24.93C8.71 24.52 9.39 24.36 9.71 23.91C10.04 23.47 10.26 22.30 10.60 22.27C10.94 22.24 11.27 23.48 11.74 23.73C12.22 23.99 13.09 23.45 13.45 23.80C13.81 24.14 14.08 25.28 13.91 25.80Z" fill="#2cc4f0" opacity="1"/></g></g></g>
<clipPath id="c8"><rect x="56.3" y="190.4" width="18.9" height="39.9"/></clipPath>
<rect x="56.3" y="190.4" width="18.9" height="39.9" fill="#0b0b0b"/>
<g clip-path="url(#c8)"><g transform="translate(56.3,190.4) scale(0.9692,0.9975)"><clipPath id="dm2"><path d="M9.90 1.80C10.47 1.80 11.12 2.43 11.60 3.00C12.08 3.57 12.45 4.43 12.80 5.20C13.15 5.97 13.45 6.88 13.70 7.60C13.95 8.32 14.23 8.88 14.30 9.50C14.37 10.12 13.87 10.72 14.10 11.30C14.33 11.88 15.18 12.35 15.70 13.00C16.22 13.65 16.85 14.07 17.20 15.20C17.55 16.33 17.65 18.20 17.80 19.80C17.95 21.40 18.07 23.13 18.10 24.80C18.13 26.47 18.10 28.20 18.00 29.80C17.90 31.40 17.95 33.13 17.50 34.40C17.05 35.67 16.57 36.73 15.30 37.40C14.03 38.07 11.70 38.40 9.90 38.40C8.10 38.40 5.77 38.07 4.50 37.40C3.23 36.73 2.75 35.67 2.30 34.40C1.85 33.13 1.90 31.40 1.80 29.80C1.70 28.20 1.67 26.47 1.70 24.80C1.73 23.13 1.85 21.40 2.00 19.80C2.15 18.20 2.25 16.33 2.60 15.20C2.95 14.07 3.58 13.65 4.10 13.00C4.62 12.35 5.47 11.88 5.70 11.30C5.93 10.72 5.43 10.12 5.50 9.50C5.57 8.88 5.85 8.32 6.10 7.60C6.35 6.88 6.65 5.97 7.00 5.20C7.35 4.43 7.72 3.57 8.20 3.00C8.68 2.43 9.33 1.80 9.90 1.80Z"/></clipPath><g filter="url(#blD)"><path d="M4.4 34.8L1.9000000000000004 38.599999999999994M15.4 34.8L17.9 38.599999999999994M4.9 13.8L1.5 11.8M14.9 13.8L18.3 11.8" stroke="#a8a8a8" stroke-width="1.5" fill="none" stroke-linecap="round"/><path d="M9.90 1.80C10.47 1.80 11.12 2.43 11.60 3.00C12.08 3.57 12.45 4.43 12.80 5.20C13.15 5.97 13.45 6.88 13.70 7.60C13.95 8.32 14.23 8.88 14.30 9.50C14.37 10.12 13.87 10.72 14.10 11.30C14.33 11.88 15.18 12.35 15.70 13.00C16.22 13.65 16.85 14.07 17.20 15.20C17.55 16.33 17.65 18.20 17.80 19.80C17.95 21.40 18.07 23.13 18.10 24.80C18.13 26.47 18.10 28.20 18.00 29.80C17.90 31.40 17.95 33.13 17.50 34.40C17.05 35.67 16.57 36.73 15.30 37.40C14.03 38.07 11.70 38.40 9.90 38.40C8.10 38.40 5.77 38.07 4.50 37.40C3.23 36.73 2.75 35.67 2.30 34.40C1.85 33.13 1.90 31.40 1.80 29.80C1.70 28.20 1.67 26.47 1.70 24.80C1.73 23.13 1.85 21.40 2.00 19.80C2.15 18.20 2.25 16.33 2.60 15.20C2.95 14.07 3.58 13.65 4.10 13.00C4.62 12.35 5.47 11.88 5.70 11.30C5.93 10.72 5.43 10.12 5.50 9.50C5.57 8.88 5.85 8.32 6.10 7.60C6.35 6.88 6.65 5.97 7.00 5.20C7.35 4.43 7.72 3.57 8.20 3.00C8.68 2.43 9.33 1.80 9.90 1.80Z" fill="#8a8a8a"/><g clip-path="url(#dm2)"><path d="M9.90 1.80C10.47 1.80 11.12 2.43 11.60 3.00C12.08 3.57 12.45 4.43 12.80 5.20C13.15 5.97 13.45 6.88 13.70 7.60C13.95 8.32 14.23 8.88 14.30 9.50C14.37 10.12 13.87 10.72 14.10 11.30C14.33 11.88 15.18 12.35 15.70 13.00C16.22 13.65 16.85 14.07 17.20 15.20C17.55 16.33 17.65 18.20 17.80 19.80C17.95 21.40 18.07 23.13 18.10 24.80C18.13 26.47 18.10 28.20 18.00 29.80C17.90 31.40 17.95 33.13 17.50 34.40C17.05 35.67 16.57 36.73 15.30 37.40C14.03 38.07 11.70 38.40 9.90 38.40C8.10 38.40 5.77 38.07 4.50 37.40C3.23 36.73 2.75 35.67 2.30 34.40C1.85 33.13 1.90 31.40 1.80 29.80C1.70 28.20 1.67 26.47 1.70 24.80C1.73 23.13 1.85 21.40 2.00 19.80C2.15 18.20 2.25 16.33 2.60 15.20C2.95 14.07 3.58 13.65 4.10 13.00C4.62 12.35 5.47 11.88 5.70 11.30C5.93 10.72 5.43 10.12 5.50 9.50C5.57 8.88 5.85 8.32 6.10 7.60C6.35 6.88 6.65 5.97 7.00 5.20C7.35 4.43 7.72 3.57 8.20 3.00C8.68 2.43 9.33 1.80 9.90 1.80Z" fill="url(#bodyD)" filter="url(#blI2)"/><rect x="0" y="0" width="20" height="40" filter="url(#fur)" opacity=".3"/></g><ellipse cx="6.0" cy="9.4" rx="1.3" ry="1.4" fill="#8c8c8c"/><ellipse cx="13.8" cy="9.4" rx="1.3" ry="1.4" fill="#8c8c8c"/><ellipse cx="9.9" cy="17.8" rx="4.5" ry="3" fill="#f6f6f6" opacity=".8"/></g><g filter="url(#blT)"><path d="M18.76 30.20C18.86 31.28 18.35 32.84 17.40 33.59C16.45 34.34 14.42 34.46 13.08 34.72C11.74 34.98 10.70 35.14 9.34 35.16C7.98 35.17 6.04 35.36 4.92 34.81C3.79 34.27 2.97 32.92 2.60 31.88C2.24 30.83 2.23 29.50 2.73 28.55C3.23 27.60 4.52 26.84 5.60 26.17C6.67 25.49 7.87 24.69 9.19 24.49C10.52 24.29 12.26 24.51 13.53 24.95C14.79 25.38 15.92 26.22 16.79 27.10C17.67 27.97 18.66 29.12 18.76 30.20Z" fill="#6a34dc" opacity="1"/><path d="M17.86 30.20C17.95 31.13 17.50 32.46 16.65 33.11C15.80 33.75 13.99 33.85 12.78 34.08C11.58 34.30 10.66 34.44 9.44 34.45C8.23 34.47 6.49 34.63 5.49 34.16C4.48 33.69 3.74 32.54 3.42 31.64C3.09 30.74 3.08 29.60 3.53 28.78C3.97 27.97 5.13 27.32 6.09 26.74C7.06 26.16 8.13 25.48 9.31 25.30C10.49 25.13 12.05 25.32 13.19 25.70C14.32 26.07 15.33 26.79 16.11 27.54C16.89 28.29 17.77 29.27 17.86 30.20Z" fill="#2626f4" opacity="1"/><path d="M16.12 30.20C16.36 30.76 15.82 31.64 15.24 32.19C14.67 32.73 13.60 33.40 12.69 33.46C11.77 33.53 10.70 32.70 9.76 32.55C8.81 32.40 7.66 32.83 7.01 32.57C6.36 32.32 6.10 31.55 5.87 31.01C5.64 30.47 5.31 29.79 5.63 29.34C5.94 28.90 7.05 28.63 7.74 28.35C8.42 28.08 8.97 27.82 9.72 27.69C10.47 27.55 11.56 27.36 12.24 27.55C12.91 27.73 13.13 28.36 13.77 28.80C14.42 29.25 15.87 29.64 16.12 30.20Z" fill="#2c5cf4" opacity="1"/><path d="M13.41 30.40C13.44 30.78 13.46 31.35 13.04 31.57C12.62 31.79 11.51 31.54 10.88 31.73C10.24 31.92 9.67 32.75 9.21 32.71C8.74 32.68 8.55 31.80 8.09 31.51C7.62 31.22 6.52 31.21 6.41 30.96C6.31 30.71 7.32 30.37 7.48 30.02C7.64 29.66 7.05 29.00 7.38 28.83C7.71 28.66 8.79 29.04 9.44 28.99C10.09 28.95 10.72 28.51 11.29 28.56C11.86 28.61 12.50 28.99 12.85 29.30C13.21 29.60 13.38 30.02 13.41 30.40Z" fill="#2cc4f0" opacity="1"/></g></g></g>
<clipPath id="c9"><rect x="77.1" y="190.4" width="19.8" height="39.9"/></clipPath>
<rect x="77.1" y="190.4" width="19.8" height="39.9" fill="#0b0b0b"/>
<g clip-path="url(#c9)"><g transform="translate(77.1,190.4) scale(1.0154,0.9975)"><clipPath id="dm3"><path d="M9.90 1.80C10.47 1.80 11.12 2.43 11.60 3.00C12.08 3.57 12.45 4.43 12.80 5.20C13.15 5.97 13.45 6.88 13.70 7.60C13.95 8.32 14.23 8.88 14.30 9.50C14.37 10.12 13.87 10.72 14.10 11.30C14.33 11.88 15.18 12.35 15.70 13.00C16.22 13.65 16.85 14.07 17.20 15.20C17.55 16.33 17.65 18.20 17.80 19.80C17.95 21.40 18.07 23.13 18.10 24.80C18.13 26.47 18.10 28.20 18.00 29.80C17.90 31.40 17.95 33.13 17.50 34.40C17.05 35.67 16.57 36.73 15.30 37.40C14.03 38.07 11.70 38.40 9.90 38.40C8.10 38.40 5.77 38.07 4.50 37.40C3.23 36.73 2.75 35.67 2.30 34.40C1.85 33.13 1.90 31.40 1.80 29.80C1.70 28.20 1.67 26.47 1.70 24.80C1.73 23.13 1.85 21.40 2.00 19.80C2.15 18.20 2.25 16.33 2.60 15.20C2.95 14.07 3.58 13.65 4.10 13.00C4.62 12.35 5.47 11.88 5.70 11.30C5.93 10.72 5.43 10.12 5.50 9.50C5.57 8.88 5.85 8.32 6.10 7.60C6.35 6.88 6.65 5.97 7.00 5.20C7.35 4.43 7.72 3.57 8.20 3.00C8.68 2.43 9.33 1.80 9.90 1.80Z"/></clipPath><g filter="url(#blD)"><path d="M4.4 34.8L1.9000000000000004 38.599999999999994M15.4 34.8L17.9 38.599999999999994M4.9 13.8L1.5 11.8M14.9 13.8L18.3 11.8" stroke="#a8a8a8" stroke-width="1.5" fill="none" stroke-linecap="round"/><path d="M9.90 1.80C10.47 1.80 11.12 2.43 11.60 3.00C12.08 3.57 12.45 4.43 12.80 5.20C13.15 5.97 13.45 6.88 13.70 7.60C13.95 8.32 14.23 8.88 14.30 9.50C14.37 10.12 13.87 10.72 14.10 11.30C14.33 11.88 15.18 12.35 15.70 13.00C16.22 13.65 16.85 14.07 17.20 15.20C17.55 16.33 17.65 18.20 17.80 19.80C17.95 21.40 18.07 23.13 18.10 24.80C18.13 26.47 18.10 28.20 18.00 29.80C17.90 31.40 17.95 33.13 17.50 34.40C17.05 35.67 16.57 36.73 15.30 37.40C14.03 38.07 11.70 38.40 9.90 38.40C8.10 38.40 5.77 38.07 4.50 37.40C3.23 36.73 2.75 35.67 2.30 34.40C1.85 33.13 1.90 31.40 1.80 29.80C1.70 28.20 1.67 26.47 1.70 24.80C1.73 23.13 1.85 21.40 2.00 19.80C2.15 18.20 2.25 16.33 2.60 15.20C2.95 14.07 3.58 13.65 4.10 13.00C4.62 12.35 5.47 11.88 5.70 11.30C5.93 10.72 5.43 10.12 5.50 9.50C5.57 8.88 5.85 8.32 6.10 7.60C6.35 6.88 6.65 5.97 7.00 5.20C7.35 4.43 7.72 3.57 8.20 3.00C8.68 2.43 9.33 1.80 9.90 1.80Z" fill="#8a8a8a"/><g clip-path="url(#dm3)"><path d="M9.90 1.80C10.47 1.80 11.12 2.43 11.60 3.00C12.08 3.57 12.45 4.43 12.80 5.20C13.15 5.97 13.45 6.88 13.70 7.60C13.95 8.32 14.23 8.88 14.30 9.50C14.37 10.12 13.87 10.72 14.10 11.30C14.33 11.88 15.18 12.35 15.70 13.00C16.22 13.65 16.85 14.07 17.20 15.20C17.55 16.33 17.65 18.20 17.80 19.80C17.95 21.40 18.07 23.13 18.10 24.80C18.13 26.47 18.10 28.20 18.00 29.80C17.90 31.40 17.95 33.13 17.50 34.40C17.05 35.67 16.57 36.73 15.30 37.40C14.03 38.07 11.70 38.40 9.90 38.40C8.10 38.40 5.77 38.07 4.50 37.40C3.23 36.73 2.75 35.67 2.30 34.40C1.85 33.13 1.90 31.40 1.80 29.80C1.70 28.20 1.67 26.47 1.70 24.80C1.73 23.13 1.85 21.40 2.00 19.80C2.15 18.20 2.25 16.33 2.60 15.20C2.95 14.07 3.58 13.65 4.10 13.00C4.62 12.35 5.47 11.88 5.70 11.30C5.93 10.72 5.43 10.12 5.50 9.50C5.57 8.88 5.85 8.32 6.10 7.60C6.35 6.88 6.65 5.97 7.00 5.20C7.35 4.43 7.72 3.57 8.20 3.00C8.68 2.43 9.33 1.80 9.90 1.80Z" fill="url(#bodyD)" filter="url(#blI2)"/><rect x="0" y="0" width="20" height="40" filter="url(#fur)" opacity=".3"/></g><ellipse cx="6.0" cy="9.4" rx="1.3" ry="1.4" fill="#8c8c8c"/><ellipse cx="13.8" cy="9.4" rx="1.3" ry="1.4" fill="#8c8c8c"/><ellipse cx="9.9" cy="17.8" rx="4.5" ry="3" fill="#f6f6f6" opacity=".8"/></g><g filter="url(#blT)"><path d="M17.85 27.40C17.72 29.11 17.91 30.95 17.20 32.24C16.49 33.54 14.94 34.49 13.61 35.18C12.28 35.88 10.67 36.55 9.23 36.40C7.80 36.26 5.93 35.44 5.00 34.31C4.06 33.18 3.81 31.13 3.60 29.61C3.38 28.10 3.52 26.80 3.70 25.22C3.89 23.64 3.77 21.13 4.71 20.12C5.65 19.11 7.87 19.22 9.33 19.18C10.80 19.15 12.05 19.43 13.49 19.90C14.93 20.37 17.26 20.75 17.99 22.00C18.72 23.24 17.98 25.69 17.85 27.40Z" fill="#6a34dc" opacity="1"/><path d="M17.10 27.40C16.98 28.95 17.16 30.63 16.52 31.81C15.88 32.99 14.48 33.85 13.29 34.48C12.09 35.11 10.64 35.72 9.35 35.59C8.06 35.46 6.38 34.72 5.54 33.69C4.69 32.66 4.47 30.79 4.28 29.41C4.08 28.03 4.21 26.86 4.37 25.42C4.54 23.98 4.43 21.69 5.28 20.78C6.12 19.86 8.12 19.96 9.44 19.92C10.76 19.89 11.88 20.15 13.18 20.58C14.48 21.00 16.58 21.35 17.23 22.48C17.88 23.62 17.22 25.85 17.10 27.40Z" fill="#2626f4" opacity="1"/><path d="M13.48 26.00C13.66 26.96 14.36 28.38 14.05 29.26C13.74 30.14 12.47 31.15 11.60 31.27C10.74 31.38 9.84 30.07 8.88 29.94C7.93 29.80 6.55 30.85 5.88 30.44C5.20 30.02 4.76 28.37 4.83 27.46C4.91 26.56 6.19 26.03 6.34 25.02C6.49 24.01 5.31 21.90 5.74 21.39C6.16 20.87 7.99 21.82 8.87 21.95C9.75 22.07 10.34 21.88 11.01 22.14C11.69 22.41 12.52 22.88 12.93 23.52C13.34 24.17 13.29 25.04 13.48 26.00Z" fill="#2c5cf4" opacity="1"/><path d="M10.55 25.00C10.46 25.51 9.81 25.92 9.53 26.28C9.25 26.65 9.13 26.85 8.86 27.17C8.59 27.48 8.16 28.28 7.90 28.18C7.63 28.08 7.63 26.93 7.30 26.56C6.97 26.20 6.14 26.44 5.91 26.01C5.68 25.58 5.69 24.42 5.93 24.00C6.16 23.57 6.98 23.85 7.31 23.46C7.64 23.07 7.59 21.85 7.88 21.65C8.17 21.45 8.67 22.00 9.03 22.27C9.39 22.53 9.79 22.77 10.04 23.22C10.29 23.68 10.63 24.49 10.55 25.00Z" fill="#2cc4f0" opacity="1"/><path d="M15.21 30.00C15.17 30.34 15.09 30.66 14.86 30.97C14.64 31.28 14.29 31.80 13.87 31.85C13.45 31.91 12.73 31.46 12.32 31.30C11.92 31.14 11.85 31.02 11.44 30.89C11.03 30.77 10.00 30.76 9.85 30.54C9.70 30.32 10.31 29.87 10.53 29.59C10.74 29.32 10.87 29.13 11.15 28.88C11.43 28.64 11.82 28.13 12.19 28.12C12.57 28.11 12.92 28.69 13.41 28.82C13.89 28.96 14.81 28.73 15.12 28.92C15.42 29.12 15.26 29.66 15.21 30.00Z" fill="#2cc4f0" opacity="1"/><path d="M11.04 30.50C11.04 30.67 10.92 30.81 10.81 31.01C10.70 31.20 10.64 31.58 10.38 31.66C10.12 31.73 9.59 31.53 9.27 31.46C8.95 31.38 8.75 31.31 8.48 31.21C8.20 31.10 7.76 31.00 7.62 30.83C7.49 30.66 7.54 30.36 7.68 30.18C7.81 30.00 8.16 29.88 8.42 29.75C8.68 29.62 8.89 29.48 9.23 29.39C9.58 29.30 10.24 29.08 10.50 29.18C10.76 29.29 10.72 29.78 10.81 29.99C10.90 30.21 11.04 30.33 11.04 30.50Z" fill="#2cc4f0" opacity="1"/></g></g></g>
<clipPath id="c10"><rect x="98.1" y="190.4" width="18.5" height="39.9"/></clipPath>
<rect x="98.1" y="190.4" width="18.5" height="39.9" fill="#0b0b0b"/>
<g clip-path="url(#c10)"><g transform="translate(98.1,190.4) scale(0.9487,0.9975)"><clipPath id="dm4"><path d="M9.90 1.80C10.47 1.80 11.12 2.43 11.60 3.00C12.08 3.57 12.45 4.43 12.80 5.20C13.15 5.97 13.45 6.88 13.70 7.60C13.95 8.32 14.23 8.88 14.30 9.50C14.37 10.12 13.87 10.72 14.10 11.30C14.33 11.88 15.18 12.35 15.70 13.00C16.22 13.65 16.85 14.07 17.20 15.20C17.55 16.33 17.65 18.20 17.80 19.80C17.95 21.40 18.07 23.13 18.10 24.80C18.13 26.47 18.10 28.20 18.00 29.80C17.90 31.40 17.95 33.13 17.50 34.40C17.05 35.67 16.57 36.73 15.30 37.40C14.03 38.07 11.70 38.40 9.90 38.40C8.10 38.40 5.77 38.07 4.50 37.40C3.23 36.73 2.75 35.67 2.30 34.40C1.85 33.13 1.90 31.40 1.80 29.80C1.70 28.20 1.67 26.47 1.70 24.80C1.73 23.13 1.85 21.40 2.00 19.80C2.15 18.20 2.25 16.33 2.60 15.20C2.95 14.07 3.58 13.65 4.10 13.00C4.62 12.35 5.47 11.88 5.70 11.30C5.93 10.72 5.43 10.12 5.50 9.50C5.57 8.88 5.85 8.32 6.10 7.60C6.35 6.88 6.65 5.97 7.00 5.20C7.35 4.43 7.72 3.57 8.20 3.00C8.68 2.43 9.33 1.80 9.90 1.80Z"/></clipPath><g filter="url(#blD)"><path d="M4.4 34.8L1.9000000000000004 38.599999999999994M15.4 34.8L17.9 38.599999999999994M4.9 13.8L1.5 11.8M14.9 13.8L18.3 11.8" stroke="#a8a8a8" stroke-width="1.5" fill="none" stroke-linecap="round"/><path d="M9.90 1.80C10.47 1.80 11.12 2.43 11.60 3.00C12.08 3.57 12.45 4.43 12.80 5.20C13.15 5.97 13.45 6.88 13.70 7.60C13.95 8.32 14.23 8.88 14.30 9.50C14.37 10.12 13.87 10.72 14.10 11.30C14.33 11.88 15.18 12.35 15.70 13.00C16.22 13.65 16.85 14.07 17.20 15.20C17.55 16.33 17.65 18.20 17.80 19.80C17.95 21.40 18.07 23.13 18.10 24.80C18.13 26.47 18.10 28.20 18.00 29.80C17.90 31.40 17.95 33.13 17.50 34.40C17.05 35.67 16.57 36.73 15.30 37.40C14.03 38.07 11.70 38.40 9.90 38.40C8.10 38.40 5.77 38.07 4.50 37.40C3.23 36.73 2.75 35.67 2.30 34.40C1.85 33.13 1.90 31.40 1.80 29.80C1.70 28.20 1.67 26.47 1.70 24.80C1.73 23.13 1.85 21.40 2.00 19.80C2.15 18.20 2.25 16.33 2.60 15.20C2.95 14.07 3.58 13.65 4.10 13.00C4.62 12.35 5.47 11.88 5.70 11.30C5.93 10.72 5.43 10.12 5.50 9.50C5.57 8.88 5.85 8.32 6.10 7.60C6.35 6.88 6.65 5.97 7.00 5.20C7.35 4.43 7.72 3.57 8.20 3.00C8.68 2.43 9.33 1.80 9.90 1.80Z" fill="#8a8a8a"/><g clip-path="url(#dm4)"><path d="M9.90 1.80C10.47 1.80 11.12 2.43 11.60 3.00C12.08 3.57 12.45 4.43 12.80 5.20C13.15 5.97 13.45 6.88 13.70 7.60C13.95 8.32 14.23 8.88 14.30 9.50C14.37 10.12 13.87 10.72 14.10 11.30C14.33 11.88 15.18 12.35 15.70 13.00C16.22 13.65 16.85 14.07 17.20 15.20C17.55 16.33 17.65 18.20 17.80 19.80C17.95 21.40 18.07 23.13 18.10 24.80C18.13 26.47 18.10 28.20 18.00 29.80C17.90 31.40 17.95 33.13 17.50 34.40C17.05 35.67 16.57 36.73 15.30 37.40C14.03 38.07 11.70 38.40 9.90 38.40C8.10 38.40 5.77 38.07 4.50 37.40C3.23 36.73 2.75 35.67 2.30 34.40C1.85 33.13 1.90 31.40 1.80 29.80C1.70 28.20 1.67 26.47 1.70 24.80C1.73 23.13 1.85 21.40 2.00 19.80C2.15 18.20 2.25 16.33 2.60 15.20C2.95 14.07 3.58 13.65 4.10 13.00C4.62 12.35 5.47 11.88 5.70 11.30C5.93 10.72 5.43 10.12 5.50 9.50C5.57 8.88 5.85 8.32 6.10 7.60C6.35 6.88 6.65 5.97 7.00 5.20C7.35 4.43 7.72 3.57 8.20 3.00C8.68 2.43 9.33 1.80 9.90 1.80Z" fill="url(#bodyD)" filter="url(#blI2)"/><rect x="0" y="0" width="20" height="40" filter="url(#fur)" opacity=".3"/></g><ellipse cx="6.0" cy="9.4" rx="1.3" ry="1.4" fill="#8c8c8c"/><ellipse cx="13.8" cy="9.4" rx="1.3" ry="1.4" fill="#8c8c8c"/><ellipse cx="9.9" cy="17.8" rx="4.5" ry="3" fill="#f6f6f6" opacity=".8"/></g><g filter="url(#blT)"><path d="M17.65 27.40C17.51 28.88 16.88 30.31 16.12 31.59C15.36 32.86 14.37 34.45 13.09 35.05C11.82 35.65 9.90 35.49 8.48 35.18C7.06 34.88 5.74 34.10 4.58 33.19C3.42 32.29 2.22 31.19 1.52 29.77C0.83 28.36 0.08 26.27 0.41 24.70C0.74 23.13 2.19 21.43 3.50 20.36C4.81 19.29 6.71 18.30 8.29 18.26C9.86 18.22 11.49 19.37 12.93 20.11C14.37 20.85 16.15 21.47 16.94 22.68C17.72 23.90 17.78 25.92 17.65 27.40Z" fill="#6a34dc" opacity="1"/><path d="M16.90 27.40C16.78 28.75 16.20 30.04 15.51 31.20C14.83 32.36 13.92 33.79 12.77 34.34C11.61 34.88 9.87 34.74 8.58 34.46C7.30 34.18 6.10 33.48 5.04 32.66C3.99 31.84 2.90 30.84 2.27 29.55C1.64 28.27 0.96 26.37 1.26 24.95C1.56 23.53 2.87 21.99 4.06 21.01C5.26 20.04 6.98 19.14 8.41 19.10C9.83 19.07 11.31 20.11 12.62 20.78C13.93 21.45 15.54 22.02 16.26 23.12C16.97 24.22 17.03 26.05 16.90 27.40Z" fill="#2626f4" opacity="1"/><path d="M15.13 27.20C15.17 27.97 14.30 28.74 13.84 29.60C13.37 30.45 13.12 32.01 12.33 32.32C11.55 32.63 10.13 31.69 9.14 31.45C8.15 31.20 7.03 31.35 6.38 30.85C5.72 30.35 5.43 29.27 5.20 28.45C4.97 27.62 4.96 26.86 5.02 25.90C5.09 24.95 4.89 23.13 5.59 22.71C6.29 22.29 8.15 23.35 9.21 23.39C10.26 23.43 11.17 22.69 11.90 22.95C12.63 23.22 13.04 24.25 13.57 24.96C14.11 25.67 15.08 26.43 15.13 27.20Z" fill="#2c5cf4" opacity="1"/><path d="M14.28 28.00C14.07 28.59 13.68 29.09 13.25 29.42C12.81 29.74 12.21 29.66 11.67 29.96C11.14 30.26 10.54 31.26 10.04 31.24C9.54 31.23 9.05 30.29 8.65 29.87C8.25 29.45 7.86 29.17 7.65 28.72C7.43 28.28 7.29 27.74 7.36 27.21C7.42 26.68 7.61 26.05 8.04 25.54C8.47 25.03 9.27 24.19 9.94 24.16C10.61 24.13 11.30 25.04 12.06 25.33C12.83 25.62 14.15 25.45 14.53 25.90C14.90 26.34 14.50 27.41 14.28 28.00Z" fill="#2cc4f0" opacity="1"/><path d="M12.49 29.40C12.39 29.65 12.47 29.81 12.36 30.02C12.24 30.24 12.10 30.51 11.82 30.68C11.54 30.85 10.98 31.11 10.67 31.05C10.35 30.98 10.13 30.51 9.92 30.29C9.72 30.07 9.56 29.93 9.45 29.72C9.35 29.52 9.32 29.32 9.31 29.05C9.30 28.77 9.17 28.23 9.41 28.09C9.65 27.96 10.33 28.27 10.76 28.23C11.20 28.19 11.64 27.79 12.00 27.84C12.36 27.89 12.86 28.25 12.94 28.51C13.02 28.77 12.58 29.15 12.49 29.40Z" fill="#4ce060" opacity="1"/><path d="M5.36 25.60C5.30 25.84 5.32 26.05 5.18 26.24C5.03 26.42 4.78 26.57 4.50 26.71C4.22 26.84 3.82 27.07 3.51 27.05C3.20 27.03 2.88 26.76 2.62 26.58C2.36 26.40 2.01 26.21 1.95 25.99C1.90 25.78 2.18 25.51 2.29 25.28C2.40 25.05 2.41 24.80 2.62 24.61C2.82 24.43 3.19 24.21 3.52 24.17C3.84 24.14 4.22 24.30 4.55 24.41C4.89 24.51 5.40 24.60 5.53 24.80C5.66 25.00 5.42 25.36 5.36 25.60Z" fill="#2cc4f0" opacity="1"/><path d="M9.64 24.40C9.65 24.58 9.55 24.80 9.40 24.96C9.25 25.13 9.00 25.34 8.73 25.40C8.46 25.46 8.09 25.35 7.79 25.32C7.48 25.28 7.15 25.29 6.90 25.19C6.65 25.09 6.38 24.90 6.27 24.72C6.17 24.53 6.13 24.25 6.26 24.08C6.39 23.92 6.81 23.84 7.06 23.72C7.31 23.60 7.49 23.41 7.76 23.36C8.03 23.32 8.43 23.37 8.69 23.46C8.95 23.54 9.19 23.70 9.35 23.86C9.51 24.02 9.63 24.22 9.64 24.40Z" fill="#2cc4f0" opacity="1"/></g></g></g>
<clipPath id="c11"><rect x="118.6" y="190.4" width="18.8" height="39.9"/></clipPath>
<rect x="118.6" y="190.4" width="18.8" height="39.9" fill="#0b0b0b"/>
<g clip-path="url(#c11)"><g transform="translate(118.6,190.4) scale(0.9641,0.9975)"><clipPath id="dm5"><path d="M9.90 1.80C10.47 1.80 11.12 2.43 11.60 3.00C12.08 3.57 12.45 4.43 12.80 5.20C13.15 5.97 13.45 6.88 13.70 7.60C13.95 8.32 14.23 8.88 14.30 9.50C14.37 10.12 13.87 10.72 14.10 11.30C14.33 11.88 15.18 12.35 15.70 13.00C16.22 13.65 16.85 14.07 17.20 15.20C17.55 16.33 17.65 18.20 17.80 19.80C17.95 21.40 18.07 23.13 18.10 24.80C18.13 26.47 18.10 28.20 18.00 29.80C17.90 31.40 17.95 33.13 17.50 34.40C17.05 35.67 16.57 36.73 15.30 37.40C14.03 38.07 11.70 38.40 9.90 38.40C8.10 38.40 5.77 38.07 4.50 37.40C3.23 36.73 2.75 35.67 2.30 34.40C1.85 33.13 1.90 31.40 1.80 29.80C1.70 28.20 1.67 26.47 1.70 24.80C1.73 23.13 1.85 21.40 2.00 19.80C2.15 18.20 2.25 16.33 2.60 15.20C2.95 14.07 3.58 13.65 4.10 13.00C4.62 12.35 5.47 11.88 5.70 11.30C5.93 10.72 5.43 10.12 5.50 9.50C5.57 8.88 5.85 8.32 6.10 7.60C6.35 6.88 6.65 5.97 7.00 5.20C7.35 4.43 7.72 3.57 8.20 3.00C8.68 2.43 9.33 1.80 9.90 1.80Z"/></clipPath><g filter="url(#blD)"><path d="M4.4 34.8L1.9000000000000004 38.599999999999994M15.4 34.8L17.9 38.599999999999994M4.9 13.8L1.5 11.8M14.9 13.8L18.3 11.8" stroke="#a8a8a8" stroke-width="1.5" fill="none" stroke-linecap="round"/><path d="M9.90 1.80C10.47 1.80 11.12 2.43 11.60 3.00C12.08 3.57 12.45 4.43 12.80 5.20C13.15 5.97 13.45 6.88 13.70 7.60C13.95 8.32 14.23 8.88 14.30 9.50C14.37 10.12 13.87 10.72 14.10 11.30C14.33 11.88 15.18 12.35 15.70 13.00C16.22 13.65 16.85 14.07 17.20 15.20C17.55 16.33 17.65 18.20 17.80 19.80C17.95 21.40 18.07 23.13 18.10 24.80C18.13 26.47 18.10 28.20 18.00 29.80C17.90 31.40 17.95 33.13 17.50 34.40C17.05 35.67 16.57 36.73 15.30 37.40C14.03 38.07 11.70 38.40 9.90 38.40C8.10 38.40 5.77 38.07 4.50 37.40C3.23 36.73 2.75 35.67 2.30 34.40C1.85 33.13 1.90 31.40 1.80 29.80C1.70 28.20 1.67 26.47 1.70 24.80C1.73 23.13 1.85 21.40 2.00 19.80C2.15 18.20 2.25 16.33 2.60 15.20C2.95 14.07 3.58 13.65 4.10 13.00C4.62 12.35 5.47 11.88 5.70 11.30C5.93 10.72 5.43 10.12 5.50 9.50C5.57 8.88 5.85 8.32 6.10 7.60C6.35 6.88 6.65 5.97 7.00 5.20C7.35 4.43 7.72 3.57 8.20 3.00C8.68 2.43 9.33 1.80 9.90 1.80Z" fill="#8a8a8a"/><g clip-path="url(#dm5)"><path d="M9.90 1.80C10.47 1.80 11.12 2.43 11.60 3.00C12.08 3.57 12.45 4.43 12.80 5.20C13.15 5.97 13.45 6.88 13.70 7.60C13.95 8.32 14.23 8.88 14.30 9.50C14.37 10.12 13.87 10.72 14.10 11.30C14.33 11.88 15.18 12.35 15.70 13.00C16.22 13.65 16.85 14.07 17.20 15.20C17.55 16.33 17.65 18.20 17.80 19.80C17.95 21.40 18.07 23.13 18.10 24.80C18.13 26.47 18.10 28.20 18.00 29.80C17.90 31.40 17.95 33.13 17.50 34.40C17.05 35.67 16.57 36.73 15.30 37.40C14.03 38.07 11.70 38.40 9.90 38.40C8.10 38.40 5.77 38.07 4.50 37.40C3.23 36.73 2.75 35.67 2.30 34.40C1.85 33.13 1.90 31.40 1.80 29.80C1.70 28.20 1.67 26.47 1.70 24.80C1.73 23.13 1.85 21.40 2.00 19.80C2.15 18.20 2.25 16.33 2.60 15.20C2.95 14.07 3.58 13.65 4.10 13.00C4.62 12.35 5.47 11.88 5.70 11.30C5.93 10.72 5.43 10.12 5.50 9.50C5.57 8.88 5.85 8.32 6.10 7.60C6.35 6.88 6.65 5.97 7.00 5.20C7.35 4.43 7.72 3.57 8.20 3.00C8.68 2.43 9.33 1.80 9.90 1.80Z" fill="url(#bodyD)" filter="url(#blI2)"/><rect x="0" y="0" width="20" height="40" filter="url(#fur)" opacity=".3"/></g><ellipse cx="6.0" cy="9.4" rx="1.3" ry="1.4" fill="#8c8c8c"/><ellipse cx="13.8" cy="9.4" rx="1.3" ry="1.4" fill="#8c8c8c"/><ellipse cx="9.9" cy="17.8" rx="4.5" ry="3" fill="#f6f6f6" opacity=".8"/></g><g filter="url(#blT)"><path d="M18.49 27.40C18.44 29.30 18.15 31.40 17.33 32.99C16.51 34.57 15.05 36.06 13.57 36.92C12.09 37.78 10.07 38.41 8.46 38.13C6.86 37.84 5.21 36.49 3.94 35.20C2.67 33.92 1.04 32.14 0.83 30.44C0.62 28.74 2.12 26.72 2.71 25.00C3.29 23.28 3.37 21.51 4.33 20.12C5.29 18.73 6.95 16.99 8.46 16.67C9.98 16.35 11.91 17.39 13.44 18.22C14.96 19.04 16.78 20.07 17.63 21.60C18.47 23.13 18.54 25.50 18.49 27.40Z" fill="#6a34dc" opacity="1"/><path d="M17.67 27.40C17.62 29.14 17.36 31.07 16.62 32.53C15.87 33.98 14.55 35.35 13.21 36.14C11.87 36.92 10.04 37.51 8.59 37.24C7.14 36.98 5.65 35.74 4.50 34.56C3.34 33.39 1.87 31.75 1.68 30.19C1.50 28.63 2.85 26.77 3.38 25.19C3.91 23.62 3.98 21.99 4.85 20.72C5.72 19.45 7.22 17.84 8.59 17.55C9.96 17.26 11.71 18.22 13.09 18.97C14.47 19.73 16.12 20.67 16.88 22.07C17.65 23.48 17.71 25.66 17.67 27.40Z" fill="#2626f4" opacity="1"/><path d="M14.86 28.00C14.88 29.07 14.58 30.24 14.10 31.24C13.61 32.24 12.88 33.43 11.95 34.00C11.02 34.57 9.61 34.81 8.51 34.66C7.40 34.50 5.99 33.91 5.32 33.05C4.65 32.20 4.84 30.71 4.50 29.55C4.16 28.38 3.04 27.04 3.29 26.07C3.53 25.11 5.07 24.31 5.97 23.75C6.87 23.19 7.81 22.73 8.69 22.70C9.58 22.68 10.40 23.22 11.28 23.58C12.16 23.94 13.37 24.11 13.96 24.85C14.56 25.59 14.84 26.93 14.86 28.00Z" fill="#2cc4f0" opacity="1"/><path d="M12.89 28.60C13.02 29.36 12.95 30.44 12.60 31.16C12.24 31.87 11.48 32.50 10.77 32.89C10.07 33.29 9.03 33.76 8.36 33.52C7.69 33.27 7.42 32.01 6.78 31.43C6.14 30.86 4.76 30.73 4.51 30.06C4.25 29.38 4.95 28.21 5.23 27.38C5.52 26.54 5.68 25.61 6.20 25.03C6.73 24.46 7.60 24.09 8.39 23.91C9.18 23.73 10.34 23.51 10.92 23.96C11.49 24.41 11.51 25.81 11.84 26.59C12.16 27.36 12.77 27.84 12.89 28.60Z" fill="#4ce060" opacity="1"/><path d="M11.47 29.40C11.57 30.00 12.00 30.85 11.82 31.41C11.64 31.97 10.93 32.49 10.38 32.76C9.83 33.02 9.10 33.12 8.54 32.99C7.97 32.86 7.41 32.43 6.98 32.00C6.54 31.56 5.91 30.94 5.92 30.40C5.94 29.87 6.86 29.34 7.06 28.77C7.26 28.20 6.85 27.32 7.12 26.99C7.39 26.66 8.14 26.91 8.66 26.81C9.19 26.70 9.83 26.19 10.25 26.36C10.67 26.53 10.99 27.33 11.19 27.83C11.40 28.34 11.36 28.80 11.47 29.40Z" fill="#f0e030" opacity="1"/><path d="M11.13 30.80C11.07 31.06 10.66 31.24 10.47 31.48C10.28 31.72 10.24 32.06 9.98 32.23C9.72 32.40 9.26 32.51 8.91 32.49C8.56 32.46 8.10 32.30 7.86 32.09C7.62 31.87 7.54 31.51 7.46 31.23C7.38 30.94 7.28 30.61 7.38 30.36C7.49 30.11 7.82 29.90 8.08 29.73C8.34 29.55 8.65 29.31 8.94 29.30C9.23 29.29 9.52 29.54 9.83 29.65C10.14 29.75 10.61 29.74 10.83 29.93C11.04 30.12 11.19 30.54 11.13 30.80Z" fill="#e81414" opacity="1"/><ellipse cx="9.8" cy="24.6" rx="1.2" ry="1.2" fill="#e86020" opacity="1"/></g></g></g>
<clipPath id="c12"><rect x="140.2" y="190.4" width="19" height="39.9"/></clipPath>
<rect x="140.2" y="190.4" width="19" height="39.9" fill="#0b0b0b"/>
<g clip-path="url(#c12)"><g transform="translate(140.2,190.4) scale(0.9744,0.9975)"><clipPath id="dm6"><path d="M9.90 1.80C10.47 1.80 11.12 2.43 11.60 3.00C12.08 3.57 12.45 4.43 12.80 5.20C13.15 5.97 13.45 6.88 13.70 7.60C13.95 8.32 14.23 8.88 14.30 9.50C14.37 10.12 13.87 10.72 14.10 11.30C14.33 11.88 15.18 12.35 15.70 13.00C16.22 13.65 16.85 14.07 17.20 15.20C17.55 16.33 17.65 18.20 17.80 19.80C17.95 21.40 18.07 23.13 18.10 24.80C18.13 26.47 18.10 28.20 18.00 29.80C17.90 31.40 17.95 33.13 17.50 34.40C17.05 35.67 16.57 36.73 15.30 37.40C14.03 38.07 11.70 38.40 9.90 38.40C8.10 38.40 5.77 38.07 4.50 37.40C3.23 36.73 2.75 35.67 2.30 34.40C1.85 33.13 1.90 31.40 1.80 29.80C1.70 28.20 1.67 26.47 1.70 24.80C1.73 23.13 1.85 21.40 2.00 19.80C2.15 18.20 2.25 16.33 2.60 15.20C2.95 14.07 3.58 13.65 4.10 13.00C4.62 12.35 5.47 11.88 5.70 11.30C5.93 10.72 5.43 10.12 5.50 9.50C5.57 8.88 5.85 8.32 6.10 7.60C6.35 6.88 6.65 5.97 7.00 5.20C7.35 4.43 7.72 3.57 8.20 3.00C8.68 2.43 9.33 1.80 9.90 1.80Z"/></clipPath><g filter="url(#blD)"><path d="M4.4 34.8L1.9000000000000004 38.599999999999994M15.4 34.8L17.9 38.599999999999994M4.9 13.8L1.5 11.8M14.9 13.8L18.3 11.8" stroke="#a8a8a8" stroke-width="1.5" fill="none" stroke-linecap="round"/><path d="M9.90 1.80C10.47 1.80 11.12 2.43 11.60 3.00C12.08 3.57 12.45 4.43 12.80 5.20C13.15 5.97 13.45 6.88 13.70 7.60C13.95 8.32 14.23 8.88 14.30 9.50C14.37 10.12 13.87 10.72 14.10 11.30C14.33 11.88 15.18 12.35 15.70 13.00C16.22 13.65 16.85 14.07 17.20 15.20C17.55 16.33 17.65 18.20 17.80 19.80C17.95 21.40 18.07 23.13 18.10 24.80C18.13 26.47 18.10 28.20 18.00 29.80C17.90 31.40 17.95 33.13 17.50 34.40C17.05 35.67 16.57 36.73 15.30 37.40C14.03 38.07 11.70 38.40 9.90 38.40C8.10 38.40 5.77 38.07 4.50 37.40C3.23 36.73 2.75 35.67 2.30 34.40C1.85 33.13 1.90 31.40 1.80 29.80C1.70 28.20 1.67 26.47 1.70 24.80C1.73 23.13 1.85 21.40 2.00 19.80C2.15 18.20 2.25 16.33 2.60 15.20C2.95 14.07 3.58 13.65 4.10 13.00C4.62 12.35 5.47 11.88 5.70 11.30C5.93 10.72 5.43 10.12 5.50 9.50C5.57 8.88 5.85 8.32 6.10 7.60C6.35 6.88 6.65 5.97 7.00 5.20C7.35 4.43 7.72 3.57 8.20 3.00C8.68 2.43 9.33 1.80 9.90 1.80Z" fill="#8a8a8a"/><g clip-path="url(#dm6)"><path d="M9.90 1.80C10.47 1.80 11.12 2.43 11.60 3.00C12.08 3.57 12.45 4.43 12.80 5.20C13.15 5.97 13.45 6.88 13.70 7.60C13.95 8.32 14.23 8.88 14.30 9.50C14.37 10.12 13.87 10.72 14.10 11.30C14.33 11.88 15.18 12.35 15.70 13.00C16.22 13.65 16.85 14.07 17.20 15.20C17.55 16.33 17.65 18.20 17.80 19.80C17.95 21.40 18.07 23.13 18.10 24.80C18.13 26.47 18.10 28.20 18.00 29.80C17.90 31.40 17.95 33.13 17.50 34.40C17.05 35.67 16.57 36.73 15.30 37.40C14.03 38.07 11.70 38.40 9.90 38.40C8.10 38.40 5.77 38.07 4.50 37.40C3.23 36.73 2.75 35.67 2.30 34.40C1.85 33.13 1.90 31.40 1.80 29.80C1.70 28.20 1.67 26.47 1.70 24.80C1.73 23.13 1.85 21.40 2.00 19.80C2.15 18.20 2.25 16.33 2.60 15.20C2.95 14.07 3.58 13.65 4.10 13.00C4.62 12.35 5.47 11.88 5.70 11.30C5.93 10.72 5.43 10.12 5.50 9.50C5.57 8.88 5.85 8.32 6.10 7.60C6.35 6.88 6.65 5.97 7.00 5.20C7.35 4.43 7.72 3.57 8.20 3.00C8.68 2.43 9.33 1.80 9.90 1.80Z" fill="url(#bodyD)" filter="url(#blI2)"/><rect x="0" y="0" width="20" height="40" filter="url(#fur)" opacity=".3"/></g><ellipse cx="6.0" cy="9.4" rx="1.3" ry="1.4" fill="#8c8c8c"/><ellipse cx="13.8" cy="9.4" rx="1.3" ry="1.4" fill="#8c8c8c"/><ellipse cx="9.9" cy="17.8" rx="4.5" ry="3" fill="#f6f6f6" opacity=".8"/></g><g filter="url(#blT)"><path d="M19.03 29.00C19.20 30.50 18.59 32.57 17.68 33.81C16.78 35.05 15.03 35.97 13.60 36.44C12.17 36.91 10.45 36.96 9.10 36.62C7.76 36.28 6.71 35.27 5.52 34.40C4.34 33.53 2.51 32.69 1.99 31.41C1.47 30.13 1.97 28.21 2.39 26.71C2.80 25.20 3.35 23.30 4.46 22.38C5.58 21.45 7.51 21.37 9.07 21.14C10.63 20.92 12.58 20.40 13.85 21.01C15.12 21.62 15.83 23.49 16.70 24.82C17.56 26.16 18.87 27.50 19.03 29.00Z" fill="#6a34dc" opacity="1"/><path d="M18.17 29.00C18.32 30.35 17.77 32.22 16.95 33.34C16.14 34.46 14.56 35.29 13.27 35.71C11.97 36.14 10.43 36.18 9.21 35.88C8.00 35.57 7.05 34.66 5.98 33.87C4.91 33.09 3.26 32.33 2.79 31.18C2.32 30.02 2.78 28.29 3.15 26.93C3.52 25.57 4.02 23.86 5.02 23.02C6.03 22.19 7.77 22.12 9.18 21.91C10.59 21.70 12.35 21.23 13.49 21.79C14.64 22.34 15.28 24.03 16.06 25.23C16.84 26.43 18.02 27.65 18.17 29.00Z" fill="#2626f4" opacity="1"/><path d="M16.77 29.80C16.79 30.78 16.16 31.90 15.54 32.78C14.93 33.67 14.08 34.78 13.09 35.12C12.10 35.47 10.75 35.02 9.59 34.86C8.44 34.71 7.01 34.79 6.18 34.20C5.35 33.61 4.91 32.34 4.60 31.34C4.29 30.34 3.99 29.10 4.32 28.19C4.66 27.27 5.74 26.47 6.61 25.85C7.48 25.22 8.50 24.58 9.55 24.43C10.59 24.28 11.87 24.54 12.86 24.94C13.84 25.35 14.78 26.07 15.44 26.88C16.09 27.69 16.76 28.82 16.77 29.80Z" fill="#2cc4f0" opacity="1"/><path d="M15.69 30.00C15.70 30.84 15.54 31.85 15.04 32.54C14.54 33.22 13.57 33.75 12.71 34.10C11.84 34.45 10.80 34.72 9.85 34.65C8.90 34.58 7.78 34.22 7.02 33.67C6.26 33.13 5.49 32.22 5.27 31.39C5.04 30.57 5.36 29.53 5.67 28.71C5.99 27.89 6.46 27.00 7.17 26.48C7.87 25.95 8.91 25.74 9.88 25.55C10.85 25.37 12.14 25.03 12.98 25.36C13.83 25.69 14.51 26.74 14.96 27.51C15.41 28.29 15.67 29.16 15.69 30.00Z" fill="#f0e030" opacity="1"/><path d="M15.45 30.20C15.59 30.93 15.60 32.07 15.11 32.62C14.63 33.17 13.36 33.27 12.53 33.51C11.71 33.75 11.02 34.02 10.17 34.05C9.31 34.07 8.06 34.08 7.38 33.64C6.71 33.20 6.23 32.15 6.11 31.40C6.00 30.65 6.41 29.85 6.69 29.15C6.98 28.45 7.27 27.78 7.83 27.21C8.40 26.65 9.26 25.89 10.07 25.77C10.89 25.66 12.02 26.11 12.72 26.52C13.43 26.93 13.85 27.62 14.31 28.23C14.76 28.85 15.32 29.47 15.45 30.20Z" fill="#e81414" opacity="1"/></g></g></g>
<clipPath id="c13"><rect x="35.3" y="236.4" width="18.8" height="39.6"/></clipPath>
<rect x="35.3" y="236.4" width="18.8" height="39.6" fill="#0b0b0b"/>
<g clip-path="url(#c13)"><g transform="translate(35.3,236.4) scale(0.9641,0.9900)"><clipPath id="dm7"><path d="M9.90 1.80C10.47 1.80 11.12 2.43 11.60 3.00C12.08 3.57 12.45 4.43 12.80 5.20C13.15 5.97 13.45 6.88 13.70 7.60C13.95 8.32 14.23 8.88 14.30 9.50C14.37 10.12 13.80 10.72 14.10 11.30C14.40 11.88 15.45 12.35 16.10 13.00C16.75 13.65 17.58 14.07 18.00 15.20C18.42 16.33 18.45 18.20 18.60 19.80C18.75 21.40 18.87 23.13 18.90 24.80C18.93 26.47 18.90 28.20 18.80 29.80C18.70 31.40 18.75 33.13 18.30 34.40C17.85 35.67 17.50 36.73 16.10 37.40C14.70 38.07 11.97 38.40 9.90 38.40C7.83 38.40 5.10 38.07 3.70 37.40C2.30 36.73 1.95 35.67 1.50 34.40C1.05 33.13 1.10 31.40 1.00 29.80C0.90 28.20 0.87 26.47 0.90 24.80C0.93 23.13 1.05 21.40 1.20 19.80C1.35 18.20 1.38 16.33 1.80 15.20C2.22 14.07 3.05 13.65 3.70 13.00C4.35 12.35 5.40 11.88 5.70 11.30C6.00 10.72 5.43 10.12 5.50 9.50C5.57 8.88 5.85 8.32 6.10 7.60C6.35 6.88 6.65 5.97 7.00 5.20C7.35 4.43 7.72 3.57 8.20 3.00C8.68 2.43 9.33 1.80 9.90 1.80Z"/></clipPath><g filter="url(#blD)"><path d="M3.6000000000000005 34.8L1.1000000000000003 38.599999999999994M16.2 34.8L18.7 38.599999999999994M4.42 13.8L1.02 11.8M15.38 13.8L18.78 11.8" stroke="#a8a8a8" stroke-width="1.5" fill="none" stroke-linecap="round"/><path d="M9.90 1.80C10.47 1.80 11.12 2.43 11.60 3.00C12.08 3.57 12.45 4.43 12.80 5.20C13.15 5.97 13.45 6.88 13.70 7.60C13.95 8.32 14.23 8.88 14.30 9.50C14.37 10.12 13.80 10.72 14.10 11.30C14.40 11.88 15.45 12.35 16.10 13.00C16.75 13.65 17.58 14.07 18.00 15.20C18.42 16.33 18.45 18.20 18.60 19.80C18.75 21.40 18.87 23.13 18.90 24.80C18.93 26.47 18.90 28.20 18.80 29.80C18.70 31.40 18.75 33.13 18.30 34.40C17.85 35.67 17.50 36.73 16.10 37.40C14.70 38.07 11.97 38.40 9.90 38.40C7.83 38.40 5.10 38.07 3.70 37.40C2.30 36.73 1.95 35.67 1.50 34.40C1.05 33.13 1.10 31.40 1.00 29.80C0.90 28.20 0.87 26.47 0.90 24.80C0.93 23.13 1.05 21.40 1.20 19.80C1.35 18.20 1.38 16.33 1.80 15.20C2.22 14.07 3.05 13.65 3.70 13.00C4.35 12.35 5.40 11.88 5.70 11.30C6.00 10.72 5.43 10.12 5.50 9.50C5.57 8.88 5.85 8.32 6.10 7.60C6.35 6.88 6.65 5.97 7.00 5.20C7.35 4.43 7.72 3.57 8.20 3.00C8.68 2.43 9.33 1.80 9.90 1.80Z" fill="#8a8a8a"/><g clip-path="url(#dm7)"><path d="M9.90 1.80C10.47 1.80 11.12 2.43 11.60 3.00C12.08 3.57 12.45 4.43 12.80 5.20C13.15 5.97 13.45 6.88 13.70 7.60C13.95 8.32 14.23 8.88 14.30 9.50C14.37 10.12 13.80 10.72 14.10 11.30C14.40 11.88 15.45 12.35 16.10 13.00C16.75 13.65 17.58 14.07 18.00 15.20C18.42 16.33 18.45 18.20 18.60 19.80C18.75 21.40 18.87 23.13 18.90 24.80C18.93 26.47 18.90 28.20 18.80 29.80C18.70 31.40 18.75 33.13 18.30 34.40C17.85 35.67 17.50 36.73 16.10 37.40C14.70 38.07 11.97 38.40 9.90 38.40C7.83 38.40 5.10 38.07 3.70 37.40C2.30 36.73 1.95 35.67 1.50 34.40C1.05 33.13 1.10 31.40 1.00 29.80C0.90 28.20 0.87 26.47 0.90 24.80C0.93 23.13 1.05 21.40 1.20 19.80C1.35 18.20 1.38 16.33 1.80 15.20C2.22 14.07 3.05 13.65 3.70 13.00C4.35 12.35 5.40 11.88 5.70 11.30C6.00 10.72 5.43 10.12 5.50 9.50C5.57 8.88 5.85 8.32 6.10 7.60C6.35 6.88 6.65 5.97 7.00 5.20C7.35 4.43 7.72 3.57 8.20 3.00C8.68 2.43 9.33 1.80 9.90 1.80Z" fill="url(#bodyD)" filter="url(#blI2)"/><rect x="0" y="0" width="20" height="40" filter="url(#fur)" opacity=".3"/></g><ellipse cx="6.0" cy="9.4" rx="1.3" ry="1.4" fill="#8c8c8c"/><ellipse cx="13.8" cy="9.4" rx="1.3" ry="1.4" fill="#8c8c8c"/><ellipse cx="9.9" cy="17.8" rx="4.5" ry="3" fill="#f6f6f6" opacity=".8"/></g><g filter="url(#blT)"><path d="M18.35 28.80C18.38 30.34 17.44 31.97 16.66 33.47C15.88 34.97 15.00 37.17 13.67 37.78C12.34 38.40 10.30 37.45 8.67 37.16C7.03 36.87 5.07 37.01 3.88 36.05C2.68 35.09 1.78 32.99 1.50 31.38C1.22 29.78 1.78 28.06 2.19 26.43C2.59 24.80 2.84 22.59 3.92 21.60C5.00 20.62 7.09 20.74 8.68 20.52C10.27 20.31 12.16 19.69 13.46 20.30C14.76 20.92 15.68 22.82 16.50 24.24C17.31 25.65 18.33 27.26 18.35 28.80Z" fill="#6a34dc" opacity="1"/><path d="M17.59 28.80C17.61 30.21 16.76 31.71 16.04 33.08C15.33 34.45 14.54 36.46 13.32 37.03C12.11 37.59 10.25 36.72 8.77 36.46C7.28 36.19 5.49 36.32 4.40 35.44C3.32 34.56 2.50 32.63 2.24 31.17C1.98 29.70 2.50 28.12 2.87 26.63C3.23 25.14 3.46 23.11 4.44 22.21C5.43 21.31 7.33 21.42 8.78 21.22C10.23 21.02 11.95 20.45 13.13 21.02C14.32 21.59 15.16 23.32 15.90 24.62C16.64 25.92 17.57 27.39 17.59 28.80Z" fill="#2626f4" opacity="1"/><path d="M12.81 28.40C12.69 28.67 12.49 28.90 12.23 29.08C11.98 29.26 11.65 29.30 11.26 29.49C10.88 29.69 10.38 30.24 9.94 30.25C9.50 30.27 9.00 29.82 8.62 29.59C8.23 29.36 7.75 29.14 7.62 28.87C7.49 28.60 7.63 28.22 7.83 27.96C8.03 27.71 8.46 27.55 8.82 27.35C9.18 27.14 9.53 26.77 9.98 26.71C10.43 26.65 11.03 26.85 11.53 26.97C12.03 27.10 12.74 27.21 12.96 27.45C13.17 27.69 12.93 28.13 12.81 28.40Z" fill="#2c5cf4" opacity="1"/></g></g></g>
<clipPath id="c14"><rect x="56.2" y="236.4" width="19" height="39.6"/></clipPath>
<rect x="56.2" y="236.4" width="19" height="39.6" fill="#0b0b0b"/>
<g clip-path="url(#c14)"><g transform="translate(56.2,236.4) scale(0.9744,0.9900)"><clipPath id="dm8"><path d="M9.90 1.80C10.47 1.80 11.12 2.43 11.60 3.00C12.08 3.57 12.45 4.43 12.80 5.20C13.15 5.97 13.45 6.88 13.70 7.60C13.95 8.32 14.23 8.88 14.30 9.50C14.37 10.12 13.80 10.72 14.10 11.30C14.40 11.88 15.45 12.35 16.10 13.00C16.75 13.65 17.58 14.07 18.00 15.20C18.42 16.33 18.45 18.20 18.60 19.80C18.75 21.40 18.87 23.13 18.90 24.80C18.93 26.47 18.90 28.20 18.80 29.80C18.70 31.40 18.75 33.13 18.30 34.40C17.85 35.67 17.50 36.73 16.10 37.40C14.70 38.07 11.97 38.40 9.90 38.40C7.83 38.40 5.10 38.07 3.70 37.40C2.30 36.73 1.95 35.67 1.50 34.40C1.05 33.13 1.10 31.40 1.00 29.80C0.90 28.20 0.87 26.47 0.90 24.80C0.93 23.13 1.05 21.40 1.20 19.80C1.35 18.20 1.38 16.33 1.80 15.20C2.22 14.07 3.05 13.65 3.70 13.00C4.35 12.35 5.40 11.88 5.70 11.30C6.00 10.72 5.43 10.12 5.50 9.50C5.57 8.88 5.85 8.32 6.10 7.60C6.35 6.88 6.65 5.97 7.00 5.20C7.35 4.43 7.72 3.57 8.20 3.00C8.68 2.43 9.33 1.80 9.90 1.80Z"/></clipPath><g filter="url(#blD)"><path d="M3.6000000000000005 34.8L1.1000000000000003 38.599999999999994M16.2 34.8L18.7 38.599999999999994M4.42 13.8L1.02 11.8M15.38 13.8L18.78 11.8" stroke="#a8a8a8" stroke-width="1.5" fill="none" stroke-linecap="round"/><path d="M9.90 1.80C10.47 1.80 11.12 2.43 11.60 3.00C12.08 3.57 12.45 4.43 12.80 5.20C13.15 5.97 13.45 6.88 13.70 7.60C13.95 8.32 14.23 8.88 14.30 9.50C14.37 10.12 13.80 10.72 14.10 11.30C14.40 11.88 15.45 12.35 16.10 13.00C16.75 13.65 17.58 14.07 18.00 15.20C18.42 16.33 18.45 18.20 18.60 19.80C18.75 21.40 18.87 23.13 18.90 24.80C18.93 26.47 18.90 28.20 18.80 29.80C18.70 31.40 18.75 33.13 18.30 34.40C17.85 35.67 17.50 36.73 16.10 37.40C14.70 38.07 11.97 38.40 9.90 38.40C7.83 38.40 5.10 38.07 3.70 37.40C2.30 36.73 1.95 35.67 1.50 34.40C1.05 33.13 1.10 31.40 1.00 29.80C0.90 28.20 0.87 26.47 0.90 24.80C0.93 23.13 1.05 21.40 1.20 19.80C1.35 18.20 1.38 16.33 1.80 15.20C2.22 14.07 3.05 13.65 3.70 13.00C4.35 12.35 5.40 11.88 5.70 11.30C6.00 10.72 5.43 10.12 5.50 9.50C5.57 8.88 5.85 8.32 6.10 7.60C6.35 6.88 6.65 5.97 7.00 5.20C7.35 4.43 7.72 3.57 8.20 3.00C8.68 2.43 9.33 1.80 9.90 1.80Z" fill="#8a8a8a"/><g clip-path="url(#dm8)"><path d="M9.90 1.80C10.47 1.80 11.12 2.43 11.60 3.00C12.08 3.57 12.45 4.43 12.80 5.20C13.15 5.97 13.45 6.88 13.70 7.60C13.95 8.32 14.23 8.88 14.30 9.50C14.37 10.12 13.80 10.72 14.10 11.30C14.40 11.88 15.45 12.35 16.10 13.00C16.75 13.65 17.58 14.07 18.00 15.20C18.42 16.33 18.45 18.20 18.60 19.80C18.75 21.40 18.87 23.13 18.90 24.80C18.93 26.47 18.90 28.20 18.80 29.80C18.70 31.40 18.75 33.13 18.30 34.40C17.85 35.67 17.50 36.73 16.10 37.40C14.70 38.07 11.97 38.40 9.90 38.40C7.83 38.40 5.10 38.07 3.70 37.40C2.30 36.73 1.95 35.67 1.50 34.40C1.05 33.13 1.10 31.40 1.00 29.80C0.90 28.20 0.87 26.47 0.90 24.80C0.93 23.13 1.05 21.40 1.20 19.80C1.35 18.20 1.38 16.33 1.80 15.20C2.22 14.07 3.05 13.65 3.70 13.00C4.35 12.35 5.40 11.88 5.70 11.30C6.00 10.72 5.43 10.12 5.50 9.50C5.57 8.88 5.85 8.32 6.10 7.60C6.35 6.88 6.65 5.97 7.00 5.20C7.35 4.43 7.72 3.57 8.20 3.00C8.68 2.43 9.33 1.80 9.90 1.80Z" fill="url(#bodyD)" filter="url(#blI2)"/><rect x="0" y="0" width="20" height="40" filter="url(#fur)" opacity=".3"/></g><ellipse cx="6.0" cy="9.4" rx="1.3" ry="1.4" fill="#8c8c8c"/><ellipse cx="13.8" cy="9.4" rx="1.3" ry="1.4" fill="#8c8c8c"/><ellipse cx="9.9" cy="17.8" rx="4.5" ry="3" fill="#f6f6f6" opacity=".8"/></g><g filter="url(#blT)"><path d="M18.03 28.00C18.19 29.31 18.96 31.24 18.15 32.19C17.33 33.13 14.73 33.17 13.12 33.68C11.51 34.18 9.89 35.38 8.47 35.21C7.06 35.04 5.73 33.56 4.63 32.66C3.52 31.76 2.60 30.96 1.86 29.82C1.12 28.68 -0.23 26.91 0.20 25.80C0.63 24.69 3.06 23.99 4.44 23.17C5.82 22.36 6.99 21.14 8.49 20.91C9.99 20.67 12.00 21.21 13.44 21.78C14.88 22.35 16.39 23.27 17.16 24.31C17.92 25.35 17.86 26.69 18.03 28.00Z" fill="#6a34dc" opacity="1"/><path d="M17.28 28.00C17.43 29.16 18.14 30.86 17.39 31.70C16.65 32.54 14.29 32.57 12.82 33.02C11.35 33.46 9.88 34.52 8.59 34.37C7.30 34.22 6.10 32.91 5.09 32.12C4.09 31.33 3.25 30.62 2.58 29.61C1.91 28.60 0.68 27.03 1.07 26.05C1.46 25.07 3.67 24.45 4.92 23.73C6.18 23.01 7.25 21.93 8.61 21.73C9.98 21.52 11.80 22.00 13.11 22.50C14.42 23.00 15.80 23.82 16.49 24.74C17.19 25.65 17.13 26.84 17.28 28.00Z" fill="#2626f4" opacity="1"/><path d="M14.33 26.60C14.27 26.85 12.89 27.06 12.41 27.30C11.92 27.53 11.92 27.88 11.44 28.02C10.96 28.15 10.26 28.06 9.53 28.09C8.79 28.11 7.64 28.31 7.01 28.15C6.38 28.00 6.05 27.52 5.76 27.16C5.46 26.80 4.88 26.24 5.26 25.97C5.64 25.71 7.33 25.76 8.03 25.58C8.73 25.40 8.93 24.93 9.46 24.90C9.98 24.88 10.64 25.28 11.19 25.42C11.75 25.57 12.27 25.60 12.80 25.79C13.32 25.99 14.40 26.35 14.33 26.60Z" fill="#2cc4f0" opacity="1"/></g></g></g>
<clipPath id="c15"><rect x="77" y="236.4" width="18.6" height="39.6"/></clipPath>
<rect x="77" y="236.4" width="18.6" height="39.6" fill="#0b0b0b"/>
<g clip-path="url(#c15)"><g transform="translate(77,236.4) scale(0.9538,0.9900)"><clipPath id="dm9"><path d="M9.90 1.80C10.47 1.80 11.12 2.43 11.60 3.00C12.08 3.57 12.45 4.43 12.80 5.20C13.15 5.97 13.45 6.88 13.70 7.60C13.95 8.32 14.23 8.88 14.30 9.50C14.37 10.12 13.76 10.72 14.10 11.30C14.44 11.88 15.62 12.35 16.35 13.00C17.08 13.65 18.04 14.07 18.50 15.20C18.96 16.33 18.95 18.20 19.10 19.80C19.25 21.40 19.37 23.13 19.40 24.80C19.43 26.47 19.40 28.20 19.30 29.80C19.20 31.40 19.25 33.13 18.80 34.40C18.35 35.67 18.08 36.73 16.60 37.40C15.12 38.07 12.13 38.40 9.90 38.40C7.67 38.40 4.68 38.07 3.20 37.40C1.72 36.73 1.45 35.67 1.00 34.40C0.55 33.13 0.60 31.40 0.50 29.80C0.40 28.20 0.37 26.47 0.40 24.80C0.43 23.13 0.55 21.40 0.70 19.80C0.85 18.20 0.84 16.33 1.30 15.20C1.76 14.07 2.72 13.65 3.45 13.00C4.18 12.35 5.36 11.88 5.70 11.30C6.04 10.72 5.43 10.12 5.50 9.50C5.57 8.88 5.85 8.32 6.10 7.60C6.35 6.88 6.65 5.97 7.00 5.20C7.35 4.43 7.72 3.57 8.20 3.00C8.68 2.43 9.33 1.80 9.90 1.80Z"/></clipPath><g filter="url(#blD)"><path d="M3.1000000000000005 34.8L0.6000000000000003 38.599999999999994M16.7 34.8L19.2 38.599999999999994M4.12 13.8L0.72 11.8M15.68 13.8L19.080000000000002 11.8" stroke="#a8a8a8" stroke-width="1.5" fill="none" stroke-linecap="round"/><path d="M9.90 1.80C10.47 1.80 11.12 2.43 11.60 3.00C12.08 3.57 12.45 4.43 12.80 5.20C13.15 5.97 13.45 6.88 13.70 7.60C13.95 8.32 14.23 8.88 14.30 9.50C14.37 10.12 13.76 10.72 14.10 11.30C14.44 11.88 15.62 12.35 16.35 13.00C17.08 13.65 18.04 14.07 18.50 15.20C18.96 16.33 18.95 18.20 19.10 19.80C19.25 21.40 19.37 23.13 19.40 24.80C19.43 26.47 19.40 28.20 19.30 29.80C19.20 31.40 19.25 33.13 18.80 34.40C18.35 35.67 18.08 36.73 16.60 37.40C15.12 38.07 12.13 38.40 9.90 38.40C7.67 38.40 4.68 38.07 3.20 37.40C1.72 36.73 1.45 35.67 1.00 34.40C0.55 33.13 0.60 31.40 0.50 29.80C0.40 28.20 0.37 26.47 0.40 24.80C0.43 23.13 0.55 21.40 0.70 19.80C0.85 18.20 0.84 16.33 1.30 15.20C1.76 14.07 2.72 13.65 3.45 13.00C4.18 12.35 5.36 11.88 5.70 11.30C6.04 10.72 5.43 10.12 5.50 9.50C5.57 8.88 5.85 8.32 6.10 7.60C6.35 6.88 6.65 5.97 7.00 5.20C7.35 4.43 7.72 3.57 8.20 3.00C8.68 2.43 9.33 1.80 9.90 1.80Z" fill="#8a8a8a"/><g clip-path="url(#dm9)"><path d="M9.90 1.80C10.47 1.80 11.12 2.43 11.60 3.00C12.08 3.57 12.45 4.43 12.80 5.20C13.15 5.97 13.45 6.88 13.70 7.60C13.95 8.32 14.23 8.88 14.30 9.50C14.37 10.12 13.76 10.72 14.10 11.30C14.44 11.88 15.62 12.35 16.35 13.00C17.08 13.65 18.04 14.07 18.50 15.20C18.96 16.33 18.95 18.20 19.10 19.80C19.25 21.40 19.37 23.13 19.40 24.80C19.43 26.47 19.40 28.20 19.30 29.80C19.20 31.40 19.25 33.13 18.80 34.40C18.35 35.67 18.08 36.73 16.60 37.40C15.12 38.07 12.13 38.40 9.90 38.40C7.67 38.40 4.68 38.07 3.20 37.40C1.72 36.73 1.45 35.67 1.00 34.40C0.55 33.13 0.60 31.40 0.50 29.80C0.40 28.20 0.37 26.47 0.40 24.80C0.43 23.13 0.55 21.40 0.70 19.80C0.85 18.20 0.84 16.33 1.30 15.20C1.76 14.07 2.72 13.65 3.45 13.00C4.18 12.35 5.36 11.88 5.70 11.30C6.04 10.72 5.43 10.12 5.50 9.50C5.57 8.88 5.85 8.32 6.10 7.60C6.35 6.88 6.65 5.97 7.00 5.20C7.35 4.43 7.72 3.57 8.20 3.00C8.68 2.43 9.33 1.80 9.90 1.80Z" fill="url(#bodyD2)" filter="url(#blI2)"/><rect x="0" y="0" width="20" height="40" filter="url(#fur)" opacity=".3"/></g><ellipse cx="6.0" cy="9.4" rx="1.3" ry="1.4" fill="#8c8c8c"/><ellipse cx="13.8" cy="9.4" rx="1.3" ry="1.4" fill="#8c8c8c"/><ellipse cx="9.9" cy="17.8" rx="4.5" ry="3" fill="#f6f6f6" opacity=".8"/></g><g filter="url(#blT)"><path d="M16.75 31.20C16.81 31.96 16.35 32.95 15.79 33.57C15.24 34.19 14.30 34.51 13.43 34.94C12.56 35.36 11.41 36.24 10.56 36.12C9.71 35.99 9.04 34.79 8.32 34.19C7.59 33.58 6.65 33.21 6.21 32.48C5.78 31.75 5.34 30.51 5.68 29.79C6.02 29.07 7.43 28.67 8.25 28.15C9.07 27.62 9.71 26.85 10.62 26.65C11.53 26.45 12.91 26.55 13.71 26.95C14.51 27.35 14.89 28.33 15.40 29.04C15.91 29.75 16.68 30.44 16.75 31.20Z" fill="#6a34dc" opacity="1"/><path d="M15.96 31.20C16.01 31.82 15.61 32.64 15.14 33.15C14.67 33.67 13.87 33.93 13.13 34.28C12.39 34.63 11.41 35.35 10.68 35.25C9.96 35.15 9.39 34.16 8.77 33.66C8.16 33.16 7.36 32.86 6.98 32.25C6.61 31.65 6.24 30.63 6.53 30.04C6.82 29.44 8.01 29.12 8.72 28.68C9.42 28.25 9.96 27.61 10.74 27.45C11.51 27.29 12.69 27.37 13.37 27.70C14.05 28.03 14.38 28.84 14.81 29.42C15.24 30.00 15.90 30.58 15.96 31.20Z" fill="#2626f4" opacity="1"/><path d="M13.02 31.40C13.10 31.77 13.82 32.37 13.63 32.61C13.45 32.85 12.42 32.71 11.91 32.83C11.41 32.95 11.10 33.30 10.61 33.34C10.12 33.37 9.44 33.28 8.98 33.07C8.52 32.86 7.94 32.43 7.84 32.06C7.74 31.69 8.17 31.21 8.39 30.85C8.61 30.49 8.78 30.03 9.17 29.89C9.56 29.75 10.23 30.03 10.72 29.99C11.21 29.95 11.71 29.59 12.12 29.65C12.53 29.72 13.02 30.11 13.18 30.40C13.33 30.69 12.95 31.03 13.02 31.40Z" fill="#2cc4f0" opacity="1"/><ellipse cx="14.8" cy="24.4" rx="1.2" ry="1.1" fill="#c030a0" opacity="1"/></g></g></g>
<clipPath id="c16"><rect x="97.4" y="236.4" width="18.2" height="39.6"/></clipPath>
<rect x="97.4" y="236.4" width="18.2" height="39.6" fill="#0b0b0b"/>
<g clip-path="url(#c16)"><g transform="translate(97.4,236.4) scale(0.9333,0.9900)"><clipPath id="dm10"><path d="M9.90 1.80C10.47 1.80 11.12 2.43 11.60 3.00C12.08 3.57 12.45 4.43 12.80 5.20C13.15 5.97 13.45 6.88 13.70 7.60C13.95 8.32 14.23 8.88 14.30 9.50C14.37 10.12 13.76 10.72 14.10 11.30C14.44 11.88 15.62 12.35 16.35 13.00C17.08 13.65 18.04 14.07 18.50 15.20C18.96 16.33 18.95 18.20 19.10 19.80C19.25 21.40 19.37 23.13 19.40 24.80C19.43 26.47 19.40 28.20 19.30 29.80C19.20 31.40 19.25 33.13 18.80 34.40C18.35 35.67 18.08 36.73 16.60 37.40C15.12 38.07 12.13 38.40 9.90 38.40C7.67 38.40 4.68 38.07 3.20 37.40C1.72 36.73 1.45 35.67 1.00 34.40C0.55 33.13 0.60 31.40 0.50 29.80C0.40 28.20 0.37 26.47 0.40 24.80C0.43 23.13 0.55 21.40 0.70 19.80C0.85 18.20 0.84 16.33 1.30 15.20C1.76 14.07 2.72 13.65 3.45 13.00C4.18 12.35 5.36 11.88 5.70 11.30C6.04 10.72 5.43 10.12 5.50 9.50C5.57 8.88 5.85 8.32 6.10 7.60C6.35 6.88 6.65 5.97 7.00 5.20C7.35 4.43 7.72 3.57 8.20 3.00C8.68 2.43 9.33 1.80 9.90 1.80Z"/></clipPath><g filter="url(#blD)"><path d="M3.1000000000000005 34.8L0.6000000000000003 38.599999999999994M16.7 34.8L19.2 38.599999999999994M4.12 13.8L0.72 11.8M15.68 13.8L19.080000000000002 11.8" stroke="#a8a8a8" stroke-width="1.5" fill="none" stroke-linecap="round"/><path d="M9.90 1.80C10.47 1.80 11.12 2.43 11.60 3.00C12.08 3.57 12.45 4.43 12.80 5.20C13.15 5.97 13.45 6.88 13.70 7.60C13.95 8.32 14.23 8.88 14.30 9.50C14.37 10.12 13.76 10.72 14.10 11.30C14.44 11.88 15.62 12.35 16.35 13.00C17.08 13.65 18.04 14.07 18.50 15.20C18.96 16.33 18.95 18.20 19.10 19.80C19.25 21.40 19.37 23.13 19.40 24.80C19.43 26.47 19.40 28.20 19.30 29.80C19.20 31.40 19.25 33.13 18.80 34.40C18.35 35.67 18.08 36.73 16.60 37.40C15.12 38.07 12.13 38.40 9.90 38.40C7.67 38.40 4.68 38.07 3.20 37.40C1.72 36.73 1.45 35.67 1.00 34.40C0.55 33.13 0.60 31.40 0.50 29.80C0.40 28.20 0.37 26.47 0.40 24.80C0.43 23.13 0.55 21.40 0.70 19.80C0.85 18.20 0.84 16.33 1.30 15.20C1.76 14.07 2.72 13.65 3.45 13.00C4.18 12.35 5.36 11.88 5.70 11.30C6.04 10.72 5.43 10.12 5.50 9.50C5.57 8.88 5.85 8.32 6.10 7.60C6.35 6.88 6.65 5.97 7.00 5.20C7.35 4.43 7.72 3.57 8.20 3.00C8.68 2.43 9.33 1.80 9.90 1.80Z" fill="#8a8a8a"/><g clip-path="url(#dm10)"><path d="M9.90 1.80C10.47 1.80 11.12 2.43 11.60 3.00C12.08 3.57 12.45 4.43 12.80 5.20C13.15 5.97 13.45 6.88 13.70 7.60C13.95 8.32 14.23 8.88 14.30 9.50C14.37 10.12 13.76 10.72 14.10 11.30C14.44 11.88 15.62 12.35 16.35 13.00C17.08 13.65 18.04 14.07 18.50 15.20C18.96 16.33 18.95 18.20 19.10 19.80C19.25 21.40 19.37 23.13 19.40 24.80C19.43 26.47 19.40 28.20 19.30 29.80C19.20 31.40 19.25 33.13 18.80 34.40C18.35 35.67 18.08 36.73 16.60 37.40C15.12 38.07 12.13 38.40 9.90 38.40C7.67 38.40 4.68 38.07 3.20 37.40C1.72 36.73 1.45 35.67 1.00 34.40C0.55 33.13 0.60 31.40 0.50 29.80C0.40 28.20 0.37 26.47 0.40 24.80C0.43 23.13 0.55 21.40 0.70 19.80C0.85 18.20 0.84 16.33 1.30 15.20C1.76 14.07 2.72 13.65 3.45 13.00C4.18 12.35 5.36 11.88 5.70 11.30C6.04 10.72 5.43 10.12 5.50 9.50C5.57 8.88 5.85 8.32 6.10 7.60C6.35 6.88 6.65 5.97 7.00 5.20C7.35 4.43 7.72 3.57 8.20 3.00C8.68 2.43 9.33 1.80 9.90 1.80Z" fill="url(#bodyD2)" filter="url(#blI2)"/><rect x="0" y="0" width="20" height="40" filter="url(#fur)" opacity=".3"/></g><ellipse cx="6.0" cy="9.4" rx="1.3" ry="1.4" fill="#8c8c8c"/><ellipse cx="13.8" cy="9.4" rx="1.3" ry="1.4" fill="#8c8c8c"/><ellipse cx="9.9" cy="17.8" rx="4.5" ry="3" fill="#f6f6f6" opacity=".8"/></g><g filter="url(#blT)"></g></g></g>
<clipPath id="c17"><rect x="118.5" y="236.4" width="18.8" height="39.6"/></clipPath>
<rect x="118.5" y="236.4" width="18.8" height="39.6" fill="#0b0b0b"/>
<g clip-path="url(#c17)"><g transform="translate(118.5,236.4) scale(0.9641,0.9900)"><clipPath id="dm11"><path d="M9.90 1.80C10.47 1.80 11.12 2.43 11.60 3.00C12.08 3.57 12.45 4.43 12.80 5.20C13.15 5.97 13.45 6.88 13.70 7.60C13.95 8.32 14.23 8.88 14.30 9.50C14.37 10.12 13.76 10.72 14.10 11.30C14.44 11.88 15.62 12.35 16.35 13.00C17.08 13.65 18.04 14.07 18.50 15.20C18.96 16.33 18.95 18.20 19.10 19.80C19.25 21.40 19.37 23.13 19.40 24.80C19.43 26.47 19.40 28.20 19.30 29.80C19.20 31.40 19.25 33.13 18.80 34.40C18.35 35.67 18.08 36.73 16.60 37.40C15.12 38.07 12.13 38.40 9.90 38.40C7.67 38.40 4.68 38.07 3.20 37.40C1.72 36.73 1.45 35.67 1.00 34.40C0.55 33.13 0.60 31.40 0.50 29.80C0.40 28.20 0.37 26.47 0.40 24.80C0.43 23.13 0.55 21.40 0.70 19.80C0.85 18.20 0.84 16.33 1.30 15.20C1.76 14.07 2.72 13.65 3.45 13.00C4.18 12.35 5.36 11.88 5.70 11.30C6.04 10.72 5.43 10.12 5.50 9.50C5.57 8.88 5.85 8.32 6.10 7.60C6.35 6.88 6.65 5.97 7.00 5.20C7.35 4.43 7.72 3.57 8.20 3.00C8.68 2.43 9.33 1.80 9.90 1.80Z"/></clipPath><g filter="url(#blD)"><path d="M3.1000000000000005 34.8L0.6000000000000003 38.599999999999994M16.7 34.8L19.2 38.599999999999994M4.12 13.8L0.72 11.8M15.68 13.8L19.080000000000002 11.8" stroke="#a8a8a8" stroke-width="1.5" fill="none" stroke-linecap="round"/><path d="M9.90 1.80C10.47 1.80 11.12 2.43 11.60 3.00C12.08 3.57 12.45 4.43 12.80 5.20C13.15 5.97 13.45 6.88 13.70 7.60C13.95 8.32 14.23 8.88 14.30 9.50C14.37 10.12 13.76 10.72 14.10 11.30C14.44 11.88 15.62 12.35 16.35 13.00C17.08 13.65 18.04 14.07 18.50 15.20C18.96 16.33 18.95 18.20 19.10 19.80C19.25 21.40 19.37 23.13 19.40 24.80C19.43 26.47 19.40 28.20 19.30 29.80C19.20 31.40 19.25 33.13 18.80 34.40C18.35 35.67 18.08 36.73 16.60 37.40C15.12 38.07 12.13 38.40 9.90 38.40C7.67 38.40 4.68 38.07 3.20 37.40C1.72 36.73 1.45 35.67 1.00 34.40C0.55 33.13 0.60 31.40 0.50 29.80C0.40 28.20 0.37 26.47 0.40 24.80C0.43 23.13 0.55 21.40 0.70 19.80C0.85 18.20 0.84 16.33 1.30 15.20C1.76 14.07 2.72 13.65 3.45 13.00C4.18 12.35 5.36 11.88 5.70 11.30C6.04 10.72 5.43 10.12 5.50 9.50C5.57 8.88 5.85 8.32 6.10 7.60C6.35 6.88 6.65 5.97 7.00 5.20C7.35 4.43 7.72 3.57 8.20 3.00C8.68 2.43 9.33 1.80 9.90 1.80Z" fill="#8a8a8a"/><g clip-path="url(#dm11)"><path d="M9.90 1.80C10.47 1.80 11.12 2.43 11.60 3.00C12.08 3.57 12.45 4.43 12.80 5.20C13.15 5.97 13.45 6.88 13.70 7.60C13.95 8.32 14.23 8.88 14.30 9.50C14.37 10.12 13.76 10.72 14.10 11.30C14.44 11.88 15.62 12.35 16.35 13.00C17.08 13.65 18.04 14.07 18.50 15.20C18.96 16.33 18.95 18.20 19.10 19.80C19.25 21.40 19.37 23.13 19.40 24.80C19.43 26.47 19.40 28.20 19.30 29.80C19.20 31.40 19.25 33.13 18.80 34.40C18.35 35.67 18.08 36.73 16.60 37.40C15.12 38.07 12.13 38.40 9.90 38.40C7.67 38.40 4.68 38.07 3.20 37.40C1.72 36.73 1.45 35.67 1.00 34.40C0.55 33.13 0.60 31.40 0.50 29.80C0.40 28.20 0.37 26.47 0.40 24.80C0.43 23.13 0.55 21.40 0.70 19.80C0.85 18.20 0.84 16.33 1.30 15.20C1.76 14.07 2.72 13.65 3.45 13.00C4.18 12.35 5.36 11.88 5.70 11.30C6.04 10.72 5.43 10.12 5.50 9.50C5.57 8.88 5.85 8.32 6.10 7.60C6.35 6.88 6.65 5.97 7.00 5.20C7.35 4.43 7.72 3.57 8.20 3.00C8.68 2.43 9.33 1.80 9.90 1.80Z" fill="url(#bodyD2)" filter="url(#blI2)"/><rect x="0" y="0" width="20" height="40" filter="url(#fur)" opacity=".3"/></g><ellipse cx="6.0" cy="9.4" rx="1.3" ry="1.4" fill="#8c8c8c"/><ellipse cx="13.8" cy="9.4" rx="1.3" ry="1.4" fill="#8c8c8c"/><ellipse cx="9.9" cy="17.8" rx="4.5" ry="3" fill="#f6f6f6" opacity=".8"/></g><g filter="url(#blT)"><path d="M9.74 26.00C9.63 26.31 9.71 26.55 9.50 26.83C9.29 27.11 8.94 27.60 8.47 27.66C7.99 27.72 7.18 27.32 6.67 27.20C6.16 27.08 5.69 27.10 5.41 26.95C5.14 26.80 5.10 26.52 5.00 26.30C4.91 26.09 4.75 25.86 4.86 25.67C4.97 25.49 5.36 25.34 5.66 25.20C5.96 25.06 6.25 24.92 6.67 24.82C7.10 24.73 7.63 24.60 8.21 24.62C8.80 24.65 9.90 24.72 10.16 24.95C10.41 25.18 9.85 25.69 9.74 26.00Z" fill="#2626f4" opacity="1"/><path d="M15.18 29.40C15.24 29.80 15.28 30.50 15.14 30.80C14.99 31.09 14.55 31.02 14.30 31.17C14.04 31.33 13.81 31.78 13.59 31.72C13.38 31.67 13.17 31.16 13.02 30.86C12.87 30.56 12.81 30.27 12.72 29.92C12.62 29.57 12.42 29.10 12.46 28.76C12.51 28.42 12.80 28.16 12.99 27.89C13.18 27.61 13.34 27.32 13.60 27.12C13.86 26.92 14.37 26.48 14.56 26.69C14.76 26.90 14.67 27.93 14.77 28.39C14.87 28.84 15.12 29.00 15.18 29.40Z" fill="#2626f4" opacity="1"/></g></g></g>
<clipPath id="c18"><rect x="141.4" y="236.4" width="18.3" height="39.6"/></clipPath>
<rect x="141.4" y="236.4" width="18.3" height="39.6" fill="#0b0b0b"/>
<g clip-path="url(#c18)"><g transform="translate(141.4,236.4) scale(0.9385,0.9900)"><clipPath id="dm12"><path d="M9.90 1.80C10.47 1.80 11.12 2.43 11.60 3.00C12.08 3.57 12.45 4.43 12.80 5.20C13.15 5.97 13.45 6.88 13.70 7.60C13.95 8.32 14.23 8.88 14.30 9.50C14.37 10.12 13.80 10.72 14.10 11.30C14.40 11.88 15.45 12.35 16.10 13.00C16.75 13.65 17.58 14.07 18.00 15.20C18.42 16.33 18.45 18.20 18.60 19.80C18.75 21.40 18.87 23.13 18.90 24.80C18.93 26.47 18.90 28.20 18.80 29.80C18.70 31.40 18.75 33.13 18.30 34.40C17.85 35.67 17.50 36.73 16.10 37.40C14.70 38.07 11.97 38.40 9.90 38.40C7.83 38.40 5.10 38.07 3.70 37.40C2.30 36.73 1.95 35.67 1.50 34.40C1.05 33.13 1.10 31.40 1.00 29.80C0.90 28.20 0.87 26.47 0.90 24.80C0.93 23.13 1.05 21.40 1.20 19.80C1.35 18.20 1.38 16.33 1.80 15.20C2.22 14.07 3.05 13.65 3.70 13.00C4.35 12.35 5.40 11.88 5.70 11.30C6.00 10.72 5.43 10.12 5.50 9.50C5.57 8.88 5.85 8.32 6.10 7.60C6.35 6.88 6.65 5.97 7.00 5.20C7.35 4.43 7.72 3.57 8.20 3.00C8.68 2.43 9.33 1.80 9.90 1.80Z"/></clipPath><g filter="url(#blD)"><path d="M3.6000000000000005 34.8L1.1000000000000003 38.599999999999994M16.2 34.8L18.7 38.599999999999994M4.42 13.8L1.02 11.8M15.38 13.8L18.78 11.8" stroke="#a8a8a8" stroke-width="1.5" fill="none" stroke-linecap="round"/><path d="M9.90 1.80C10.47 1.80 11.12 2.43 11.60 3.00C12.08 3.57 12.45 4.43 12.80 5.20C13.15 5.97 13.45 6.88 13.70 7.60C13.95 8.32 14.23 8.88 14.30 9.50C14.37 10.12 13.80 10.72 14.10 11.30C14.40 11.88 15.45 12.35 16.10 13.00C16.75 13.65 17.58 14.07 18.00 15.20C18.42 16.33 18.45 18.20 18.60 19.80C18.75 21.40 18.87 23.13 18.90 24.80C18.93 26.47 18.90 28.20 18.80 29.80C18.70 31.40 18.75 33.13 18.30 34.40C17.85 35.67 17.50 36.73 16.10 37.40C14.70 38.07 11.97 38.40 9.90 38.40C7.83 38.40 5.10 38.07 3.70 37.40C2.30 36.73 1.95 35.67 1.50 34.40C1.05 33.13 1.10 31.40 1.00 29.80C0.90 28.20 0.87 26.47 0.90 24.80C0.93 23.13 1.05 21.40 1.20 19.80C1.35 18.20 1.38 16.33 1.80 15.20C2.22 14.07 3.05 13.65 3.70 13.00C4.35 12.35 5.40 11.88 5.70 11.30C6.00 10.72 5.43 10.12 5.50 9.50C5.57 8.88 5.85 8.32 6.10 7.60C6.35 6.88 6.65 5.97 7.00 5.20C7.35 4.43 7.72 3.57 8.20 3.00C8.68 2.43 9.33 1.80 9.90 1.80Z" fill="#8a8a8a"/><g clip-path="url(#dm12)"><path d="M9.90 1.80C10.47 1.80 11.12 2.43 11.60 3.00C12.08 3.57 12.45 4.43 12.80 5.20C13.15 5.97 13.45 6.88 13.70 7.60C13.95 8.32 14.23 8.88 14.30 9.50C14.37 10.12 13.80 10.72 14.10 11.30C14.40 11.88 15.45 12.35 16.10 13.00C16.75 13.65 17.58 14.07 18.00 15.20C18.42 16.33 18.45 18.20 18.60 19.80C18.75 21.40 18.87 23.13 18.90 24.80C18.93 26.47 18.90 28.20 18.80 29.80C18.70 31.40 18.75 33.13 18.30 34.40C17.85 35.67 17.50 36.73 16.10 37.40C14.70 38.07 11.97 38.40 9.90 38.40C7.83 38.40 5.10 38.07 3.70 37.40C2.30 36.73 1.95 35.67 1.50 34.40C1.05 33.13 1.10 31.40 1.00 29.80C0.90 28.20 0.87 26.47 0.90 24.80C0.93 23.13 1.05 21.40 1.20 19.80C1.35 18.20 1.38 16.33 1.80 15.20C2.22 14.07 3.05 13.65 3.70 13.00C4.35 12.35 5.40 11.88 5.70 11.30C6.00 10.72 5.43 10.12 5.50 9.50C5.57 8.88 5.85 8.32 6.10 7.60C6.35 6.88 6.65 5.97 7.00 5.20C7.35 4.43 7.72 3.57 8.20 3.00C8.68 2.43 9.33 1.80 9.90 1.80Z" fill="url(#bodyD)" filter="url(#blI2)"/><rect x="0" y="0" width="20" height="40" filter="url(#fur)" opacity=".3"/></g><ellipse cx="6.0" cy="9.4" rx="1.3" ry="1.4" fill="#8c8c8c"/><ellipse cx="13.8" cy="9.4" rx="1.3" ry="1.4" fill="#8c8c8c"/><ellipse cx="9.9" cy="17.8" rx="4.5" ry="3" fill="#f6f6f6" opacity=".8"/></g><g filter="url(#blT)"><path d="M19.26 29.00C19.32 30.64 18.39 32.57 17.47 34.04C16.55 35.51 15.22 37.21 13.74 37.82C12.26 38.43 10.33 37.86 8.58 37.69C6.83 37.51 4.63 37.73 3.22 36.77C1.82 35.80 0.59 33.66 0.14 31.90C-0.31 30.14 -0.15 27.79 0.53 26.22C1.22 24.64 2.93 23.56 4.25 22.45C5.58 21.34 6.93 19.83 8.47 19.54C10.01 19.26 12.05 19.97 13.49 20.74C14.92 21.52 16.14 22.82 17.11 24.20C18.07 25.57 19.20 27.36 19.26 29.00Z" fill="#6a34dc" opacity="1"/><path d="M18.45 29.00C18.50 30.50 17.65 32.27 16.81 33.62C15.97 34.97 14.75 36.52 13.40 37.08C12.04 37.63 10.29 37.12 8.68 36.96C7.08 36.80 5.07 37.00 3.79 36.11C2.50 35.23 1.38 33.27 0.97 31.66C0.56 30.05 0.70 27.89 1.33 26.45C1.96 25.01 3.52 24.02 4.73 23.00C5.94 21.98 7.18 20.60 8.59 20.34C9.99 20.08 11.85 20.73 13.17 21.44C14.48 22.15 15.60 23.34 16.48 24.60C17.36 25.86 18.39 27.50 18.45 29.00Z" fill="#2626f4" opacity="1"/><path d="M13.65 28.60C13.67 28.85 12.79 29.12 12.41 29.36C12.04 29.60 11.87 29.86 11.43 30.04C10.98 30.21 10.18 30.49 9.72 30.41C9.26 30.32 9.04 29.78 8.67 29.55C8.29 29.32 7.70 29.26 7.49 29.03C7.27 28.79 7.31 28.47 7.38 28.16C7.44 27.85 7.45 27.27 7.87 27.16C8.30 27.06 9.38 27.46 9.91 27.53C10.44 27.60 10.66 27.53 11.06 27.59C11.46 27.65 11.87 27.71 12.30 27.88C12.73 28.05 13.63 28.35 13.65 28.60Z" fill="#2c5cf4" opacity="1"/></g></g></g>
<clipPath id="c19"><rect x="162.4" y="236.4" width="18.9" height="39.6"/></clipPath>
<rect x="162.4" y="236.4" width="18.9" height="39.6" fill="#0b0b0b"/>
<g clip-path="url(#c19)"><g transform="translate(162.4,236.4) scale(0.9692,0.9900)"><clipPath id="dm13"><path d="M9.90 1.80C10.47 1.80 11.12 2.43 11.60 3.00C12.08 3.57 12.45 4.43 12.80 5.20C13.15 5.97 13.45 6.88 13.70 7.60C13.95 8.32 14.23 8.88 14.30 9.50C14.37 10.12 13.80 10.72 14.10 11.30C14.40 11.88 15.45 12.35 16.10 13.00C16.75 13.65 17.58 14.07 18.00 15.20C18.42 16.33 18.45 18.20 18.60 19.80C18.75 21.40 18.87 23.13 18.90 24.80C18.93 26.47 18.90 28.20 18.80 29.80C18.70 31.40 18.75 33.13 18.30 34.40C17.85 35.67 17.50 36.73 16.10 37.40C14.70 38.07 11.97 38.40 9.90 38.40C7.83 38.40 5.10 38.07 3.70 37.40C2.30 36.73 1.95 35.67 1.50 34.40C1.05 33.13 1.10 31.40 1.00 29.80C0.90 28.20 0.87 26.47 0.90 24.80C0.93 23.13 1.05 21.40 1.20 19.80C1.35 18.20 1.38 16.33 1.80 15.20C2.22 14.07 3.05 13.65 3.70 13.00C4.35 12.35 5.40 11.88 5.70 11.30C6.00 10.72 5.43 10.12 5.50 9.50C5.57 8.88 5.85 8.32 6.10 7.60C6.35 6.88 6.65 5.97 7.00 5.20C7.35 4.43 7.72 3.57 8.20 3.00C8.68 2.43 9.33 1.80 9.90 1.80Z"/></clipPath><g filter="url(#blD)"><path d="M3.6000000000000005 34.8L1.1000000000000003 38.599999999999994M16.2 34.8L18.7 38.599999999999994M4.42 13.8L1.02 11.8M15.38 13.8L18.78 11.8" stroke="#a8a8a8" stroke-width="1.5" fill="none" stroke-linecap="round"/><path d="M9.90 1.80C10.47 1.80 11.12 2.43 11.60 3.00C12.08 3.57 12.45 4.43 12.80 5.20C13.15 5.97 13.45 6.88 13.70 7.60C13.95 8.32 14.23 8.88 14.30 9.50C14.37 10.12 13.80 10.72 14.10 11.30C14.40 11.88 15.45 12.35 16.10 13.00C16.75 13.65 17.58 14.07 18.00 15.20C18.42 16.33 18.45 18.20 18.60 19.80C18.75 21.40 18.87 23.13 18.90 24.80C18.93 26.47 18.90 28.20 18.80 29.80C18.70 31.40 18.75 33.13 18.30 34.40C17.85 35.67 17.50 36.73 16.10 37.40C14.70 38.07 11.97 38.40 9.90 38.40C7.83 38.40 5.10 38.07 3.70 37.40C2.30 36.73 1.95 35.67 1.50 34.40C1.05 33.13 1.10 31.40 1.00 29.80C0.90 28.20 0.87 26.47 0.90 24.80C0.93 23.13 1.05 21.40 1.20 19.80C1.35 18.20 1.38 16.33 1.80 15.20C2.22 14.07 3.05 13.65 3.70 13.00C4.35 12.35 5.40 11.88 5.70 11.30C6.00 10.72 5.43 10.12 5.50 9.50C5.57 8.88 5.85 8.32 6.10 7.60C6.35 6.88 6.65 5.97 7.00 5.20C7.35 4.43 7.72 3.57 8.20 3.00C8.68 2.43 9.33 1.80 9.90 1.80Z" fill="#8a8a8a"/><g clip-path="url(#dm13)"><path d="M9.90 1.80C10.47 1.80 11.12 2.43 11.60 3.00C12.08 3.57 12.45 4.43 12.80 5.20C13.15 5.97 13.45 6.88 13.70 7.60C13.95 8.32 14.23 8.88 14.30 9.50C14.37 10.12 13.80 10.72 14.10 11.30C14.40 11.88 15.45 12.35 16.10 13.00C16.75 13.65 17.58 14.07 18.00 15.20C18.42 16.33 18.45 18.20 18.60 19.80C18.75 21.40 18.87 23.13 18.90 24.80C18.93 26.47 18.90 28.20 18.80 29.80C18.70 31.40 18.75 33.13 18.30 34.40C17.85 35.67 17.50 36.73 16.10 37.40C14.70 38.07 11.97 38.40 9.90 38.40C7.83 38.40 5.10 38.07 3.70 37.40C2.30 36.73 1.95 35.67 1.50 34.40C1.05 33.13 1.10 31.40 1.00 29.80C0.90 28.20 0.87 26.47 0.90 24.80C0.93 23.13 1.05 21.40 1.20 19.80C1.35 18.20 1.38 16.33 1.80 15.20C2.22 14.07 3.05 13.65 3.70 13.00C4.35 12.35 5.40 11.88 5.70 11.30C6.00 10.72 5.43 10.12 5.50 9.50C5.57 8.88 5.85 8.32 6.10 7.60C6.35 6.88 6.65 5.97 7.00 5.20C7.35 4.43 7.72 3.57 8.20 3.00C8.68 2.43 9.33 1.80 9.90 1.80Z" fill="url(#bodyD)" filter="url(#blI2)"/><rect x="0" y="0" width="20" height="40" filter="url(#fur)" opacity=".3"/></g><ellipse cx="6.0" cy="9.4" rx="1.3" ry="1.4" fill="#8c8c8c"/><ellipse cx="13.8" cy="9.4" rx="1.3" ry="1.4" fill="#8c8c8c"/><ellipse cx="9.9" cy="17.8" rx="4.5" ry="3" fill="#f6f6f6" opacity=".8"/></g><g filter="url(#blT)"><path d="M19.19 28.60C19.35 30.16 18.75 32.05 17.92 33.58C17.09 35.11 15.76 37.11 14.18 37.76C12.61 38.42 10.23 37.88 8.46 37.50C6.69 37.12 4.89 36.52 3.56 35.47C2.23 34.42 0.83 32.75 0.47 31.21C0.12 29.68 0.91 27.84 1.43 26.25C1.94 24.67 2.39 22.88 3.56 21.72C4.72 20.57 6.65 19.65 8.40 19.32C10.15 18.98 12.62 18.90 14.05 19.72C15.47 20.54 16.10 22.73 16.95 24.21C17.81 25.69 19.02 27.04 19.19 28.60Z" fill="#6a34dc" opacity="1"/><path d="M18.40 28.60C18.54 30.02 18.00 31.75 17.24 33.14C16.47 34.53 15.26 36.36 13.81 36.95C12.37 37.55 10.19 37.06 8.57 36.71C6.95 36.37 5.31 35.82 4.09 34.86C2.87 33.91 1.58 32.38 1.26 30.98C0.93 29.58 1.66 27.90 2.13 26.46C2.60 25.02 3.02 23.38 4.08 22.33C5.15 21.27 6.92 20.44 8.52 20.14C10.12 19.83 12.39 19.76 13.69 20.50C15.00 21.25 15.57 23.25 16.35 24.60C17.13 25.95 18.25 27.18 18.40 28.60Z" fill="#2626f4" opacity="1"/><path d="M8.42 28.60C8.45 29.21 8.32 29.96 8.05 30.49C7.79 31.03 7.30 31.57 6.82 31.81C6.35 32.06 5.73 32.02 5.20 31.94C4.67 31.86 4.02 31.73 3.63 31.33C3.23 30.94 2.91 30.16 2.85 29.57C2.78 28.98 3.11 28.37 3.25 27.77C3.39 27.17 3.37 26.31 3.70 25.97C4.03 25.63 4.76 25.74 5.25 25.72C5.75 25.70 6.21 25.66 6.65 25.85C7.09 26.03 7.59 26.38 7.89 26.84C8.18 27.30 8.39 27.99 8.42 28.60Z" fill="#2cc4f0" opacity="1"/><path d="M7.44 28.60C7.44 29.00 7.02 29.37 6.83 29.80C6.65 30.23 6.58 30.97 6.30 31.17C6.02 31.36 5.54 31.01 5.14 30.97C4.73 30.93 4.10 31.20 3.86 30.91C3.62 30.62 3.81 29.76 3.72 29.24C3.62 28.72 3.19 28.18 3.28 27.79C3.37 27.40 3.97 27.27 4.27 26.90C4.56 26.52 4.71 25.72 5.06 25.55C5.41 25.38 6.06 25.57 6.35 25.88C6.65 26.19 6.64 26.96 6.82 27.42C7.00 27.87 7.44 28.20 7.44 28.60Z" fill="#f0e030" opacity="1"/><path d="M6.39 29.00C6.38 29.29 6.47 29.63 6.37 29.84C6.28 30.04 6.01 30.08 5.82 30.23C5.63 30.38 5.41 30.75 5.21 30.74C5.01 30.74 4.74 30.44 4.61 30.21C4.48 29.99 4.48 29.63 4.46 29.37C4.43 29.11 4.44 28.91 4.46 28.63C4.47 28.35 4.41 27.84 4.54 27.68C4.67 27.51 5.02 27.68 5.25 27.64C5.49 27.59 5.74 27.33 5.95 27.41C6.15 27.48 6.39 27.82 6.46 28.09C6.54 28.36 6.41 28.71 6.39 29.00Z" fill="#e81414" opacity="1"/><path d="M14.80 29.00C14.81 29.30 14.54 29.60 14.41 29.93C14.28 30.26 14.23 30.85 14.03 30.97C13.83 31.09 13.49 30.75 13.23 30.67C12.98 30.59 12.76 30.65 12.50 30.49C12.24 30.33 11.70 30.04 11.68 29.72C11.66 29.40 12.24 28.92 12.39 28.58C12.54 28.23 12.45 27.95 12.58 27.65C12.72 27.36 12.97 26.81 13.18 26.81C13.39 26.81 13.64 27.41 13.84 27.63C14.03 27.86 14.17 27.92 14.33 28.14C14.49 28.37 14.78 28.70 14.80 29.00Z" fill="#2cc4f0" opacity="1"/></g></g></g>
<clipPath id="c20"><rect x="34.8" y="283.5" width="18.4" height="39"/></clipPath>
<rect x="34.8" y="283.5" width="18.4" height="39" fill="#0b0b0b"/>
<g clip-path="url(#c20)"><g transform="translate(34.8,283.5) scale(0.9436,0.9750)"><clipPath id="dm14"><path d="M9.90 1.80C10.47 1.80 11.12 2.43 11.60 3.00C12.08 3.57 12.45 4.43 12.80 5.20C13.15 5.97 13.45 6.88 13.70 7.60C13.95 8.32 14.23 8.88 14.30 9.50C14.37 10.12 13.80 10.72 14.10 11.30C14.40 11.88 15.45 12.35 16.10 13.00C16.75 13.65 17.58 14.07 18.00 15.20C18.42 16.33 18.45 18.20 18.60 19.80C18.75 21.40 18.87 23.13 18.90 24.80C18.93 26.47 18.90 28.20 18.80 29.80C18.70 31.40 18.75 33.13 18.30 34.40C17.85 35.67 17.50 36.73 16.10 37.40C14.70 38.07 11.97 38.40 9.90 38.40C7.83 38.40 5.10 38.07 3.70 37.40C2.30 36.73 1.95 35.67 1.50 34.40C1.05 33.13 1.10 31.40 1.00 29.80C0.90 28.20 0.87 26.47 0.90 24.80C0.93 23.13 1.05 21.40 1.20 19.80C1.35 18.20 1.38 16.33 1.80 15.20C2.22 14.07 3.05 13.65 3.70 13.00C4.35 12.35 5.40 11.88 5.70 11.30C6.00 10.72 5.43 10.12 5.50 9.50C5.57 8.88 5.85 8.32 6.10 7.60C6.35 6.88 6.65 5.97 7.00 5.20C7.35 4.43 7.72 3.57 8.20 3.00C8.68 2.43 9.33 1.80 9.90 1.80Z"/></clipPath><g filter="url(#blD)"><path d="M3.6000000000000005 34.8L1.1000000000000003 38.599999999999994M16.2 34.8L18.7 38.599999999999994M4.42 13.8L1.02 11.8M15.38 13.8L18.78 11.8" stroke="#a8a8a8" stroke-width="1.5" fill="none" stroke-linecap="round"/><path d="M9.90 1.80C10.47 1.80 11.12 2.43 11.60 3.00C12.08 3.57 12.45 4.43 12.80 5.20C13.15 5.97 13.45 6.88 13.70 7.60C13.95 8.32 14.23 8.88 14.30 9.50C14.37 10.12 13.80 10.72 14.10 11.30C14.40 11.88 15.45 12.35 16.10 13.00C16.75 13.65 17.58 14.07 18.00 15.20C18.42 16.33 18.45 18.20 18.60 19.80C18.75 21.40 18.87 23.13 18.90 24.80C18.93 26.47 18.90 28.20 18.80 29.80C18.70 31.40 18.75 33.13 18.30 34.40C17.85 35.67 17.50 36.73 16.10 37.40C14.70 38.07 11.97 38.40 9.90 38.40C7.83 38.40 5.10 38.07 3.70 37.40C2.30 36.73 1.95 35.67 1.50 34.40C1.05 33.13 1.10 31.40 1.00 29.80C0.90 28.20 0.87 26.47 0.90 24.80C0.93 23.13 1.05 21.40 1.20 19.80C1.35 18.20 1.38 16.33 1.80 15.20C2.22 14.07 3.05 13.65 3.70 13.00C4.35 12.35 5.40 11.88 5.70 11.30C6.00 10.72 5.43 10.12 5.50 9.50C5.57 8.88 5.85 8.32 6.10 7.60C6.35 6.88 6.65 5.97 7.00 5.20C7.35 4.43 7.72 3.57 8.20 3.00C8.68 2.43 9.33 1.80 9.90 1.80Z" fill="#8a8a8a"/><g clip-path="url(#dm14)"><path d="M9.90 1.80C10.47 1.80 11.12 2.43 11.60 3.00C12.08 3.57 12.45 4.43 12.80 5.20C13.15 5.97 13.45 6.88 13.70 7.60C13.95 8.32 14.23 8.88 14.30 9.50C14.37 10.12 13.80 10.72 14.10 11.30C14.40 11.88 15.45 12.35 16.10 13.00C16.75 13.65 17.58 14.07 18.00 15.20C18.42 16.33 18.45 18.20 18.60 19.80C18.75 21.40 18.87 23.13 18.90 24.80C18.93 26.47 18.90 28.20 18.80 29.80C18.70 31.40 18.75 33.13 18.30 34.40C17.85 35.67 17.50 36.73 16.10 37.40C14.70 38.07 11.97 38.40 9.90 38.40C7.83 38.40 5.10 38.07 3.70 37.40C2.30 36.73 1.95 35.67 1.50 34.40C1.05 33.13 1.10 31.40 1.00 29.80C0.90 28.20 0.87 26.47 0.90 24.80C0.93 23.13 1.05 21.40 1.20 19.80C1.35 18.20 1.38 16.33 1.80 15.20C2.22 14.07 3.05 13.65 3.70 13.00C4.35 12.35 5.40 11.88 5.70 11.30C6.00 10.72 5.43 10.12 5.50 9.50C5.57 8.88 5.85 8.32 6.10 7.60C6.35 6.88 6.65 5.97 7.00 5.20C7.35 4.43 7.72 3.57 8.20 3.00C8.68 2.43 9.33 1.80 9.90 1.80Z" fill="url(#bodyD)" filter="url(#blI2)"/><rect x="0" y="0" width="20" height="40" filter="url(#fur)" opacity=".3"/></g><ellipse cx="6.0" cy="9.4" rx="1.3" ry="1.4" fill="#8c8c8c"/><ellipse cx="13.8" cy="9.4" rx="1.3" ry="1.4" fill="#8c8c8c"/><ellipse cx="9.9" cy="17.8" rx="4.5" ry="3" fill="#f6f6f6" opacity=".8"/></g><g filter="url(#blT)"><path d="M17.14 29.00C17.17 30.28 16.94 31.80 16.20 32.89C15.45 33.98 14.00 35.17 12.66 35.56C11.33 35.95 9.51 35.54 8.17 35.21C6.83 34.87 5.70 34.28 4.63 33.56C3.57 32.84 2.22 31.95 1.78 30.88C1.34 29.82 1.69 28.42 1.98 27.17C2.28 25.91 2.54 24.25 3.54 23.35C4.55 22.46 6.50 21.95 8.01 21.82C9.52 21.68 11.27 21.98 12.61 22.55C13.94 23.11 15.27 24.13 16.03 25.21C16.78 26.28 17.11 27.72 17.14 29.00Z" fill="#6a34dc" opacity="1"/><path d="M16.34 29.00C16.37 30.13 16.17 31.47 15.50 32.44C14.83 33.41 13.52 34.46 12.32 34.80C11.11 35.14 9.48 34.78 8.27 34.49C7.07 34.19 6.05 33.67 5.09 33.03C4.13 32.39 2.92 31.61 2.52 30.67C2.13 29.72 2.44 28.49 2.70 27.38C2.97 26.27 3.21 24.80 4.11 24.01C5.01 23.22 6.77 22.77 8.13 22.65C9.49 22.53 11.06 22.79 12.27 23.29C13.47 23.79 14.66 24.69 15.34 25.65C16.02 26.60 16.32 27.87 16.34 29.00Z" fill="#2626f4" opacity="1"/><path d="M10.37 29.00C10.36 29.33 10.60 29.76 10.36 29.97C10.12 30.19 9.40 30.11 8.93 30.31C8.45 30.50 7.94 31.15 7.52 31.13C7.11 31.10 6.84 30.41 6.46 30.14C6.08 29.87 5.54 29.82 5.23 29.52C4.92 29.23 4.45 28.66 4.63 28.36C4.80 28.06 5.80 28.00 6.28 27.72C6.76 27.45 6.98 26.82 7.49 26.72C8.00 26.62 8.84 26.92 9.32 27.14C9.81 27.35 10.25 27.69 10.42 28.00C10.60 28.31 10.38 28.67 10.37 29.00Z" fill="#2c5cf4" opacity="1"/></g></g></g>
<clipPath id="c21"><rect x="56.2" y="283.5" width="18.5" height="39"/></clipPath>
<rect x="56.2" y="283.5" width="18.5" height="39" fill="#0b0b0b"/>
<g clip-path="url(#c21)"><g transform="translate(56.2,283.5) scale(0.9487,0.9750)"><clipPath id="dm15"><path d="M9.90 1.80C10.47 1.80 11.12 2.43 11.60 3.00C12.08 3.57 12.45 4.43 12.80 5.20C13.15 5.97 13.45 6.88 13.70 7.60C13.95 8.32 14.23 8.88 14.30 9.50C14.37 10.12 13.80 10.72 14.10 11.30C14.40 11.88 15.45 12.35 16.10 13.00C16.75 13.65 17.58 14.07 18.00 15.20C18.42 16.33 18.45 18.20 18.60 19.80C18.75 21.40 18.87 23.13 18.90 24.80C18.93 26.47 18.90 28.20 18.80 29.80C18.70 31.40 18.75 33.13 18.30 34.40C17.85 35.67 17.50 36.73 16.10 37.40C14.70 38.07 11.97 38.40 9.90 38.40C7.83 38.40 5.10 38.07 3.70 37.40C2.30 36.73 1.95 35.67 1.50 34.40C1.05 33.13 1.10 31.40 1.00 29.80C0.90 28.20 0.87 26.47 0.90 24.80C0.93 23.13 1.05 21.40 1.20 19.80C1.35 18.20 1.38 16.33 1.80 15.20C2.22 14.07 3.05 13.65 3.70 13.00C4.35 12.35 5.40 11.88 5.70 11.30C6.00 10.72 5.43 10.12 5.50 9.50C5.57 8.88 5.85 8.32 6.10 7.60C6.35 6.88 6.65 5.97 7.00 5.20C7.35 4.43 7.72 3.57 8.20 3.00C8.68 2.43 9.33 1.80 9.90 1.80Z"/></clipPath><g filter="url(#blD)"><path d="M3.6000000000000005 34.8L1.1000000000000003 38.599999999999994M16.2 34.8L18.7 38.599999999999994M4.42 13.8L1.02 11.8M15.38 13.8L18.78 11.8" stroke="#a8a8a8" stroke-width="1.5" fill="none" stroke-linecap="round"/><path d="M9.90 1.80C10.47 1.80 11.12 2.43 11.60 3.00C12.08 3.57 12.45 4.43 12.80 5.20C13.15 5.97 13.45 6.88 13.70 7.60C13.95 8.32 14.23 8.88 14.30 9.50C14.37 10.12 13.80 10.72 14.10 11.30C14.40 11.88 15.45 12.35 16.10 13.00C16.75 13.65 17.58 14.07 18.00 15.20C18.42 16.33 18.45 18.20 18.60 19.80C18.75 21.40 18.87 23.13 18.90 24.80C18.93 26.47 18.90 28.20 18.80 29.80C18.70 31.40 18.75 33.13 18.30 34.40C17.85 35.67 17.50 36.73 16.10 37.40C14.70 38.07 11.97 38.40 9.90 38.40C7.83 38.40 5.10 38.07 3.70 37.40C2.30 36.73 1.95 35.67 1.50 34.40C1.05 33.13 1.10 31.40 1.00 29.80C0.90 28.20 0.87 26.47 0.90 24.80C0.93 23.13 1.05 21.40 1.20 19.80C1.35 18.20 1.38 16.33 1.80 15.20C2.22 14.07 3.05 13.65 3.70 13.00C4.35 12.35 5.40 11.88 5.70 11.30C6.00 10.72 5.43 10.12 5.50 9.50C5.57 8.88 5.85 8.32 6.10 7.60C6.35 6.88 6.65 5.97 7.00 5.20C7.35 4.43 7.72 3.57 8.20 3.00C8.68 2.43 9.33 1.80 9.90 1.80Z" fill="#8a8a8a"/><g clip-path="url(#dm15)"><path d="M9.90 1.80C10.47 1.80 11.12 2.43 11.60 3.00C12.08 3.57 12.45 4.43 12.80 5.20C13.15 5.97 13.45 6.88 13.70 7.60C13.95 8.32 14.23 8.88 14.30 9.50C14.37 10.12 13.80 10.72 14.10 11.30C14.40 11.88 15.45 12.35 16.10 13.00C16.75 13.65 17.58 14.07 18.00 15.20C18.42 16.33 18.45 18.20 18.60 19.80C18.75 21.40 18.87 23.13 18.90 24.80C18.93 26.47 18.90 28.20 18.80 29.80C18.70 31.40 18.75 33.13 18.30 34.40C17.85 35.67 17.50 36.73 16.10 37.40C14.70 38.07 11.97 38.40 9.90 38.40C7.83 38.40 5.10 38.07 3.70 37.40C2.30 36.73 1.95 35.67 1.50 34.40C1.05 33.13 1.10 31.40 1.00 29.80C0.90 28.20 0.87 26.47 0.90 24.80C0.93 23.13 1.05 21.40 1.20 19.80C1.35 18.20 1.38 16.33 1.80 15.20C2.22 14.07 3.05 13.65 3.70 13.00C4.35 12.35 5.40 11.88 5.70 11.30C6.00 10.72 5.43 10.12 5.50 9.50C5.57 8.88 5.85 8.32 6.10 7.60C6.35 6.88 6.65 5.97 7.00 5.20C7.35 4.43 7.72 3.57 8.20 3.00C8.68 2.43 9.33 1.80 9.90 1.80Z" fill="url(#bodyD)" filter="url(#blI2)"/><rect x="0" y="0" width="20" height="40" filter="url(#fur)" opacity=".3"/></g><ellipse cx="6.0" cy="9.4" rx="1.3" ry="1.4" fill="#8c8c8c"/><ellipse cx="13.8" cy="9.4" rx="1.3" ry="1.4" fill="#8c8c8c"/><ellipse cx="9.9" cy="17.8" rx="4.5" ry="3" fill="#f6f6f6" opacity=".8"/></g><g filter="url(#blT)"><path d="M17.69 30.00C17.73 31.24 17.91 32.73 17.26 33.79C16.61 34.86 15.13 35.81 13.78 36.38C12.44 36.95 10.54 37.52 9.19 37.23C7.85 36.94 6.68 35.56 5.72 34.65C4.77 33.73 3.81 32.81 3.46 31.75C3.11 30.69 3.26 29.36 3.62 28.29C3.99 27.21 4.74 26.19 5.67 25.30C6.61 24.41 7.95 23.10 9.23 22.97C10.50 22.83 12.02 23.93 13.32 24.49C14.61 25.06 16.27 25.43 16.99 26.35C17.72 27.27 17.65 28.76 17.69 30.00Z" fill="#6a34dc" opacity="1"/><path d="M16.94 30.00C16.98 31.09 17.13 32.40 16.55 33.34C15.97 34.28 14.64 35.12 13.44 35.62C12.23 36.12 10.52 36.62 9.32 36.37C8.11 36.11 7.06 34.90 6.20 34.09C5.35 33.29 4.49 32.48 4.18 31.54C3.86 30.61 3.99 29.44 4.32 28.49C4.65 27.54 5.32 26.64 6.16 25.86C7.00 25.08 8.20 23.93 9.35 23.81C10.49 23.69 11.86 24.66 13.02 25.15C14.18 25.65 15.66 25.98 16.32 26.79C16.97 27.59 16.90 28.91 16.94 30.00Z" fill="#2626f4" opacity="1"/><path d="M16.03 30.60C15.99 30.98 14.11 31.20 13.62 31.67C13.13 32.13 13.55 33.13 13.10 33.39C12.64 33.65 11.67 33.28 10.89 33.25C10.11 33.21 8.88 33.50 8.42 33.18C7.96 32.86 8.36 31.91 8.14 31.32C7.92 30.73 6.85 30.04 7.08 29.65C7.31 29.26 8.91 29.40 9.52 28.98C10.13 28.56 10.19 27.25 10.74 27.13C11.28 27.02 12.30 27.89 12.82 28.27C13.34 28.65 13.32 29.03 13.85 29.42C14.39 29.81 16.07 30.22 16.03 30.60Z" fill="#2cc4f0" opacity="1"/></g></g></g>
<clipPath id="c22"><rect x="77" y="283.5" width="19.2" height="39"/></clipPath>
<rect x="77" y="283.5" width="19.2" height="39" fill="#0b0b0b"/>
<g clip-path="url(#c22)"><g transform="translate(77,283.5) scale(0.9846,0.9750)"><clipPath id="dm16"><path d="M9.90 1.80C10.47 1.80 11.12 2.43 11.60 3.00C12.08 3.57 12.45 4.43 12.80 5.20C13.15 5.97 13.45 6.88 13.70 7.60C13.95 8.32 14.23 8.88 14.30 9.50C14.37 10.12 13.76 10.72 14.10 11.30C14.44 11.88 15.62 12.35 16.35 13.00C17.08 13.65 18.04 14.07 18.50 15.20C18.96 16.33 18.95 18.20 19.10 19.80C19.25 21.40 19.37 23.13 19.40 24.80C19.43 26.47 19.40 28.20 19.30 29.80C19.20 31.40 19.25 33.13 18.80 34.40C18.35 35.67 18.08 36.73 16.60 37.40C15.12 38.07 12.13 38.40 9.90 38.40C7.67 38.40 4.68 38.07 3.20 37.40C1.72 36.73 1.45 35.67 1.00 34.40C0.55 33.13 0.60 31.40 0.50 29.80C0.40 28.20 0.37 26.47 0.40 24.80C0.43 23.13 0.55 21.40 0.70 19.80C0.85 18.20 0.84 16.33 1.30 15.20C1.76 14.07 2.72 13.65 3.45 13.00C4.18 12.35 5.36 11.88 5.70 11.30C6.04 10.72 5.43 10.12 5.50 9.50C5.57 8.88 5.85 8.32 6.10 7.60C6.35 6.88 6.65 5.97 7.00 5.20C7.35 4.43 7.72 3.57 8.20 3.00C8.68 2.43 9.33 1.80 9.90 1.80Z"/></clipPath><g filter="url(#blD)"><path d="M3.1000000000000005 34.8L0.6000000000000003 38.599999999999994M16.7 34.8L19.2 38.599999999999994M4.12 13.8L0.72 11.8M15.68 13.8L19.080000000000002 11.8" stroke="#a8a8a8" stroke-width="1.5" fill="none" stroke-linecap="round"/><path d="M9.90 1.80C10.47 1.80 11.12 2.43 11.60 3.00C12.08 3.57 12.45 4.43 12.80 5.20C13.15 5.97 13.45 6.88 13.70 7.60C13.95 8.32 14.23 8.88 14.30 9.50C14.37 10.12 13.76 10.72 14.10 11.30C14.44 11.88 15.62 12.35 16.35 13.00C17.08 13.65 18.04 14.07 18.50 15.20C18.96 16.33 18.95 18.20 19.10 19.80C19.25 21.40 19.37 23.13 19.40 24.80C19.43 26.47 19.40 28.20 19.30 29.80C19.20 31.40 19.25 33.13 18.80 34.40C18.35 35.67 18.08 36.73 16.60 37.40C15.12 38.07 12.13 38.40 9.90 38.40C7.67 38.40 4.68 38.07 3.20 37.40C1.72 36.73 1.45 35.67 1.00 34.40C0.55 33.13 0.60 31.40 0.50 29.80C0.40 28.20 0.37 26.47 0.40 24.80C0.43 23.13 0.55 21.40 0.70 19.80C0.85 18.20 0.84 16.33 1.30 15.20C1.76 14.07 2.72 13.65 3.45 13.00C4.18 12.35 5.36 11.88 5.70 11.30C6.04 10.72 5.43 10.12 5.50 9.50C5.57 8.88 5.85 8.32 6.10 7.60C6.35 6.88 6.65 5.97 7.00 5.20C7.35 4.43 7.72 3.57 8.20 3.00C8.68 2.43 9.33 1.80 9.90 1.80Z" fill="#8a8a8a"/><g clip-path="url(#dm16)"><path d="M9.90 1.80C10.47 1.80 11.12 2.43 11.60 3.00C12.08 3.57 12.45 4.43 12.80 5.20C13.15 5.97 13.45 6.88 13.70 7.60C13.95 8.32 14.23 8.88 14.30 9.50C14.37 10.12 13.76 10.72 14.10 11.30C14.44 11.88 15.62 12.35 16.35 13.00C17.08 13.65 18.04 14.07 18.50 15.20C18.96 16.33 18.95 18.20 19.10 19.80C19.25 21.40 19.37 23.13 19.40 24.80C19.43 26.47 19.40 28.20 19.30 29.80C19.20 31.40 19.25 33.13 18.80 34.40C18.35 35.67 18.08 36.73 16.60 37.40C15.12 38.07 12.13 38.40 9.90 38.40C7.67 38.40 4.68 38.07 3.20 37.40C1.72 36.73 1.45 35.67 1.00 34.40C0.55 33.13 0.60 31.40 0.50 29.80C0.40 28.20 0.37 26.47 0.40 24.80C0.43 23.13 0.55 21.40 0.70 19.80C0.85 18.20 0.84 16.33 1.30 15.20C1.76 14.07 2.72 13.65 3.45 13.00C4.18 12.35 5.36 11.88 5.70 11.30C6.04 10.72 5.43 10.12 5.50 9.50C5.57 8.88 5.85 8.32 6.10 7.60C6.35 6.88 6.65 5.97 7.00 5.20C7.35 4.43 7.72 3.57 8.20 3.00C8.68 2.43 9.33 1.80 9.90 1.80Z" fill="url(#bodyD2)" filter="url(#blI2)"/><rect x="0" y="0" width="20" height="40" filter="url(#fur)" opacity=".3"/></g><ellipse cx="6.0" cy="9.4" rx="1.3" ry="1.4" fill="#8c8c8c"/><ellipse cx="13.8" cy="9.4" rx="1.3" ry="1.4" fill="#8c8c8c"/><ellipse cx="9.9" cy="17.8" rx="4.5" ry="3" fill="#f6f6f6" opacity=".8"/></g><g filter="url(#blT)"><path d="M11.38 27.00C11.54 27.26 11.59 27.73 11.30 27.93C11.01 28.14 10.17 28.14 9.65 28.24C9.13 28.34 8.72 28.55 8.18 28.56C7.65 28.58 6.80 28.53 6.45 28.34C6.10 28.14 6.19 27.70 6.07 27.40C5.96 27.10 5.66 26.82 5.76 26.55C5.85 26.28 6.27 26.00 6.66 25.80C7.06 25.59 7.70 25.27 8.15 25.32C8.60 25.36 9.01 25.90 9.38 26.08C9.75 26.26 10.02 26.24 10.35 26.39C10.69 26.55 11.23 26.74 11.38 27.00Z" fill="#2626f4" opacity="1"/><path d="M13.80 31.60C13.70 31.84 13.07 31.95 12.85 32.15C12.63 32.35 12.70 32.70 12.49 32.82C12.27 32.94 11.91 32.87 11.57 32.87C11.24 32.88 10.66 33.01 10.46 32.85C10.26 32.70 10.40 32.21 10.37 31.94C10.35 31.67 10.26 31.47 10.31 31.25C10.37 31.02 10.49 30.71 10.70 30.57C10.92 30.43 11.27 30.48 11.59 30.40C11.91 30.33 12.32 30.07 12.63 30.13C12.94 30.18 13.26 30.49 13.45 30.74C13.65 30.98 13.90 31.36 13.80 31.60Z" fill="#2626f4" opacity="1"/></g></g></g>
<clipPath id="c23"><rect x="98.3" y="283.5" width="19.2" height="39"/></clipPath>
<rect x="98.3" y="283.5" width="19.2" height="39" fill="#0b0b0b"/>
<g clip-path="url(#c23)"><g transform="translate(98.3,283.5) scale(0.9846,0.9750)"><clipPath id="dm17"><path d="M9.90 1.80C10.47 1.80 11.12 2.43 11.60 3.00C12.08 3.57 12.45 4.43 12.80 5.20C13.15 5.97 13.45 6.88 13.70 7.60C13.95 8.32 14.23 8.88 14.30 9.50C14.37 10.12 13.76 10.72 14.10 11.30C14.44 11.88 15.62 12.35 16.35 13.00C17.08 13.65 18.04 14.07 18.50 15.20C18.96 16.33 18.95 18.20 19.10 19.80C19.25 21.40 19.37 23.13 19.40 24.80C19.43 26.47 19.40 28.20 19.30 29.80C19.20 31.40 19.25 33.13 18.80 34.40C18.35 35.67 18.08 36.73 16.60 37.40C15.12 38.07 12.13 38.40 9.90 38.40C7.67 38.40 4.68 38.07 3.20 37.40C1.72 36.73 1.45 35.67 1.00 34.40C0.55 33.13 0.60 31.40 0.50 29.80C0.40 28.20 0.37 26.47 0.40 24.80C0.43 23.13 0.55 21.40 0.70 19.80C0.85 18.20 0.84 16.33 1.30 15.20C1.76 14.07 2.72 13.65 3.45 13.00C4.18 12.35 5.36 11.88 5.70 11.30C6.04 10.72 5.43 10.12 5.50 9.50C5.57 8.88 5.85 8.32 6.10 7.60C6.35 6.88 6.65 5.97 7.00 5.20C7.35 4.43 7.72 3.57 8.20 3.00C8.68 2.43 9.33 1.80 9.90 1.80Z"/></clipPath><g filter="url(#blD)"><path d="M3.1000000000000005 34.8L0.6000000000000003 38.599999999999994M16.7 34.8L19.2 38.599999999999994M4.12 13.8L0.72 11.8M15.68 13.8L19.080000000000002 11.8" stroke="#a8a8a8" stroke-width="1.5" fill="none" stroke-linecap="round"/><path d="M9.90 1.80C10.47 1.80 11.12 2.43 11.60 3.00C12.08 3.57 12.45 4.43 12.80 5.20C13.15 5.97 13.45 6.88 13.70 7.60C13.95 8.32 14.23 8.88 14.30 9.50C14.37 10.12 13.76 10.72 14.10 11.30C14.44 11.88 15.62 12.35 16.35 13.00C17.08 13.65 18.04 14.07 18.50 15.20C18.96 16.33 18.95 18.20 19.10 19.80C19.25 21.40 19.37 23.13 19.40 24.80C19.43 26.47 19.40 28.20 19.30 29.80C19.20 31.40 19.25 33.13 18.80 34.40C18.35 35.67 18.08 36.73 16.60 37.40C15.12 38.07 12.13 38.40 9.90 38.40C7.67 38.40 4.68 38.07 3.20 37.40C1.72 36.73 1.45 35.67 1.00 34.40C0.55 33.13 0.60 31.40 0.50 29.80C0.40 28.20 0.37 26.47 0.40 24.80C0.43 23.13 0.55 21.40 0.70 19.80C0.85 18.20 0.84 16.33 1.30 15.20C1.76 14.07 2.72 13.65 3.45 13.00C4.18 12.35 5.36 11.88 5.70 11.30C6.04 10.72 5.43 10.12 5.50 9.50C5.57 8.88 5.85 8.32 6.10 7.60C6.35 6.88 6.65 5.97 7.00 5.20C7.35 4.43 7.72 3.57 8.20 3.00C8.68 2.43 9.33 1.80 9.90 1.80Z" fill="#8a8a8a"/><g clip-path="url(#dm17)"><path d="M9.90 1.80C10.47 1.80 11.12 2.43 11.60 3.00C12.08 3.57 12.45 4.43 12.80 5.20C13.15 5.97 13.45 6.88 13.70 7.60C13.95 8.32 14.23 8.88 14.30 9.50C14.37 10.12 13.76 10.72 14.10 11.30C14.44 11.88 15.62 12.35 16.35 13.00C17.08 13.65 18.04 14.07 18.50 15.20C18.96 16.33 18.95 18.20 19.10 19.80C19.25 21.40 19.37 23.13 19.40 24.80C19.43 26.47 19.40 28.20 19.30 29.80C19.20 31.40 19.25 33.13 18.80 34.40C18.35 35.67 18.08 36.73 16.60 37.40C15.12 38.07 12.13 38.40 9.90 38.40C7.67 38.40 4.68 38.07 3.20 37.40C1.72 36.73 1.45 35.67 1.00 34.40C0.55 33.13 0.60 31.40 0.50 29.80C0.40 28.20 0.37 26.47 0.40 24.80C0.43 23.13 0.55 21.40 0.70 19.80C0.85 18.20 0.84 16.33 1.30 15.20C1.76 14.07 2.72 13.65 3.45 13.00C4.18 12.35 5.36 11.88 5.70 11.30C6.04 10.72 5.43 10.12 5.50 9.50C5.57 8.88 5.85 8.32 6.10 7.60C6.35 6.88 6.65 5.97 7.00 5.20C7.35 4.43 7.72 3.57 8.20 3.00C8.68 2.43 9.33 1.80 9.90 1.80Z" fill="url(#bodyD2)" filter="url(#blI2)"/><rect x="0" y="0" width="20" height="40" filter="url(#fur)" opacity=".3"/></g><ellipse cx="6.0" cy="9.4" rx="1.3" ry="1.4" fill="#8c8c8c"/><ellipse cx="13.8" cy="9.4" rx="1.3" ry="1.4" fill="#8c8c8c"/><ellipse cx="9.9" cy="17.8" rx="4.5" ry="3" fill="#f6f6f6" opacity=".8"/></g><g filter="url(#blT)"></g></g></g>
<clipPath id="c24"><rect x="120" y="283.5" width="18.7" height="39"/></clipPath>
<rect x="120" y="283.5" width="18.7" height="39" fill="#0b0b0b"/>
<g clip-path="url(#c24)"><g transform="translate(120,283.5) scale(0.9590,0.9750)"><clipPath id="dm18"><path d="M9.90 1.80C10.47 1.80 11.12 2.43 11.60 3.00C12.08 3.57 12.45 4.43 12.80 5.20C13.15 5.97 13.45 6.88 13.70 7.60C13.95 8.32 14.23 8.88 14.30 9.50C14.37 10.12 13.76 10.72 14.10 11.30C14.44 11.88 15.62 12.35 16.35 13.00C17.08 13.65 18.04 14.07 18.50 15.20C18.96 16.33 18.95 18.20 19.10 19.80C19.25 21.40 19.37 23.13 19.40 24.80C19.43 26.47 19.40 28.20 19.30 29.80C19.20 31.40 19.25 33.13 18.80 34.40C18.35 35.67 18.08 36.73 16.60 37.40C15.12 38.07 12.13 38.40 9.90 38.40C7.67 38.40 4.68 38.07 3.20 37.40C1.72 36.73 1.45 35.67 1.00 34.40C0.55 33.13 0.60 31.40 0.50 29.80C0.40 28.20 0.37 26.47 0.40 24.80C0.43 23.13 0.55 21.40 0.70 19.80C0.85 18.20 0.84 16.33 1.30 15.20C1.76 14.07 2.72 13.65 3.45 13.00C4.18 12.35 5.36 11.88 5.70 11.30C6.04 10.72 5.43 10.12 5.50 9.50C5.57 8.88 5.85 8.32 6.10 7.60C6.35 6.88 6.65 5.97 7.00 5.20C7.35 4.43 7.72 3.57 8.20 3.00C8.68 2.43 9.33 1.80 9.90 1.80Z"/></clipPath><g filter="url(#blD)"><path d="M3.1000000000000005 34.8L0.6000000000000003 38.599999999999994M16.7 34.8L19.2 38.599999999999994M4.12 13.8L0.72 11.8M15.68 13.8L19.080000000000002 11.8" stroke="#a8a8a8" stroke-width="1.5" fill="none" stroke-linecap="round"/><path d="M9.90 1.80C10.47 1.80 11.12 2.43 11.60 3.00C12.08 3.57 12.45 4.43 12.80 5.20C13.15 5.97 13.45 6.88 13.70 7.60C13.95 8.32 14.23 8.88 14.30 9.50C14.37 10.12 13.76 10.72 14.10 11.30C14.44 11.88 15.62 12.35 16.35 13.00C17.08 13.65 18.04 14.07 18.50 15.20C18.96 16.33 18.95 18.20 19.10 19.80C19.25 21.40 19.37 23.13 19.40 24.80C19.43 26.47 19.40 28.20 19.30 29.80C19.20 31.40 19.25 33.13 18.80 34.40C18.35 35.67 18.08 36.73 16.60 37.40C15.12 38.07 12.13 38.40 9.90 38.40C7.67 38.40 4.68 38.07 3.20 37.40C1.72 36.73 1.45 35.67 1.00 34.40C0.55 33.13 0.60 31.40 0.50 29.80C0.40 28.20 0.37 26.47 0.40 24.80C0.43 23.13 0.55 21.40 0.70 19.80C0.85 18.20 0.84 16.33 1.30 15.20C1.76 14.07 2.72 13.65 3.45 13.00C4.18 12.35 5.36 11.88 5.70 11.30C6.04 10.72 5.43 10.12 5.50 9.50C5.57 8.88 5.85 8.32 6.10 7.60C6.35 6.88 6.65 5.97 7.00 5.20C7.35 4.43 7.72 3.57 8.20 3.00C8.68 2.43 9.33 1.80 9.90 1.80Z" fill="#8a8a8a"/><g clip-path="url(#dm18)"><path d="M9.90 1.80C10.47 1.80 11.12 2.43 11.60 3.00C12.08 3.57 12.45 4.43 12.80 5.20C13.15 5.97 13.45 6.88 13.70 7.60C13.95 8.32 14.23 8.88 14.30 9.50C14.37 10.12 13.76 10.72 14.10 11.30C14.44 11.88 15.62 12.35 16.35 13.00C17.08 13.65 18.04 14.07 18.50 15.20C18.96 16.33 18.95 18.20 19.10 19.80C19.25 21.40 19.37 23.13 19.40 24.80C19.43 26.47 19.40 28.20 19.30 29.80C19.20 31.40 19.25 33.13 18.80 34.40C18.35 35.67 18.08 36.73 16.60 37.40C15.12 38.07 12.13 38.40 9.90 38.40C7.67 38.40 4.68 38.07 3.20 37.40C1.72 36.73 1.45 35.67 1.00 34.40C0.55 33.13 0.60 31.40 0.50 29.80C0.40 28.20 0.37 26.47 0.40 24.80C0.43 23.13 0.55 21.40 0.70 19.80C0.85 18.20 0.84 16.33 1.30 15.20C1.76 14.07 2.72 13.65 3.45 13.00C4.18 12.35 5.36 11.88 5.70 11.30C6.04 10.72 5.43 10.12 5.50 9.50C5.57 8.88 5.85 8.32 6.10 7.60C6.35 6.88 6.65 5.97 7.00 5.20C7.35 4.43 7.72 3.57 8.20 3.00C8.68 2.43 9.33 1.80 9.90 1.80Z" fill="url(#bodyD2)" filter="url(#blI2)"/><rect x="0" y="0" width="20" height="40" filter="url(#fur)" opacity=".3"/></g><ellipse cx="6.0" cy="9.4" rx="1.3" ry="1.4" fill="#8c8c8c"/><ellipse cx="13.8" cy="9.4" rx="1.3" ry="1.4" fill="#8c8c8c"/><ellipse cx="9.9" cy="17.8" rx="4.5" ry="3" fill="#f6f6f6" opacity=".8"/></g><g filter="url(#blT)"></g></g></g>
<clipPath id="c25"><rect x="142.2" y="283.5" width="18.6" height="39"/></clipPath>
<rect x="142.2" y="283.5" width="18.6" height="39" fill="#0b0b0b"/>
<g clip-path="url(#c25)"><g transform="translate(142.2,283.5) scale(0.9538,0.9750)"><clipPath id="dm19"><path d="M9.90 1.80C10.47 1.80 11.12 2.43 11.60 3.00C12.08 3.57 12.45 4.43 12.80 5.20C13.15 5.97 13.45 6.88 13.70 7.60C13.95 8.32 14.23 8.88 14.30 9.50C14.37 10.12 13.80 10.72 14.10 11.30C14.40 11.88 15.45 12.35 16.10 13.00C16.75 13.65 17.58 14.07 18.00 15.20C18.42 16.33 18.45 18.20 18.60 19.80C18.75 21.40 18.87 23.13 18.90 24.80C18.93 26.47 18.90 28.20 18.80 29.80C18.70 31.40 18.75 33.13 18.30 34.40C17.85 35.67 17.50 36.73 16.10 37.40C14.70 38.07 11.97 38.40 9.90 38.40C7.83 38.40 5.10 38.07 3.70 37.40C2.30 36.73 1.95 35.67 1.50 34.40C1.05 33.13 1.10 31.40 1.00 29.80C0.90 28.20 0.87 26.47 0.90 24.80C0.93 23.13 1.05 21.40 1.20 19.80C1.35 18.20 1.38 16.33 1.80 15.20C2.22 14.07 3.05 13.65 3.70 13.00C4.35 12.35 5.40 11.88 5.70 11.30C6.00 10.72 5.43 10.12 5.50 9.50C5.57 8.88 5.85 8.32 6.10 7.60C6.35 6.88 6.65 5.97 7.00 5.20C7.35 4.43 7.72 3.57 8.20 3.00C8.68 2.43 9.33 1.80 9.90 1.80Z"/></clipPath><g filter="url(#blD)"><path d="M3.6000000000000005 34.8L1.1000000000000003 38.599999999999994M16.2 34.8L18.7 38.599999999999994M4.42 13.8L1.02 11.8M15.38 13.8L18.78 11.8" stroke="#a8a8a8" stroke-width="1.5" fill="none" stroke-linecap="round"/><path d="M9.90 1.80C10.47 1.80 11.12 2.43 11.60 3.00C12.08 3.57 12.45 4.43 12.80 5.20C13.15 5.97 13.45 6.88 13.70 7.60C13.95 8.32 14.23 8.88 14.30 9.50C14.37 10.12 13.80 10.72 14.10 11.30C14.40 11.88 15.45 12.35 16.10 13.00C16.75 13.65 17.58 14.07 18.00 15.20C18.42 16.33 18.45 18.20 18.60 19.80C18.75 21.40 18.87 23.13 18.90 24.80C18.93 26.47 18.90 28.20 18.80 29.80C18.70 31.40 18.75 33.13 18.30 34.40C17.85 35.67 17.50 36.73 16.10 37.40C14.70 38.07 11.97 38.40 9.90 38.40C7.83 38.40 5.10 38.07 3.70 37.40C2.30 36.73 1.95 35.67 1.50 34.40C1.05 33.13 1.10 31.40 1.00 29.80C0.90 28.20 0.87 26.47 0.90 24.80C0.93 23.13 1.05 21.40 1.20 19.80C1.35 18.20 1.38 16.33 1.80 15.20C2.22 14.07 3.05 13.65 3.70 13.00C4.35 12.35 5.40 11.88 5.70 11.30C6.00 10.72 5.43 10.12 5.50 9.50C5.57 8.88 5.85 8.32 6.10 7.60C6.35 6.88 6.65 5.97 7.00 5.20C7.35 4.43 7.72 3.57 8.20 3.00C8.68 2.43 9.33 1.80 9.90 1.80Z" fill="#8a8a8a"/><g clip-path="url(#dm19)"><path d="M9.90 1.80C10.47 1.80 11.12 2.43 11.60 3.00C12.08 3.57 12.45 4.43 12.80 5.20C13.15 5.97 13.45 6.88 13.70 7.60C13.95 8.32 14.23 8.88 14.30 9.50C14.37 10.12 13.80 10.72 14.10 11.30C14.40 11.88 15.45 12.35 16.10 13.00C16.75 13.65 17.58 14.07 18.00 15.20C18.42 16.33 18.45 18.20 18.60 19.80C18.75 21.40 18.87 23.13 18.90 24.80C18.93 26.47 18.90 28.20 18.80 29.80C18.70 31.40 18.75 33.13 18.30 34.40C17.85 35.67 17.50 36.73 16.10 37.40C14.70 38.07 11.97 38.40 9.90 38.40C7.83 38.40 5.10 38.07 3.70 37.40C2.30 36.73 1.95 35.67 1.50 34.40C1.05 33.13 1.10 31.40 1.00 29.80C0.90 28.20 0.87 26.47 0.90 24.80C0.93 23.13 1.05 21.40 1.20 19.80C1.35 18.20 1.38 16.33 1.80 15.20C2.22 14.07 3.05 13.65 3.70 13.00C4.35 12.35 5.40 11.88 5.70 11.30C6.00 10.72 5.43 10.12 5.50 9.50C5.57 8.88 5.85 8.32 6.10 7.60C6.35 6.88 6.65 5.97 7.00 5.20C7.35 4.43 7.72 3.57 8.20 3.00C8.68 2.43 9.33 1.80 9.90 1.80Z" fill="url(#bodyD)" filter="url(#blI2)"/><rect x="0" y="0" width="20" height="40" filter="url(#fur)" opacity=".3"/></g><ellipse cx="6.0" cy="9.4" rx="1.3" ry="1.4" fill="#8c8c8c"/><ellipse cx="13.8" cy="9.4" rx="1.3" ry="1.4" fill="#8c8c8c"/><ellipse cx="9.9" cy="17.8" rx="4.5" ry="3" fill="#f6f6f6" opacity=".8"/></g><g filter="url(#blT)"><path d="M10.64 29.80C10.72 30.38 11.99 31.33 11.74 31.65C11.49 31.98 9.87 31.54 9.15 31.74C8.43 31.94 8.08 32.77 7.43 32.86C6.78 32.94 5.79 32.62 5.24 32.26C4.69 31.89 4.18 31.19 4.14 30.67C4.11 30.15 4.75 29.59 5.04 29.13C5.34 28.67 5.51 28.33 5.91 27.94C6.31 27.55 6.78 26.99 7.44 26.77C8.09 26.56 9.23 26.42 9.86 26.66C10.49 26.90 11.10 27.67 11.23 28.20C11.36 28.72 10.55 29.22 10.64 29.80Z" fill="#2626f4" opacity="1"/><path d="M10.94 29.80C10.93 30.11 10.34 30.46 10.00 30.70C9.67 30.93 9.33 31.11 8.94 31.23C8.55 31.35 8.12 31.41 7.67 31.41C7.22 31.40 6.67 31.37 6.25 31.20C5.83 31.03 5.21 30.69 5.15 30.38C5.09 30.08 5.63 29.64 5.90 29.37C6.16 29.10 6.44 28.96 6.74 28.79C7.04 28.61 7.37 28.35 7.70 28.34C8.03 28.32 8.31 28.63 8.71 28.72C9.11 28.81 9.73 28.68 10.10 28.86C10.47 29.04 10.96 29.49 10.94 29.80Z" fill="#3040f0" opacity="1"/><ellipse cx="12.6" cy="27" rx="1.3" ry="1.1" fill="#2626f4" opacity="1"/></g></g></g>
<clipPath id="c26"><rect x="163.6" y="283.5" width="17.9" height="39"/></clipPath>
<rect x="163.6" y="283.5" width="17.9" height="39" fill="#0b0b0b"/>
<g clip-path="url(#c26)"><g transform="translate(163.6,283.5) scale(0.9179,0.9750)"><clipPath id="dm20"><path d="M9.90 1.80C10.47 1.80 11.12 2.43 11.60 3.00C12.08 3.57 12.45 4.43 12.80 5.20C13.15 5.97 13.45 6.88 13.70 7.60C13.95 8.32 14.23 8.88 14.30 9.50C14.37 10.12 13.80 10.72 14.10 11.30C14.40 11.88 15.45 12.35 16.10 13.00C16.75 13.65 17.58 14.07 18.00 15.20C18.42 16.33 18.45 18.20 18.60 19.80C18.75 21.40 18.87 23.13 18.90 24.80C18.93 26.47 18.90 28.20 18.80 29.80C18.70 31.40 18.75 33.13 18.30 34.40C17.85 35.67 17.50 36.73 16.10 37.40C14.70 38.07 11.97 38.40 9.90 38.40C7.83 38.40 5.10 38.07 3.70 37.40C2.30 36.73 1.95 35.67 1.50 34.40C1.05 33.13 1.10 31.40 1.00 29.80C0.90 28.20 0.87 26.47 0.90 24.80C0.93 23.13 1.05 21.40 1.20 19.80C1.35 18.20 1.38 16.33 1.80 15.20C2.22 14.07 3.05 13.65 3.70 13.00C4.35 12.35 5.40 11.88 5.70 11.30C6.00 10.72 5.43 10.12 5.50 9.50C5.57 8.88 5.85 8.32 6.10 7.60C6.35 6.88 6.65 5.97 7.00 5.20C7.35 4.43 7.72 3.57 8.20 3.00C8.68 2.43 9.33 1.80 9.90 1.80Z"/></clipPath><g filter="url(#blD)"><path d="M3.6000000000000005 34.8L1.1000000000000003 38.599999999999994M16.2 34.8L18.7 38.599999999999994M4.42 13.8L1.02 11.8M15.38 13.8L18.78 11.8" stroke="#a8a8a8" stroke-width="1.5" fill="none" stroke-linecap="round"/><path d="M9.90 1.80C10.47 1.80 11.12 2.43 11.60 3.00C12.08 3.57 12.45 4.43 12.80 5.20C13.15 5.97 13.45 6.88 13.70 7.60C13.95 8.32 14.23 8.88 14.30 9.50C14.37 10.12 13.80 10.72 14.10 11.30C14.40 11.88 15.45 12.35 16.10 13.00C16.75 13.65 17.58 14.07 18.00 15.20C18.42 16.33 18.45 18.20 18.60 19.80C18.75 21.40 18.87 23.13 18.90 24.80C18.93 26.47 18.90 28.20 18.80 29.80C18.70 31.40 18.75 33.13 18.30 34.40C17.85 35.67 17.50 36.73 16.10 37.40C14.70 38.07 11.97 38.40 9.90 38.40C7.83 38.40 5.10 38.07 3.70 37.40C2.30 36.73 1.95 35.67 1.50 34.40C1.05 33.13 1.10 31.40 1.00 29.80C0.90 28.20 0.87 26.47 0.90 24.80C0.93 23.13 1.05 21.40 1.20 19.80C1.35 18.20 1.38 16.33 1.80 15.20C2.22 14.07 3.05 13.65 3.70 13.00C4.35 12.35 5.40 11.88 5.70 11.30C6.00 10.72 5.43 10.12 5.50 9.50C5.57 8.88 5.85 8.32 6.10 7.60C6.35 6.88 6.65 5.97 7.00 5.20C7.35 4.43 7.72 3.57 8.20 3.00C8.68 2.43 9.33 1.80 9.90 1.80Z" fill="#8a8a8a"/><g clip-path="url(#dm20)"><path d="M9.90 1.80C10.47 1.80 11.12 2.43 11.60 3.00C12.08 3.57 12.45 4.43 12.80 5.20C13.15 5.97 13.45 6.88 13.70 7.60C13.95 8.32 14.23 8.88 14.30 9.50C14.37 10.12 13.80 10.72 14.10 11.30C14.40 11.88 15.45 12.35 16.10 13.00C16.75 13.65 17.58 14.07 18.00 15.20C18.42 16.33 18.45 18.20 18.60 19.80C18.75 21.40 18.87 23.13 18.90 24.80C18.93 26.47 18.90 28.20 18.80 29.80C18.70 31.40 18.75 33.13 18.30 34.40C17.85 35.67 17.50 36.73 16.10 37.40C14.70 38.07 11.97 38.40 9.90 38.40C7.83 38.40 5.10 38.07 3.70 37.40C2.30 36.73 1.95 35.67 1.50 34.40C1.05 33.13 1.10 31.40 1.00 29.80C0.90 28.20 0.87 26.47 0.90 24.80C0.93 23.13 1.05 21.40 1.20 19.80C1.35 18.20 1.38 16.33 1.80 15.20C2.22 14.07 3.05 13.65 3.70 13.00C4.35 12.35 5.40 11.88 5.70 11.30C6.00 10.72 5.43 10.12 5.50 9.50C5.57 8.88 5.85 8.32 6.10 7.60C6.35 6.88 6.65 5.97 7.00 5.20C7.35 4.43 7.72 3.57 8.20 3.00C8.68 2.43 9.33 1.80 9.90 1.80Z" fill="url(#bodyD)" filter="url(#blI2)"/><rect x="0" y="0" width="20" height="40" filter="url(#fur)" opacity=".3"/></g><ellipse cx="6.0" cy="9.4" rx="1.3" ry="1.4" fill="#8c8c8c"/><ellipse cx="13.8" cy="9.4" rx="1.3" ry="1.4" fill="#8c8c8c"/><ellipse cx="9.9" cy="17.8" rx="4.5" ry="3" fill="#f6f6f6" opacity=".8"/></g><g filter="url(#blT)"><path d="M15.11 27.60C15.08 28.00 15.52 28.52 15.40 28.74C15.27 28.96 14.64 28.75 14.33 28.89C14.02 29.04 13.88 29.49 13.54 29.60C13.20 29.70 12.49 29.79 12.28 29.54C12.08 29.29 12.41 28.54 12.29 28.09C12.17 27.65 11.54 27.23 11.58 26.88C11.62 26.52 12.21 26.25 12.53 25.97C12.84 25.68 13.18 25.11 13.48 25.16C13.79 25.22 13.99 26.10 14.33 26.31C14.67 26.51 15.40 26.15 15.53 26.37C15.66 26.58 15.13 27.20 15.11 27.60Z" fill="#2626f4" opacity="1"/><path d="M14.59 31.80C14.50 32.02 14.11 32.14 13.92 32.33C13.73 32.53 13.73 32.82 13.46 32.98C13.18 33.15 12.55 33.39 12.26 33.31C11.96 33.22 11.94 32.65 11.70 32.46C11.46 32.26 10.96 32.29 10.83 32.13C10.71 31.97 10.82 31.68 10.94 31.49C11.05 31.31 11.29 31.20 11.51 31.01C11.74 30.82 11.92 30.44 12.27 30.34C12.62 30.24 13.24 30.29 13.61 30.40C13.98 30.52 14.33 30.80 14.49 31.03C14.65 31.27 14.69 31.58 14.59 31.80Z" fill="#2626f4" opacity="1"/></g></g></g>
<text x="234.6" y="187.2" font-size="16" text-anchor="start" class="b" >E</text>
<text transform="translate(249,288.4) rotate(-90)" font-size="11">p/sec/cm<tspan dy="-3.6" font-size="7.5" >2</tspan><tspan dy="3.6">/sr</tspan></text>
<path d="M294.9 193V306.3H489.6" stroke="#888" stroke-width=".9" fill="none"/>
<path d="M292.5 306.3h2.4M292.5 283.7h2.4M292.5 261.1h2.4M292.5 238.5h2.4M292.5 215.9h2.4M292.5 193.3h2.4M294.9 306.3v2M358.6 306.3v2M424 306.3v2M489.4 306.3v2" stroke="#888" stroke-width=".7"/>
<text x="288.6" y="309.7" font-size="9.3" text-anchor="end"  >0.0E+00</text>
<text x="288.6" y="287.09999999999997" font-size="9.3" text-anchor="end"  >1.0E+08</text>
<text x="288.6" y="264.5" font-size="9.3" text-anchor="end"  >2.0E+08</text>
<text x="288.6" y="241.9" font-size="9.3" text-anchor="end"  >3.0E+08</text>
<text x="288.6" y="219.3" font-size="9.3" text-anchor="end"  >4.0E+08</text>
<text x="288.6" y="196.70000000000002" font-size="9.3" text-anchor="end"  >5.0E+08</text>
<pattern id="grid" width="5.15" height="4.8" patternUnits="userSpaceOnUse" x="331.6" y="239.2"><rect width="5.15" height="4.8" fill="#fff"/><path d="M0 0H5.15M0 0V4.8" stroke="#000" stroke-width="1.2"/></pattern>
<path d="M307.2 287.1V272.8M304.8 272.8h4.8" stroke="#000" stroke-width=".9" fill="none"/>
<rect x="302.2" y="287.1" width="10.0" height="19.19999999999999" fill="#000" stroke="#000" stroke-width=".9"/>
<path d="M317.1 279.9V260.1M314.70000000000005 260.1h4.8" stroke="#000" stroke-width=".9" fill="none"/>
<rect x="312.2" y="279.9" width="9.800000000000011" height="26.400000000000034" fill="#fff" stroke="#000" stroke-width=".9"/>
<path d="M326.9 272.1V248.5M324.5 248.5h4.8" stroke="#000" stroke-width=".9" fill="none"/>
<rect x="322" y="272.1" width="9.800000000000011" height="34.19999999999999" fill="#c8c8c8" stroke="#000" stroke-width=".9"/>
<path d="M337.1 239.2V201.6M334.70000000000005 201.6h4.8" stroke="#000" stroke-width=".9" fill="none"/>
<rect x="332" y="239.2" width="10.199999999999989" height="67.10000000000002" fill="#fff" stroke="#000" stroke-width=".9"/>
<path d="M337.1 239.2V306.3M332 243.9H342.2M332 248.7H342.2M332 253.4H342.2M332 258.2H342.2M332 262.9H342.2M332 267.7H342.2M332 272.4H342.2M332 277.2H342.2M332 281.9H342.2M332 286.7H342.2M332 291.4H342.2M332 296.2H342.2M332 300.9H342.2" stroke="#000" stroke-width="1"/>
<path d="M371.55 288.6V272.4M369.15000000000003 272.4h4.8" stroke="#000" stroke-width=".9" fill="none"/>
<rect x="366.5" y="288.6" width="10.100000000000023" height="17.69999999999999" fill="#000" stroke="#000" stroke-width=".9"/>
<path d="M381.5 303.3V300.5M379.1 300.5h4.8" stroke="#000" stroke-width=".9" fill="none"/>
<rect x="376.7" y="303.3" width="9.600000000000023" height="3.0" fill="#fff" stroke="#000" stroke-width=".9"/>
<text x="381.5" y="298.40000000000003" font-size="9" text-anchor="middle" class="b" >*</text>
<path d="M391.1 304.3V300.6M388.70000000000005 300.6h4.8" stroke="#000" stroke-width=".9" fill="none"/>
<rect x="386.3" y="304.3" width="9.599999999999966" height="2.0" fill="#c8c8c8" stroke="#000" stroke-width=".9"/>
<text x="391.1" y="298.40000000000003" font-size="9" text-anchor="middle" class="b" >*</text>
<path d="M401.2 271.4V245.4M398.8 245.4h4.8" stroke="#000" stroke-width=".9" fill="none"/>
<rect x="395.9" y="271.4" width="10.600000000000023" height="34.900000000000034" fill="#fff" stroke="#000" stroke-width=".9"/>
<path d="M401.2 271.4V306.3M395.9 276.1H406.5M395.9 280.9H406.5M395.9 285.6H406.5M395.9 290.4H406.5M395.9 295.1H406.5M395.9 299.9H406.5M395.9 304.6H406.5" stroke="#000" stroke-width="1"/>
<path d="M411.75 239V204.7M409.35 204.7h4.8" stroke="#000" stroke-width=".9" fill="none"/>
<rect x="406.5" y="239" width="10.5" height="67.30000000000001" fill="#8c8c8c" stroke="#000" stroke-width=".9"/>
<path d="M436.1 284.2V276.1M433.70000000000005 276.1h4.8" stroke="#000" stroke-width=".9" fill="none"/>
<rect x="430.8" y="284.2" width="10.599999999999966" height="22.100000000000023" fill="#000" stroke="#000" stroke-width=".9"/>
<path d="M446.29999999999995 298V296.4M443.9 296.4h4.8" stroke="#000" stroke-width=".9" fill="none"/>
<rect x="441.4" y="298" width="9.800000000000011" height="8.300000000000011" fill="#fff" stroke="#000" stroke-width=".9"/>
<path d="M455.9 302.3V297.9M453.5 297.9h4.8" stroke="#000" stroke-width=".9" fill="none"/>
<rect x="451.2" y="302.3" width="9.400000000000034" height="4.0" fill="#c8c8c8" stroke="#000" stroke-width=".9"/>
<path d="M465.70000000000005 299.3V297.6M463.30000000000007 297.6h4.8" stroke="#000" stroke-width=".9" fill="none"/>
<rect x="460.6" y="299.3" width="10.199999999999989" height="7.0" fill="#fff" stroke="#000" stroke-width=".9"/>
<path d="M465.70000000000005 299.3V306.3M460.6 304.1H470.8" stroke="#000" stroke-width="1"/>
<text x="465.70000000000005" y="287.6" font-size="9" text-anchor="middle" class="b" >*</text>
<path d="M476.1 294.6V288.6M473.70000000000005 288.6h4.8" stroke="#000" stroke-width=".9" fill="none"/>
<rect x="470.8" y="294.6" width="10.599999999999966" height="11.699999999999989" fill="#8c8c8c" stroke="#000" stroke-width=".9"/>
<text x="476.1" y="287.6" font-size="9" text-anchor="middle" class="b" >*</text>
<rect x="441" y="193.9" width="5.9" height="6.1" fill="#000" stroke="#111" stroke-width="1.2"/>
<text x="449.6" y="199.8" font-size="10" text-anchor="start"  word-spacing="0.8">before <tspan x="484.4">CTL</tspan></text>
<rect x="441" y="208.79999999999998" width="5.9" height="6.1" fill="#fff" stroke="#111" stroke-width="1.2"/>
<text x="449.6" y="214.7" font-size="10" text-anchor="start"  word-spacing="0.8">D7 after CTL</text>
<rect x="441" y="223.5" width="5.9" height="6.1" fill="#c8c8c8" stroke="#111" stroke-width="1.2"/>
<text x="449.6" y="229.4" font-size="10" text-anchor="start"  word-spacing="0.8">D14 after CTL</text>
<rect x="441" y="238.0" width="5.9" height="6.1" fill="#fff" stroke="#111" stroke-width="1.5"/>
<text x="449.6" y="243.9" font-size="10" text-anchor="start"  word-spacing="0.8">D21 after CTL</text>
<rect x="441" y="252.49999999999997" width="5.9" height="6.1" fill="#8c8c8c" stroke="#111" stroke-width="1.2"/>
<text x="449.6" y="258.4" font-size="10" text-anchor="start"  word-spacing="0.8">D28 after CTL</text>
<text x="321.3" y="321" font-size="9.6" text-anchor="middle"  >Control</text>
<text x="321.3" y="331.5" font-size="9.6" text-anchor="middle"  >CTLs</text>
<text x="366.5" y="322.4" font-size="9.6">CD30CAR<tspan dy="-3.4" font-size="8" font-weight="bold">+</tspan></text>
<text x="391" y="332.6" font-size="9.6" text-anchor="middle"  >CTLs</text>
<text x="430.8" y="322.4" font-size="9.6">CD30CAR<tspan dy="-3.4" font-size="8" font-weight="bold">+</tspan></text>
<text x="454.5" y="332.6" font-size="9.6" text-anchor="middle"  >CTLs &amp; LCL</text>
</svg></body></html>
